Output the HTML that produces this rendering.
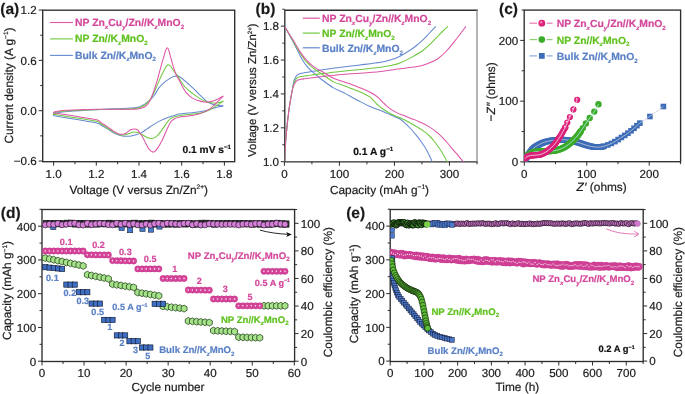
<!DOCTYPE html>
<html><head><meta charset="utf-8"><title>figure</title>
<style>
html,body{margin:0;padding:0;background:#fff;}
body{width:685px;height:394px;overflow:hidden;}
svg{display:block;font-family:"Liberation Sans", sans-serif;will-change:transform;text-rendering:geometricPrecision;}
</style></head><body>
<svg width="685" height="394" viewBox="0 0 685 394">
<rect width="685" height="394" fill="#fff"/>
<rect x="42.7" y="10.2" width="192" height="151.5" fill="none" stroke="#2e2e2e" stroke-width="1.35"/>
<line x1="53.6" y1="161.7" x2="53.6" y2="165.7" stroke="#2e2e2e" stroke-width="1.0"/>
<line x1="96.3" y1="161.7" x2="96.3" y2="165.7" stroke="#2e2e2e" stroke-width="1.0"/>
<line x1="139" y1="161.7" x2="139" y2="165.7" stroke="#2e2e2e" stroke-width="1.0"/>
<line x1="181.7" y1="161.7" x2="181.7" y2="165.7" stroke="#2e2e2e" stroke-width="1.0"/>
<line x1="224.4" y1="161.7" x2="224.4" y2="165.7" stroke="#2e2e2e" stroke-width="1.0"/>
<line x1="74.95" y1="161.7" x2="74.95" y2="164.2" stroke="#2e2e2e" stroke-width="1.0"/>
<line x1="117.65" y1="161.7" x2="117.65" y2="164.2" stroke="#2e2e2e" stroke-width="1.0"/>
<line x1="160.35" y1="161.7" x2="160.35" y2="164.2" stroke="#2e2e2e" stroke-width="1.0"/>
<line x1="203.05" y1="161.7" x2="203.05" y2="164.2" stroke="#2e2e2e" stroke-width="1.0"/>
<line x1="38.7" y1="10.02" x2="42.7" y2="10.02" stroke="#2e2e2e" stroke-width="1.0"/>
<line x1="38.7" y1="60.36" x2="42.7" y2="60.36" stroke="#2e2e2e" stroke-width="1.0"/>
<line x1="38.7" y1="110.7" x2="42.7" y2="110.7" stroke="#2e2e2e" stroke-width="1.0"/>
<line x1="38.7" y1="161.04" x2="42.7" y2="161.04" stroke="#2e2e2e" stroke-width="1.0"/>
<line x1="40.2" y1="35.19" x2="42.7" y2="35.19" stroke="#2e2e2e" stroke-width="1.0"/>
<line x1="40.2" y1="85.53" x2="42.7" y2="85.53" stroke="#2e2e2e" stroke-width="1.0"/>
<line x1="40.2" y1="135.87" x2="42.7" y2="135.87" stroke="#2e2e2e" stroke-width="1.0"/>
<text x="53.6" y="178.2" font-size="11.6" text-anchor="middle" font-weight="normal" fill="#1a1a1a" stroke="#1a1a1a" stroke-width="0.2" >1.0</text>
<text x="96.3" y="178.2" font-size="11.6" text-anchor="middle" font-weight="normal" fill="#1a1a1a" stroke="#1a1a1a" stroke-width="0.2" >1.2</text>
<text x="139" y="178.2" font-size="11.6" text-anchor="middle" font-weight="normal" fill="#1a1a1a" stroke="#1a1a1a" stroke-width="0.2" >1.4</text>
<text x="181.7" y="178.2" font-size="11.6" text-anchor="middle" font-weight="normal" fill="#1a1a1a" stroke="#1a1a1a" stroke-width="0.2" >1.6</text>
<text x="224.4" y="178.2" font-size="11.6" text-anchor="middle" font-weight="normal" fill="#1a1a1a" stroke="#1a1a1a" stroke-width="0.2" >1.8</text>
<text x="36.6" y="14.32" font-size="11.6" text-anchor="end" font-weight="normal" fill="#1a1a1a" stroke="#1a1a1a" stroke-width="0.2" >1.2</text>
<text x="36.6" y="64.66" font-size="11.6" text-anchor="end" font-weight="normal" fill="#1a1a1a" stroke="#1a1a1a" stroke-width="0.2" >0.6</text>
<text x="36.6" y="115" font-size="11.6" text-anchor="end" font-weight="normal" fill="#1a1a1a" stroke="#1a1a1a" stroke-width="0.2" >0.0</text>
<text x="36.6" y="165.34" font-size="11.6" text-anchor="end" font-weight="normal" fill="#1a1a1a" stroke="#1a1a1a" stroke-width="0.2" >&#8722;0.6</text>
<text x="138.8" y="193.9" font-size="11.85" text-anchor="middle" font-weight="normal" fill="#1a1a1a" stroke="#1a1a1a" stroke-width="0.2" >Voltage (V versus Zn/Zn<tspan font-size="6.6" dy="-4.6">2+</tspan><tspan dy="4.6">)</tspan></text>
<g transform="translate(12.8,85.5) rotate(-90)">
<text x="0" y="0" font-size="11.85" text-anchor="middle" font-weight="normal" fill="#1a1a1a" stroke="#1a1a1a" stroke-width="0.2" >Current density (A g<tspan font-size="6.6" dy="-4.6">&#8722;1</tspan><tspan dy="4.6">)</tspan></text>
</g>
<text x="0.3" y="14.2" font-size="15.5" text-anchor="start" font-weight="bold" fill="#1a1a1a" stroke="#1a1a1a" stroke-width="0.2" >(a)</text>
<line x1="50" y1="22.5" x2="72.9" y2="22.5" stroke="#de55a6" stroke-width="1.1"/>
<text x="75" y="26" font-size="10.4" text-anchor="start" font-weight="bold" fill="#d4489c" stroke="#d4489c" stroke-width="0.2" >NP Zn<tspan font-size="6.2" dy="2.5" font-style="italic">x</tspan><tspan dy="-2.5">Cu</tspan><tspan font-size="6.2" dy="2.5" font-style="italic">y</tspan><tspan dy="-2.5">/Zn//K</tspan><tspan font-size="6.2" dy="2.5" font-style="italic">z</tspan><tspan dy="-2.5">MnO</tspan><tspan font-size="6.2" dy="2.5">2</tspan></text>
<line x1="50" y1="38.9" x2="72.9" y2="38.9" stroke="#70c840" stroke-width="1.1"/>
<text x="75" y="42.4" font-size="10.4" text-anchor="start" font-weight="bold" fill="#60c220" stroke="#60c220" stroke-width="0.2" >NP Zn//K<tspan font-size="6.2" dy="2.5" font-style="italic">z</tspan><tspan dy="-2.5">MnO</tspan><tspan font-size="6.2" dy="2.5">2</tspan></text>
<line x1="50" y1="55.4" x2="72.9" y2="55.4" stroke="#6589d2" stroke-width="1.1"/>
<text x="75" y="58.9" font-size="10.4" text-anchor="start" font-weight="bold" fill="#5a80c6" stroke="#5a80c6" stroke-width="0.2" >Bulk Zn//K<tspan font-size="6.2" dy="2.5" font-style="italic">z</tspan><tspan dy="-2.5">MnO</tspan><tspan font-size="6.2" dy="2.5">2</tspan></text>
<text x="231" y="152.9" font-size="10.2" text-anchor="end" font-weight="bold" fill="#111" stroke="#111" stroke-width="0.2" >0.1 mV s<tspan font-size="6.2" dy="-4.0">&#8722;1</tspan></text>
<path d="M53.1,114.8 C53.58,114.53 54.42,113.67 56,113.2 C57.58,112.73 59.68,112.38 62.6,112 C65.52,111.62 69.25,111.22 73.5,110.9 C77.75,110.58 83.68,110.35 88.1,110.1 C92.52,109.85 95.52,109.62 100,109.4 C104.48,109.18 110.33,109 115,108.8 C119.67,108.6 124.77,108.37 128,108.2 C131.23,108.03 132.6,108.02 134.4,107.8 C136.2,107.58 137.45,107.32 138.8,106.9 C140.15,106.48 141.33,105.88 142.5,105.3 C143.67,104.72 144.52,104.3 145.8,103.4 C147.08,102.5 148.75,101.3 150.2,99.9 C151.65,98.5 153.02,97.03 154.5,95 C155.98,92.97 157.32,89.93 159.1,87.7 C160.88,85.47 163.17,83.28 165.2,81.6 C167.23,79.92 169.65,78.48 171.3,77.6 C172.95,76.72 173.95,76.55 175.1,76.3 C176.25,76.05 176.93,75.65 178.2,76.1 C179.47,76.55 181.1,77.77 182.7,79 C184.3,80.23 186.12,82.02 187.8,83.5 C189.48,84.98 190.9,86.1 192.8,87.9 C194.7,89.7 197.08,92.22 199.2,94.3 C201.32,96.38 203.6,98.85 205.5,100.4 C207.4,101.95 208.7,102.78 210.6,103.6 C212.5,104.42 214.78,104.92 216.9,105.3 C219.02,105.68 222.23,105.8 223.3,105.9" fill="none" stroke="#6589d2" stroke-width="1.05"/>
<path d="M223.3,105.9 C222.23,106.13 219.55,106.58 216.9,107.3 C214.25,108.02 210.55,109.4 207.4,110.2 C204.25,111 201.15,111.63 198,112.1 C194.85,112.57 191.67,112.68 188.5,113 C185.33,113.32 181.28,113.6 179,114 C176.72,114.4 176.75,114.78 174.8,115.4 C172.85,116.02 169.78,116.78 167.3,117.7 C164.82,118.62 162.2,119.75 159.9,120.9 C157.6,122.05 155.63,123.27 153.5,124.6 C151.37,125.93 149.23,127.48 147.1,128.9 C144.97,130.32 142.67,132.08 140.7,133.1 C138.73,134.12 137.1,134.48 135.3,135 C133.5,135.52 131.83,136 129.9,136.2 C127.97,136.4 125.47,136.35 123.7,136.2 C121.93,136.05 121.07,135.9 119.3,135.3 C117.53,134.7 115.03,133.63 113.1,132.6 C111.17,131.57 109.63,130.28 107.7,129.1 C105.77,127.92 103.18,126.47 101.5,125.5 C99.82,124.53 99.83,123.98 97.6,123.3 C95.37,122.62 91.5,122.03 88.1,121.4 C84.7,120.77 81.45,120.2 77.2,119.5 C72.95,118.8 66.62,117.85 62.6,117.2 C58.58,116.55 54.68,115.87 53.1,115.6" fill="none" stroke="#6589d2" stroke-width="1.05"/>
<path d="M53.1,113.6 C53.58,113.38 54.42,112.7 56,112.3 C57.58,111.9 59.68,111.52 62.6,111.2 C65.52,110.88 69.25,110.62 73.5,110.4 C77.75,110.18 83.68,110.03 88.1,109.9 C92.52,109.77 95.52,109.7 100,109.6 C104.48,109.5 110.33,109.4 115,109.3 C119.67,109.2 124.77,109.12 128,109 C131.23,108.88 132.6,108.82 134.4,108.6 C136.2,108.38 137.37,108.13 138.8,107.7 C140.23,107.27 141.72,106.68 143,106 C144.28,105.32 145.42,104.5 146.5,103.6 C147.58,102.7 148.47,101.98 149.5,100.6 C150.53,99.22 151.6,97.45 152.7,95.3 C153.8,93.15 154.98,90.23 156.1,87.7 C157.22,85.17 158.27,82.63 159.4,80.1 C160.53,77.57 161.88,74.6 162.9,72.5 C163.92,70.4 164.65,68.78 165.5,67.5 C166.35,66.22 167.25,65.1 168,64.8 C168.75,64.5 169.25,65 170,65.7 C170.75,66.4 171.65,67.83 172.5,69 C173.35,70.17 174.15,71.43 175.1,72.7 C176.05,73.97 177.15,75.02 178.2,76.6 C179.25,78.18 180.02,80.22 181.4,82.2 C182.78,84.18 184.6,86.6 186.5,88.5 C188.4,90.4 190.68,92 192.8,93.6 C194.92,95.2 197.08,96.82 199.2,98.1 C201.32,99.38 203.18,100.47 205.5,101.3 C207.82,102.13 210.93,102.87 213.1,103.1 C215.27,103.33 216.8,103.02 218.5,102.7 C220.2,102.38 222.5,101.45 223.3,101.2" fill="none" stroke="#70c840" stroke-width="1.05"/>
<path d="M223.3,101.2 C222.23,101.9 219.23,103.93 216.9,105.4 C214.57,106.87 211.67,108.82 209.3,110 C206.93,111.18 205.38,111.83 202.7,112.5 C200.02,113.17 196.37,113.6 193.2,114 C190.03,114.4 186.77,114.45 183.7,114.9 C180.63,115.35 177,116.07 174.8,116.7 C172.6,117.33 171.92,117.57 170.5,118.7 C169.08,119.83 167.72,121.63 166.3,123.5 C164.88,125.37 163.43,127.93 162,129.9 C160.57,131.87 158.95,134.02 157.7,135.3 C156.45,136.58 155.57,137.07 154.5,137.6 C153.43,138.13 152.3,138.42 151.3,138.5 C150.3,138.58 149.38,138.37 148.5,138.1 C147.62,137.83 147.3,137.63 146,136.9 C144.7,136.17 142.3,134.48 140.7,133.7 C139.1,132.92 137.83,132.43 136.4,132.2 C134.97,131.97 133.18,132.13 132.1,132.3 C131.02,132.47 131,132.8 129.9,133.2 C128.8,133.6 127.27,134.43 125.5,134.7 C123.73,134.97 121.37,135.3 119.3,134.8 C117.23,134.3 115.03,132.8 113.1,131.7 C111.17,130.6 109.63,129.45 107.7,128.2 C105.77,126.95 103.18,125.3 101.5,124.2 C99.82,123.1 99.83,122.33 97.6,121.6 C95.37,120.87 91.5,120.4 88.1,119.8 C84.7,119.2 81.45,118.68 77.2,118 C72.95,117.32 66.62,116.33 62.6,115.7 C58.58,115.07 54.68,114.45 53.1,114.2" fill="none" stroke="#70c840" stroke-width="1.05"/>
<path d="M53.1,112.6 C53.58,112.43 54.42,111.93 56,111.6 C57.58,111.27 59.68,110.88 62.6,110.6 C65.52,110.32 69.25,110.1 73.5,109.9 C77.75,109.7 83.68,109.5 88.1,109.4 C92.52,109.3 95.52,109.32 100,109.3 C104.48,109.28 110.33,109.3 115,109.3 C119.67,109.3 124.77,109.32 128,109.3 C131.23,109.28 132.57,109.3 134.4,109.2 C136.23,109.1 137.53,108.97 139,108.7 C140.47,108.43 142.03,108.08 143.2,107.6 C144.37,107.12 145.13,106.52 146,105.8 C146.87,105.08 147.73,104.17 148.4,103.3 C149.07,102.43 149.35,101.93 150,100.6 C150.65,99.27 151.48,97.45 152.3,95.3 C153.12,93.15 154.07,90.23 154.9,87.7 C155.73,85.17 156.55,82.63 157.3,80.1 C158.05,77.57 158.72,75.05 159.4,72.5 C160.08,69.95 160.68,67.35 161.4,64.8 C162.12,62.25 163.03,59.47 163.7,57.2 C164.37,54.93 164.83,52.77 165.4,51.2 C165.97,49.63 166.53,47.95 167.1,47.8 C167.67,47.65 168.22,48.73 168.8,50.3 C169.38,51.87 169.93,54.78 170.6,57.2 C171.27,59.62 172.05,62.33 172.8,64.8 C173.55,67.27 174.32,69.9 175.1,72 C175.88,74.1 176.67,75.77 177.5,77.4 C178.33,79.03 179.23,80.2 180.1,81.8 C180.97,83.4 181.63,85.15 182.7,87 C183.77,88.85 185.02,91.13 186.5,92.9 C187.98,94.67 189.68,96.33 191.6,97.6 C193.52,98.87 195.88,99.77 198,100.5 C200.12,101.23 202.62,101.75 204.3,102 C205.98,102.25 206.63,102.17 208.1,102 C209.57,101.83 211.37,101.55 213.1,101 C214.83,100.45 216.8,99.53 218.5,98.7 C220.2,97.87 222.5,96.45 223.3,96" fill="none" stroke="#de55a6" stroke-width="1.05"/>
<path d="M223.3,96 C222.75,96.58 221.07,98.45 220,99.5 C218.93,100.55 217.98,101.28 216.9,102.3 C215.82,103.32 214.45,104.67 213.5,105.6 C212.55,106.53 212.53,106.93 211.2,107.9 C209.87,108.87 207.7,110.33 205.5,111.4 C203.3,112.47 200.83,113.53 198,114.3 C195.17,115.07 191.67,115.52 188.5,116 C185.33,116.48 181.28,116.77 179,117.2 C176.72,117.63 176.22,117.75 174.8,118.6 C173.38,119.45 171.92,120.23 170.5,122.3 C169.08,124.37 167.72,127.95 166.3,131 C164.88,134.05 163.43,137.75 162,140.6 C160.57,143.45 159.12,146.18 157.7,148.1 C156.28,150.02 154.92,151.88 153.5,152.1 C152.08,152.32 150.45,150.78 149.2,149.4 C147.95,148.02 147.07,145.8 146,143.8 C144.93,141.8 143.78,139.18 142.8,137.4 C141.82,135.62 140.98,134.33 140.1,133.1 C139.22,131.87 138.45,130.68 137.5,130 C136.55,129.32 135.47,129.07 134.4,129 C133.33,128.93 132,129.28 131.1,129.6 C130.2,129.92 129.77,130.37 129,130.9 C128.23,131.43 127.38,132.28 126.5,132.8 C125.62,133.32 124.9,133.8 123.7,134 C122.5,134.2 120.58,134.23 119.3,134 C118.02,133.77 117.03,133.12 116,132.6 C114.97,132.08 114.48,131.85 113.1,130.9 C111.72,129.95 109.63,128.23 107.7,126.9 C105.77,125.57 103.18,124.05 101.5,122.9 C99.82,121.75 99.83,120.78 97.6,120 C95.37,119.22 91.5,118.8 88.1,118.2 C84.7,117.6 81.45,117.07 77.2,116.4 C72.95,115.73 66.62,114.8 62.6,114.2 C58.58,113.6 54.68,113.03 53.1,112.8" fill="none" stroke="#de55a6" stroke-width="1.05"/>
<path d="M477.7,10.2 H284.1 M284.8,9.5 V161.8 H477.7" fill="none" stroke="#2e2e2e" stroke-width="1.35"/>
<line x1="477" y1="9.5" x2="477" y2="162.5" stroke="#8c8c8c" stroke-width="1.3"/>
<line x1="284.4" y1="161.8" x2="284.4" y2="165.8" stroke="#2e2e2e" stroke-width="1.0"/>
<line x1="339.42" y1="161.8" x2="339.42" y2="165.8" stroke="#2e2e2e" stroke-width="1.0"/>
<line x1="394.44" y1="161.8" x2="394.44" y2="165.8" stroke="#2e2e2e" stroke-width="1.0"/>
<line x1="449.46" y1="161.8" x2="449.46" y2="165.8" stroke="#2e2e2e" stroke-width="1.0"/>
<line x1="311.91" y1="161.8" x2="311.91" y2="164.3" stroke="#2e2e2e" stroke-width="1.0"/>
<line x1="366.93" y1="161.8" x2="366.93" y2="164.3" stroke="#2e2e2e" stroke-width="1.0"/>
<line x1="421.95" y1="161.8" x2="421.95" y2="164.3" stroke="#2e2e2e" stroke-width="1.0"/>
<line x1="476.97" y1="161.8" x2="476.97" y2="164.3" stroke="#2e2e2e" stroke-width="1.0"/>
<line x1="280.8" y1="161.7" x2="284.8" y2="161.7" stroke="#2e2e2e" stroke-width="1.0"/>
<line x1="280.8" y1="127.82" x2="284.8" y2="127.82" stroke="#2e2e2e" stroke-width="1.0"/>
<line x1="280.8" y1="93.94" x2="284.8" y2="93.94" stroke="#2e2e2e" stroke-width="1.0"/>
<line x1="280.8" y1="60.06" x2="284.8" y2="60.06" stroke="#2e2e2e" stroke-width="1.0"/>
<line x1="280.8" y1="26.18" x2="284.8" y2="26.18" stroke="#2e2e2e" stroke-width="1.0"/>
<line x1="282.3" y1="144.76" x2="284.8" y2="144.76" stroke="#2e2e2e" stroke-width="1.0"/>
<line x1="282.3" y1="110.88" x2="284.8" y2="110.88" stroke="#2e2e2e" stroke-width="1.0"/>
<line x1="282.3" y1="77" x2="284.8" y2="77" stroke="#2e2e2e" stroke-width="1.0"/>
<line x1="282.3" y1="43.12" x2="284.8" y2="43.12" stroke="#2e2e2e" stroke-width="1.0"/>
<line x1="282.3" y1="9.24" x2="284.8" y2="9.24" stroke="#2e2e2e" stroke-width="1.0"/>
<text x="284.4" y="178.2" font-size="11.6" text-anchor="middle" font-weight="normal" fill="#1a1a1a" stroke="#1a1a1a" stroke-width="0.2" >0</text>
<text x="339.42" y="178.2" font-size="11.6" text-anchor="middle" font-weight="normal" fill="#1a1a1a" stroke="#1a1a1a" stroke-width="0.2" >100</text>
<text x="394.44" y="178.2" font-size="11.6" text-anchor="middle" font-weight="normal" fill="#1a1a1a" stroke="#1a1a1a" stroke-width="0.2" >200</text>
<text x="449.46" y="178.2" font-size="11.6" text-anchor="middle" font-weight="normal" fill="#1a1a1a" stroke="#1a1a1a" stroke-width="0.2" >300</text>
<text x="279" y="166" font-size="11.6" text-anchor="end" font-weight="normal" fill="#1a1a1a" stroke="#1a1a1a" stroke-width="0.2" >1.0</text>
<text x="279" y="132.12" font-size="11.6" text-anchor="end" font-weight="normal" fill="#1a1a1a" stroke="#1a1a1a" stroke-width="0.2" >1.2</text>
<text x="279" y="98.24" font-size="11.6" text-anchor="end" font-weight="normal" fill="#1a1a1a" stroke="#1a1a1a" stroke-width="0.2" >1.4</text>
<text x="279" y="64.36" font-size="11.6" text-anchor="end" font-weight="normal" fill="#1a1a1a" stroke="#1a1a1a" stroke-width="0.2" >1.6</text>
<text x="279" y="30.48" font-size="11.6" text-anchor="end" font-weight="normal" fill="#1a1a1a" stroke="#1a1a1a" stroke-width="0.2" >1.8</text>
<text x="379.5" y="193.9" font-size="11.85" text-anchor="middle" font-weight="normal" fill="#1a1a1a" stroke="#1a1a1a" stroke-width="0.2" >Capacity (mAh g<tspan font-size="6.6" dy="-4.6">&#8722;1</tspan><tspan dy="4.6">)</tspan></text>
<g transform="translate(256.4,90.1) rotate(-90)">
<text x="0" y="0" font-size="11.45" text-anchor="middle" font-weight="normal" fill="#1a1a1a" stroke="#1a1a1a" stroke-width="0.2" >Voltage (V versus Zn/Zn<tspan font-size="6.2" dy="-4.6">2+</tspan><tspan dy="4.6">)</tspan></text>
</g>
<text x="255.5" y="14.2" font-size="15.5" text-anchor="start" font-weight="bold" fill="#1a1a1a" stroke="#1a1a1a" stroke-width="0.2" >(b)</text>
<line x1="302.8" y1="18.2" x2="319.8" y2="18.2" stroke="#de55a6" stroke-width="1.2"/>
<text x="322" y="22.4" font-size="10.4" text-anchor="start" font-weight="bold" fill="#d4489c" stroke="#d4489c" stroke-width="0.2" >NP Zn<tspan font-size="6.2" dy="2.5" font-style="italic">x</tspan><tspan dy="-2.5">Cu</tspan><tspan font-size="6.2" dy="2.5" font-style="italic">y</tspan><tspan dy="-2.5">/Zn//K</tspan><tspan font-size="6.2" dy="2.5" font-style="italic">z</tspan><tspan dy="-2.5">MnO</tspan><tspan font-size="6.2" dy="2.5">2</tspan></text>
<line x1="302.8" y1="33.1" x2="319.8" y2="33.1" stroke="#70c840" stroke-width="1.2"/>
<text x="322" y="37.3" font-size="10.4" text-anchor="start" font-weight="bold" fill="#60c220" stroke="#60c220" stroke-width="0.2" >NP Zn//K<tspan font-size="6.2" dy="2.5" font-style="italic">z</tspan><tspan dy="-2.5">MnO</tspan><tspan font-size="6.2" dy="2.5">2</tspan></text>
<line x1="302.8" y1="47.8" x2="319.8" y2="47.8" stroke="#6589d2" stroke-width="1.2"/>
<text x="322" y="52" font-size="10.4" text-anchor="start" font-weight="bold" fill="#5a80c6" stroke="#5a80c6" stroke-width="0.2" >Bulk Zn//K<tspan font-size="6.2" dy="2.5" font-style="italic">z</tspan><tspan dy="-2.5">MnO</tspan><tspan font-size="6.2" dy="2.5">2</tspan></text>
<text x="393.2" y="155" font-size="10.3" text-anchor="end" font-weight="bold" fill="#111" stroke="#111" stroke-width="0.2" >0.1 A g<tspan font-size="6.2" dy="-4.0">&#8722;1</tspan></text>
<clipPath id="cb"><rect x="284.8" y="10.2" width="192.2" height="152.20000000000002"/></clipPath>
<g clip-path="url(#cb)">
<path d="M284.6,161.7 C284.73,158.88 285.02,150.5 285.4,144.8 C285.78,139.1 286.32,133.27 286.9,127.5 C287.48,121.73 288.3,114.78 288.9,110.2 C289.5,105.62 289.93,103.37 290.5,100 C291.07,96.63 291.75,93.08 292.3,90 C292.85,86.92 293.28,83.57 293.8,81.5 C294.32,79.43 294.83,78.65 295.4,77.6 C295.97,76.55 296.38,75.87 297.2,75.2 C298.02,74.53 299.12,74.02 300.3,73.6 C301.48,73.18 302.35,73.07 304.3,72.7 C306.25,72.33 308.72,71.92 312,71.4 C315.28,70.88 320.5,70.12 324,69.6 C327.5,69.08 329.5,68.77 333,68.3 C336.5,67.83 340.5,67.35 345,66.8 C349.5,66.25 354.07,65.75 360,65 C365.93,64.25 375.43,63.17 380.6,62.3 C385.77,61.43 387.77,60.82 391,59.8 C394.23,58.78 396.83,57.78 400,56.2 C403.17,54.62 407.25,52.08 410,50.3 C412.75,48.52 414.35,47.25 416.5,45.5 C418.65,43.75 420.73,41.88 422.9,39.8 C425.07,37.72 427.35,35.23 429.5,33 C431.65,30.77 434.75,27.5 435.8,26.4" fill="none" stroke="#6589d2" stroke-width="1.05"/>
<path d="M284.6,26.4 C285.05,27.22 285.8,28.58 287.3,31.3 C288.8,34.02 291.48,38.68 293.6,42.7 C295.72,46.72 297.88,51.58 300,55.4 C302.12,59.22 303.98,62.63 306.3,65.6 C308.62,68.57 311.35,70.88 313.9,73.2 C316.45,75.52 318.4,77.1 321.6,79.5 C324.8,81.9 329.2,85.28 333.1,87.6 C337,89.92 341.85,91.8 345,93.4 C348.15,95 349.67,95.93 352,97.2 C354.33,98.47 356.68,99.77 359,101 C361.32,102.23 363.58,103.48 365.9,104.6 C368.22,105.72 369.87,106.48 372.9,107.7 C375.93,108.92 381.08,110.68 384.1,111.9 C387.12,113.12 388.43,113.85 391,115 C393.57,116.15 397.13,117.42 399.5,118.8 C401.87,120.18 403.3,121.6 405.2,123.3 C407.1,125 409,126.93 410.9,129 C412.8,131.07 414.7,133.32 416.6,135.7 C418.5,138.08 420.55,140.77 422.3,143.3 C424.05,145.83 425.45,147.83 427.1,150.9 C428.75,153.97 431.35,159.9 432.2,161.7" fill="none" stroke="#6589d2" stroke-width="1.05"/>
<path d="M284.6,161.7 C284.73,158.88 285.02,150.5 285.4,144.8 C285.78,139.1 286.32,133.27 286.9,127.5 C287.48,121.73 288.3,114.78 288.9,110.2 C289.5,105.62 289.93,103.37 290.5,100 C291.07,96.63 291.72,92.8 292.3,90 C292.88,87.2 293.43,84.93 294,83.2 C294.57,81.47 295.12,80.53 295.7,79.6 C296.28,78.67 296.7,78.08 297.5,77.6 C298.3,77.12 299.37,76.95 300.5,76.7 C301.63,76.45 302.38,76.38 304.3,76.1 C306.22,75.82 308.72,75.42 312,75 C315.28,74.58 320.5,74.07 324,73.6 C327.5,73.13 329.5,72.63 333,72.2 C336.5,71.77 340.5,71.45 345,71 C349.5,70.55 354.07,70.13 360,69.5 C365.93,68.87 375.27,67.92 380.6,67.2 C385.93,66.48 388.77,65.92 392,65.2 C395.23,64.48 396.83,64.17 400,62.9 C403.17,61.63 407.18,59.67 411,57.6 C414.82,55.53 419.57,52.88 422.9,50.5 C426.23,48.12 428.47,45.72 431,43.3 C433.53,40.88 436.1,38.05 438.1,36 C440.1,33.95 441.35,32.6 443,31 C444.65,29.4 447.17,27.17 448,26.4" fill="none" stroke="#70c840" stroke-width="1.05"/>
<path d="M284.6,26.4 C285.05,27.17 285.8,28.38 287.3,31 C288.8,33.62 291.48,38.45 293.6,42.1 C295.72,45.75 297.88,49.63 300,52.9 C302.12,56.17 303.98,59.07 306.3,61.7 C308.62,64.33 311.35,66.68 313.9,68.7 C316.45,70.72 318.4,71.65 321.6,73.8 C324.8,75.95 329.2,79.57 333.1,81.6 C337,83.63 341.85,84.8 345,86 C348.15,87.2 349.67,87.87 352,88.8 C354.33,89.73 356.68,90.6 359,91.6 C361.32,92.6 364.05,93.87 365.9,94.8 C367.75,95.73 368.7,96.1 370.1,97.2 C371.5,98.3 372.9,100 374.3,101.4 C375.7,102.8 376.87,104.2 378.5,105.6 C380.13,107 382.02,108.4 384.1,109.8 C386.18,111.2 388.43,112.7 391,114 C393.57,115.3 396.5,116.22 399.5,117.6 C402.5,118.98 405.83,120.6 409,122.3 C412.17,124 416,126.3 418.5,127.8 C421,129.3 422.25,130.02 424,131.3 C425.75,132.58 427.33,133.88 429,135.5 C430.67,137.12 432.33,138.95 434,141 C435.67,143.05 437.45,145.53 439,147.8 C440.55,150.07 441.95,152.28 443.3,154.6 C444.65,156.92 446.47,160.52 447.1,161.7" fill="none" stroke="#70c840" stroke-width="1.05"/>
<path d="M284.6,161.7 C284.73,158.88 285.02,150.5 285.4,144.8 C285.78,139.1 286.32,133.27 286.9,127.5 C287.48,121.73 288.3,114.78 288.9,110.2 C289.5,105.62 289.93,103.37 290.5,100 C291.07,96.63 291.68,92.57 292.3,90 C292.92,87.43 293.58,86 294.2,84.6 C294.82,83.2 295.37,82.37 296,81.6 C296.63,80.83 297.17,80.38 298,80 C298.83,79.62 299.95,79.5 301,79.3 C302.05,79.1 302.47,79.05 304.3,78.8 C306.13,78.55 308.72,78.22 312,77.8 C315.28,77.38 320.5,76.7 324,76.3 C327.5,75.9 329.5,75.75 333,75.4 C336.5,75.05 340.5,74.55 345,74.2 C349.5,73.85 354.07,73.75 360,73.3 C365.93,72.85 373.93,72.25 380.6,71.5 C387.27,70.75 394.77,69.5 400,68.8 C405.23,68.1 408.18,67.88 412,67.3 C415.82,66.72 419.73,66.13 422.9,65.3 C426.07,64.47 428.47,63.43 431,62.3 C433.53,61.17 435.6,60.3 438.1,58.5 C440.6,56.7 443.47,54.1 446,51.5 C448.53,48.9 451.05,45.65 453.3,42.9 C455.55,40.15 457.42,37.75 459.5,35 C461.58,32.25 464.75,27.83 465.8,26.4" fill="none" stroke="#de55a6" stroke-width="1.05"/>
<path d="M284.6,26.4 C285.05,27.13 285.8,28.4 287.3,30.8 C288.8,33.2 291.48,37.33 293.6,40.8 C295.72,44.27 297.88,48.43 300,51.6 C302.12,54.77 303.98,57.27 306.3,59.8 C308.62,62.33 311.35,64.88 313.9,66.8 C316.45,68.72 318.4,69.43 321.6,71.3 C324.8,73.17 329.2,76.17 333.1,78 C337,79.83 341.85,81.18 345,82.3 C348.15,83.42 349.67,83.85 352,84.7 C354.33,85.55 356.68,86.48 359,87.4 C361.32,88.32 363.58,89.15 365.9,90.2 C368.22,91.25 370.8,92.42 372.9,93.7 C375,94.98 376.63,96.27 378.5,97.9 C380.37,99.53 382.25,101.75 384.1,103.5 C385.95,105.25 387.52,106.88 389.6,108.4 C391.68,109.92 394.2,111.4 396.6,112.6 C399,113.8 401.6,114.63 404,115.6 C406.4,116.57 408.58,117.43 411,118.4 C413.42,119.37 415.67,120.12 418.5,121.4 C421.33,122.68 424.82,124.2 428,126.1 C431.18,128 434.73,130.42 437.6,132.8 C440.47,135.18 442.98,138.02 445.2,140.4 C447.42,142.78 449,144.88 450.9,147.1 C452.8,149.32 454.55,151.27 456.6,153.7 C458.65,156.13 462.1,160.37 463.2,161.7" fill="none" stroke="#de55a6" stroke-width="1.05"/>
</g>
<rect x="524.2" y="10.1" width="156.4" height="151.6" fill="none" stroke="#2e2e2e" stroke-width="1.35"/>
<line x1="524.3" y1="161.7" x2="524.3" y2="165.7" stroke="#2e2e2e" stroke-width="1.0"/>
<line x1="586.75" y1="161.7" x2="586.75" y2="165.7" stroke="#2e2e2e" stroke-width="1.0"/>
<line x1="649.2" y1="161.7" x2="649.2" y2="165.7" stroke="#2e2e2e" stroke-width="1.0"/>
<line x1="555.52" y1="161.7" x2="555.52" y2="164.2" stroke="#2e2e2e" stroke-width="1.0"/>
<line x1="617.97" y1="161.7" x2="617.97" y2="164.2" stroke="#2e2e2e" stroke-width="1.0"/>
<line x1="680.42" y1="161.7" x2="680.42" y2="164.2" stroke="#2e2e2e" stroke-width="1.0"/>
<line x1="520.2" y1="161.9" x2="524.2" y2="161.9" stroke="#2e2e2e" stroke-width="1.0"/>
<line x1="520.2" y1="101.15" x2="524.2" y2="101.15" stroke="#2e2e2e" stroke-width="1.0"/>
<line x1="520.2" y1="40.4" x2="524.2" y2="40.4" stroke="#2e2e2e" stroke-width="1.0"/>
<line x1="521.7" y1="131.53" x2="524.2" y2="131.53" stroke="#2e2e2e" stroke-width="1.0"/>
<line x1="521.7" y1="70.78" x2="524.2" y2="70.78" stroke="#2e2e2e" stroke-width="1.0"/>
<line x1="521.7" y1="10.03" x2="524.2" y2="10.03" stroke="#2e2e2e" stroke-width="1.0"/>
<text x="524.3" y="178.2" font-size="11.6" text-anchor="middle" font-weight="normal" fill="#1a1a1a" stroke="#1a1a1a" stroke-width="0.2" >0</text>
<text x="518.2" y="166.2" font-size="11.6" text-anchor="end" font-weight="normal" fill="#1a1a1a" stroke="#1a1a1a" stroke-width="0.2" >0</text>
<text x="586.75" y="178.2" font-size="11.6" text-anchor="middle" font-weight="normal" fill="#1a1a1a" stroke="#1a1a1a" stroke-width="0.2" >100</text>
<text x="518.2" y="105.45" font-size="11.6" text-anchor="end" font-weight="normal" fill="#1a1a1a" stroke="#1a1a1a" stroke-width="0.2" >100</text>
<text x="649.2" y="178.2" font-size="11.6" text-anchor="middle" font-weight="normal" fill="#1a1a1a" stroke="#1a1a1a" stroke-width="0.2" >200</text>
<text x="518.2" y="44.7" font-size="11.6" text-anchor="end" font-weight="normal" fill="#1a1a1a" stroke="#1a1a1a" stroke-width="0.2" >200</text>
<text x="601.6" y="190.9" font-size="11.85" text-anchor="middle" font-weight="normal" fill="#1a1a1a" stroke="#1a1a1a" stroke-width="0.2" ><tspan font-style="italic">Z</tspan><tspan dx="0.6" font-style="italic">&#8242;</tspan> (ohms)</text>
<g transform="translate(494.6,91.9) rotate(-90)">
<text x="0" y="0" font-size="11.85" text-anchor="middle" font-weight="normal" fill="#1a1a1a" stroke="#1a1a1a" stroke-width="0.2" >&#8722;<tspan font-style="italic">Z</tspan><tspan dx="0.6" font-style="italic">&#8243;</tspan> (ohms)</text>
</g>
<text x="499" y="14.2" font-size="15.5" text-anchor="start" font-weight="bold" fill="#1a1a1a" stroke="#1a1a1a" stroke-width="0.2" >(c)</text>
<defs><radialGradient id="gp" cx="0.5" cy="0.5" r="0.55" fx="0.38" fy="0.32"><stop offset="0" stop-color="#fff4f8"/><stop offset="0.14" stop-color="#f4a0c6"/><stop offset="0.36" stop-color="#e42c86"/><stop offset="1" stop-color="#d41a72"/></radialGradient></defs>
<clipPath id="cc"><rect x="524.2" y="10.1" width="156.39999999999998" height="151.6"/></clipPath>
<g clip-path="url(#cc)">
<g fill="#3d6cb8">
<rect x="522.5" y="156.8" width="5.6" height="5.6"/>
<rect x="522.97" y="156.03" width="5.6" height="5.6"/>
<rect x="523.43" y="155.26" width="5.6" height="5.6"/>
<rect x="523.89" y="154.49" width="5.6" height="5.6"/>
<rect x="524.37" y="153.72" width="5.6" height="5.6"/>
<rect x="524.85" y="152.96" width="5.6" height="5.6"/>
<rect x="525.35" y="152.21" width="5.6" height="5.6"/>
<rect x="525.86" y="151.47" width="5.6" height="5.6"/>
<rect x="526.38" y="150.74" width="5.6" height="5.6"/>
<rect x="526.91" y="150.01" width="5.6" height="5.6"/>
<rect x="527.44" y="149.28" width="5.6" height="5.6"/>
<rect x="527.97" y="148.56" width="5.6" height="5.6"/>
<rect x="528.53" y="147.85" width="5.6" height="5.6"/>
<rect x="529.09" y="147.15" width="5.6" height="5.6"/>
<rect x="529.68" y="146.47" width="5.6" height="5.6"/>
<rect x="530.29" y="145.81" width="5.6" height="5.6"/>
<rect x="530.95" y="145.2" width="5.6" height="5.6"/>
<rect x="531.65" y="144.63" width="5.6" height="5.6"/>
<rect x="532.38" y="144.11" width="5.6" height="5.6"/>
<rect x="533.14" y="143.63" width="5.6" height="5.6"/>
<rect x="533.92" y="143.17" width="5.6" height="5.6"/>
<rect x="534.69" y="142.71" width="5.6" height="5.6"/>
<rect x="535.46" y="142.25" width="5.6" height="5.6"/>
<rect x="536.25" y="141.8" width="5.6" height="5.6"/>
<rect x="537.04" y="141.37" width="5.6" height="5.6"/>
<rect x="537.84" y="140.96" width="5.6" height="5.6"/>
<rect x="538.65" y="140.57" width="5.6" height="5.6"/>
<rect x="539.47" y="140.21" width="5.6" height="5.6"/>
<rect x="540.31" y="139.88" width="5.6" height="5.6"/>
<rect x="541.15" y="139.57" width="5.6" height="5.6"/>
<rect x="542.01" y="139.28" width="5.6" height="5.6"/>
<rect x="542.87" y="139.01" width="5.6" height="5.6"/>
<rect x="543.73" y="138.76" width="5.6" height="5.6"/>
<rect x="544.6" y="138.53" width="5.6" height="5.6"/>
<rect x="545.47" y="138.31" width="5.6" height="5.6"/>
<rect x="546.35" y="138.12" width="5.6" height="5.6"/>
<rect x="547.24" y="137.95" width="5.6" height="5.6"/>
<rect x="548.12" y="137.79" width="5.6" height="5.6"/>
<rect x="549.01" y="137.65" width="5.6" height="5.6"/>
<rect x="549.9" y="137.51" width="5.6" height="5.6"/>
<rect x="550.79" y="137.39" width="5.6" height="5.6"/>
<rect x="551.69" y="137.29" width="5.6" height="5.6"/>
<rect x="552.58" y="137.19" width="5.6" height="5.6"/>
<rect x="553.48" y="137.12" width="5.6" height="5.6"/>
<rect x="554.38" y="137.05" width="5.6" height="5.6"/>
<rect x="555.27" y="137" width="5.6" height="5.6"/>
<rect x="556.17" y="136.95" width="5.6" height="5.6"/>
<rect x="557.07" y="136.91" width="5.6" height="5.6"/>
<rect x="557.97" y="136.88" width="5.6" height="5.6"/>
<rect x="558.87" y="136.87" width="5.6" height="5.6"/>
<rect x="559.77" y="136.87" width="5.6" height="5.6"/>
<rect x="560.67" y="136.9" width="5.6" height="5.6"/>
<rect x="561.57" y="136.95" width="5.6" height="5.6"/>
<rect x="562.47" y="137.02" width="5.6" height="5.6"/>
<rect x="563.36" y="137.11" width="5.6" height="5.6"/>
<rect x="564.26" y="137.21" width="5.6" height="5.6"/>
<rect x="565.15" y="137.33" width="5.6" height="5.6"/>
<rect x="566.04" y="137.47" width="5.6" height="5.6"/>
<rect x="566.92" y="137.63" width="5.6" height="5.6"/>
<rect x="567.81" y="137.81" width="5.6" height="5.6"/>
<rect x="568.69" y="137.99" width="5.6" height="5.6"/>
<rect x="569.56" y="138.2" width="5.6" height="5.6"/>
<rect x="570.44" y="138.4" width="5.6" height="5.6"/>
<rect x="571.31" y="138.62" width="5.6" height="5.6"/>
<rect x="572.18" y="138.84" width="5.6" height="5.6"/>
<rect x="573.05" y="139.08" width="5.6" height="5.6"/>
<rect x="573.92" y="139.32" width="5.6" height="5.6"/>
<rect x="574.78" y="139.58" width="5.6" height="5.6"/>
<rect x="575.64" y="139.85" width="5.6" height="5.6"/>
<rect x="576.5" y="140.12" width="5.6" height="5.6"/>
<rect x="577.36" y="140.39" width="5.6" height="5.6"/>
<rect x="578.21" y="140.66" width="5.6" height="5.6"/>
<rect x="579.07" y="140.95" width="5.6" height="5.6"/>
<rect x="579.92" y="141.24" width="5.6" height="5.6"/>
<rect x="580.77" y="141.53" width="5.6" height="5.6"/>
<rect x="581.63" y="141.81" width="5.6" height="5.6"/>
<rect x="582.49" y="142.08" width="5.6" height="5.6"/>
<rect x="583.35" y="142.33" width="5.6" height="5.6"/>
<rect x="584.21" y="142.58" width="5.6" height="5.6"/>
<rect x="585.08" y="142.83" width="5.6" height="5.6"/>
<rect x="585.95" y="143.06" width="5.6" height="5.6"/>
<rect x="586.82" y="143.29" width="5.6" height="5.6"/>
<rect x="587.7" y="143.49" width="5.6" height="5.6"/>
<rect x="588.58" y="143.68" width="5.6" height="5.6"/>
<rect x="589.46" y="143.84" width="5.6" height="5.6"/>
<rect x="590.35" y="143.99" width="5.6" height="5.6"/>
<rect x="591.24" y="144.13" width="5.6" height="5.6"/>
<rect x="592.13" y="144.25" width="5.6" height="5.6"/>
<rect x="593.03" y="144.34" width="5.6" height="5.6"/>
<rect x="593.93" y="144.39" width="5.6" height="5.6"/>
<rect x="594.83" y="144.4" width="5.6" height="5.6"/>
<rect x="595.73" y="144.37" width="5.6" height="5.6"/>
<rect x="596.62" y="144.3" width="5.6" height="5.6"/>
<rect x="597.52" y="144.2" width="5.6" height="5.6"/>
<rect x="598.41" y="144.07" width="5.6" height="5.6"/>
<rect x="599.29" y="143.91" width="5.6" height="5.6"/>
<rect x="600.17" y="143.73" width="5.6" height="5.6"/>
<rect x="601.31" y="143.44" width="5.6" height="5.6"/>
<rect x="604.99" y="142.15" width="5.6" height="5.6"/>
<rect x="608.57" y="140.62" width="5.6" height="5.6"/>
<rect x="612.04" y="138.83" width="5.6" height="5.6"/>
<rect x="615.34" y="136.75" width="5.6" height="5.6"/>
<rect x="618.62" y="134.64" width="5.6" height="5.6"/>
<rect x="621.93" y="132.58" width="5.6" height="5.6"/>
<rect x="625.13" y="130.36" width="5.6" height="5.6"/>
<rect x="628.23" y="127.99" width="5.6" height="5.6"/>
<rect x="631.2" y="125.47" width="5.6" height="5.6"/>
<rect x="634.11" y="122.87" width="5.6" height="5.6"/>
<rect x="637.08" y="120.34" width="5.6" height="5.6"/>
<rect x="647.1" y="113.7" width="5.6" height="5.6"/>
<rect x="660.6" y="103.7" width="5.6" height="5.6"/>
</g>
<path d="M525.3,159.6 C525.83,158.75 527.2,156.33 528.5,154.5 C529.8,152.67 531.6,150.1 533.1,148.6 C534.6,147.1 535.97,146.43 537.5,145.5 C539.03,144.57 540.63,143.7 542.3,143 C543.97,142.3 545.75,141.75 547.5,141.3 C549.25,140.85 551.05,140.55 552.8,140.3 C554.55,140.05 556.23,139.9 558,139.8 C559.77,139.7 561.57,139.62 563.4,139.7 C565.23,139.78 567.03,139.97 569,140.3 C570.97,140.63 573.28,141.2 575.2,141.7 C577.12,142.2 578.75,142.75 580.5,143.3 C582.25,143.85 583.87,144.47 585.7,145 C587.53,145.53 589.53,146.13 591.5,146.5 C593.47,146.87 595.5,147.22 597.5,147.2 C599.5,147.18 601.48,146.9 603.5,146.4 C605.52,145.9 607.7,145 609.6,144.2 C611.5,143.4 613.13,142.6 614.9,141.6 C616.67,140.6 618.42,139.33 620.2,138.2 C621.98,137.07 623.82,136.02 625.6,134.8 C627.38,133.58 629.18,132.27 630.9,130.9 C632.62,129.53 634.42,127.88 635.9,126.6 C637.38,125.32 637.47,124.93 639.8,123.2 C642.13,121.47 645.97,118.98 649.9,116.2 C653.83,113.42 661.15,108.12 663.4,106.5" fill="none" stroke="#c4ccd8" stroke-width="0.8"/>
<g fill="#3cab2a">
<circle cx="524.8" cy="158.6" r="3.2"/>
<circle cx="525.38" cy="157.92" r="3.2"/>
<circle cx="525.96" cy="157.23" r="3.2"/>
<circle cx="526.56" cy="156.55" r="3.2"/>
<circle cx="527.19" cy="155.91" r="3.2"/>
<circle cx="527.86" cy="155.31" r="3.2"/>
<circle cx="528.57" cy="154.76" r="3.2"/>
<circle cx="529.3" cy="154.23" r="3.2"/>
<circle cx="530.04" cy="153.72" r="3.2"/>
<circle cx="530.8" cy="153.24" r="3.2"/>
<circle cx="531.6" cy="152.82" r="3.2"/>
<circle cx="532.42" cy="152.45" r="3.2"/>
<circle cx="533.27" cy="152.15" r="3.2"/>
<circle cx="534.14" cy="151.94" r="3.2"/>
<circle cx="535.03" cy="151.78" r="3.2"/>
<circle cx="535.92" cy="151.67" r="3.2"/>
<circle cx="536.82" cy="151.59" r="3.2"/>
<circle cx="537.71" cy="151.53" r="3.2"/>
<circle cx="538.61" cy="151.48" r="3.2"/>
<circle cx="539.51" cy="151.43" r="3.2"/>
<circle cx="540.41" cy="151.38" r="3.2"/>
<circle cx="541.31" cy="151.34" r="3.2"/>
<circle cx="542.21" cy="151.32" r="3.2"/>
<circle cx="543.11" cy="151.32" r="3.2"/>
<circle cx="544.01" cy="151.32" r="3.2"/>
<circle cx="544.91" cy="151.32" r="3.2"/>
<circle cx="545.81" cy="151.31" r="3.2"/>
<circle cx="546.71" cy="151.29" r="3.2"/>
<circle cx="547.61" cy="151.25" r="3.2"/>
<circle cx="548.51" cy="151.22" r="3.2"/>
<circle cx="549.41" cy="151.17" r="3.2"/>
<circle cx="550.3" cy="151.11" r="3.2"/>
<circle cx="551.2" cy="151.03" r="3.2"/>
<circle cx="552.1" cy="150.94" r="3.2"/>
<circle cx="552.99" cy="150.84" r="3.2"/>
<circle cx="553.88" cy="150.72" r="3.2"/>
<circle cx="554.77" cy="150.59" r="3.2"/>
<circle cx="555.66" cy="150.44" r="3.2"/>
<circle cx="556.54" cy="150.26" r="3.2"/>
<circle cx="557.42" cy="150.04" r="3.2"/>
<circle cx="558.28" cy="149.79" r="3.2"/>
<circle cx="559.14" cy="149.52" r="3.2"/>
<circle cx="559.98" cy="149.21" r="3.2"/>
<circle cx="560.82" cy="148.88" r="3.2"/>
<circle cx="561.65" cy="148.54" r="3.2"/>
<circle cx="562.48" cy="148.18" r="3.2"/>
<circle cx="563.29" cy="147.8" r="3.2"/>
<circle cx="564.1" cy="147.4" r="3.2"/>
<circle cx="564.89" cy="146.97" r="3.2"/>
<circle cx="565.66" cy="146.51" r="3.2"/>
<circle cx="566.42" cy="146.02" r="3.2"/>
<circle cx="567.16" cy="145.5" r="3.2"/>
<circle cx="567.88" cy="144.96" r="3.2"/>
<circle cx="568.58" cy="144.41" r="3.2"/>
<circle cx="569.28" cy="143.83" r="3.2"/>
<circle cx="569.97" cy="143.26" r="3.2"/>
<circle cx="570.65" cy="142.67" r="3.2"/>
<circle cx="571.33" cy="142.08" r="3.2"/>
<circle cx="572.01" cy="141.49" r="3.2"/>
<circle cx="572.67" cy="140.88" r="3.2"/>
<circle cx="573.33" cy="140.27" r="3.2"/>
<circle cx="573.98" cy="139.65" r="3.2"/>
<circle cx="574.62" cy="139.01" r="3.2"/>
<circle cx="575.24" cy="138.36" r="3.2"/>
<circle cx="575.84" cy="137.69" r="3.2"/>
<circle cx="576.43" cy="137" r="3.2"/>
<circle cx="577" cy="136.31" r="3.2"/>
<circle cx="577.56" cy="135.6" r="3.2"/>
<circle cx="578.11" cy="134.89" r="3.2"/>
<circle cx="578.65" cy="134.17" r="3.2"/>
<circle cx="579.19" cy="133.45" r="3.2"/>
<circle cx="579.72" cy="132.72" r="3.2"/>
<circle cx="580.23" cy="131.99" r="3.2"/>
<circle cx="580.73" cy="131.24" r="3.2"/>
<circle cx="582.8" cy="128.1" r="3.2"/>
<circle cx="585.9" cy="123.5" r="3.2"/>
<circle cx="589.7" cy="118" r="3.2"/>
<circle cx="594.3" cy="111.6" r="3.2"/>
<circle cx="598.5" cy="104.3" r="3.2"/>
</g>
<path d="M524.8,158.6 C525.33,158.03 526.62,156.27 528,155.2 C529.38,154.13 531.1,152.83 533.1,152.2 C535.1,151.57 537.8,151.55 540,151.4 C542.2,151.25 544.38,151.37 546.3,151.3 C548.22,151.23 549.75,151.18 551.5,151 C553.25,150.82 555.13,150.6 556.8,150.2 C558.47,149.8 559.97,149.25 561.5,148.6 C563.03,147.95 564.5,147.27 566,146.3 C567.5,145.33 568.97,144.12 570.5,142.8 C572.03,141.48 573.73,139.98 575.2,138.4 C576.67,136.82 578.03,135.02 579.3,133.3 C580.57,131.58 581.7,129.73 582.8,128.1 C583.9,126.47 584.75,125.18 585.9,123.5 C587.05,121.82 588.3,119.98 589.7,118 C591.1,116.02 592.83,113.88 594.3,111.6 C595.77,109.32 597.8,105.52 598.5,104.3" fill="none" stroke="#b0ece4" stroke-width="0.8"/>
<g fill="url(#gp)">
<circle cx="524.8" cy="158.8" r="3.1"/>
<circle cx="525.42" cy="158.15" r="3.1"/>
<circle cx="526.06" cy="157.51" r="3.1"/>
<circle cx="526.76" cy="156.95" r="3.1"/>
<circle cx="527.55" cy="156.52" r="3.1"/>
<circle cx="528.38" cy="156.18" r="3.1"/>
<circle cx="529.24" cy="155.9" r="3.1"/>
<circle cx="530.11" cy="155.68" r="3.1"/>
<circle cx="530.99" cy="155.52" r="3.1"/>
<circle cx="531.89" cy="155.41" r="3.1"/>
<circle cx="532.79" cy="155.35" r="3.1"/>
<circle cx="533.68" cy="155.3" r="3.1"/>
<circle cx="534.58" cy="155.24" r="3.1"/>
<circle cx="535.48" cy="155.16" r="3.1"/>
<circle cx="536.38" cy="155.09" r="3.1"/>
<circle cx="537.27" cy="155.02" r="3.1"/>
<circle cx="538.17" cy="154.93" r="3.1"/>
<circle cx="539.06" cy="154.82" r="3.1"/>
<circle cx="539.94" cy="154.64" r="3.1"/>
<circle cx="540.81" cy="154.41" r="3.1"/>
<circle cx="541.66" cy="154.11" r="3.1"/>
<circle cx="542.49" cy="153.77" r="3.1"/>
<circle cx="543.31" cy="153.39" r="3.1"/>
<circle cx="544.13" cy="153.01" r="3.1"/>
<circle cx="544.93" cy="152.59" r="3.1"/>
<circle cx="545.71" cy="152.15" r="3.1"/>
<circle cx="546.47" cy="151.67" r="3.1"/>
<circle cx="547.2" cy="151.15" r="3.1"/>
<circle cx="547.92" cy="150.61" r="3.1"/>
<circle cx="548.63" cy="150.05" r="3.1"/>
<circle cx="549.32" cy="149.47" r="3.1"/>
<circle cx="550" cy="148.88" r="3.1"/>
<circle cx="550.67" cy="148.28" r="3.1"/>
<circle cx="551.33" cy="147.67" r="3.1"/>
<circle cx="551.97" cy="147.04" r="3.1"/>
<circle cx="552.61" cy="146.4" r="3.1"/>
<circle cx="553.23" cy="145.75" r="3.1"/>
<circle cx="553.84" cy="145.09" r="3.1"/>
<circle cx="554.44" cy="144.42" r="3.1"/>
<circle cx="555.02" cy="143.73" r="3.1"/>
<circle cx="555.59" cy="143.04" r="3.1"/>
<circle cx="556.13" cy="142.32" r="3.1"/>
<circle cx="556.65" cy="141.58" r="3.1"/>
<circle cx="557.16" cy="140.84" r="3.1"/>
<circle cx="557.66" cy="140.09" r="3.1"/>
<circle cx="558.17" cy="139.35" r="3.1"/>
<circle cx="558.68" cy="138.61" r="3.1"/>
<circle cx="559.2" cy="137.87" r="3.1"/>
<circle cx="559.72" cy="137.12" r="3.1"/>
<circle cx="560.9" cy="135.26" r="3.1"/>
<circle cx="561.98" cy="133.34" r="3.1"/>
<circle cx="563.03" cy="131.41" r="3.1"/>
<circle cx="564.14" cy="129.51" r="3.1"/>
<circle cx="565.21" cy="127.59" r="3.1"/>
<circle cx="565.3" cy="127.4" r="3.1"/>
<circle cx="567.3" cy="122.5" r="3.1"/>
<circle cx="569.9" cy="117" r="3.1"/>
<circle cx="573.4" cy="109.4" r="3.1"/>
<circle cx="577.2" cy="99.8" r="3.1"/>
</g>
<path d="M524.8,158.8 C525.17,158.47 526.05,157.33 527,156.8 C527.95,156.27 529.17,155.87 530.5,155.6 C531.83,155.33 533.47,155.35 535,155.2 C536.53,155.05 538.32,155 539.7,154.7 C541.08,154.4 542.08,153.97 543.3,153.4 C544.52,152.83 545.65,152.27 547,151.3 C548.35,150.33 550.02,148.92 551.4,147.6 C552.78,146.28 554.17,144.78 555.3,143.4 C556.43,142.02 557.3,140.6 558.2,139.3 C559.1,138 559.87,136.97 560.7,135.6 C561.53,134.23 562.43,132.47 563.2,131.1 C563.97,129.73 564.62,128.83 565.3,127.4 C565.98,125.97 566.53,124.23 567.3,122.5 C568.07,120.77 568.88,119.18 569.9,117 C570.92,114.82 572.18,112.27 573.4,109.4 C574.62,106.53 576.57,101.4 577.2,99.8" fill="none" stroke="#fbe0ee" stroke-width="0.8"/>
</g>
<line x1="529.5" y1="23.2" x2="537" y2="23.2" stroke="#e878b0" stroke-width="1.2"/>
<line x1="546.6" y1="23.2" x2="552.6" y2="23.2" stroke="#e878b0" stroke-width="1.2"/>
<circle cx="541.8" cy="23.2" r="3.4" fill="url(#gp)"/>
<text x="556.7" y="27.3" font-size="10.4" text-anchor="start" font-weight="bold" fill="#d4489c" stroke="#d4489c" stroke-width="0.2" >NP Zn<tspan font-size="6.2" dy="2.5" font-style="italic">x</tspan><tspan dy="-2.5">Cu</tspan><tspan font-size="6.2" dy="2.5" font-style="italic">y</tspan><tspan dy="-2.5">/Zn//K</tspan><tspan font-size="6.2" dy="2.5" font-style="italic">z</tspan><tspan dy="-2.5">MnO</tspan><tspan font-size="6.2" dy="2.5">2</tspan></text>
<line x1="529.5" y1="39.6" x2="537" y2="39.6" stroke="#88d070" stroke-width="1.2"/>
<line x1="546.6" y1="39.6" x2="552.6" y2="39.6" stroke="#88d070" stroke-width="1.2"/>
<circle cx="541.8" cy="39.6" r="3.3" fill="#3cab2a"/>
<text x="556.7" y="43.7" font-size="10.4" text-anchor="start" font-weight="bold" fill="#60c220" stroke="#60c220" stroke-width="0.2" >NP Zn//K<tspan font-size="6.2" dy="2.5" font-style="italic">z</tspan><tspan dy="-2.5">MnO</tspan><tspan font-size="6.2" dy="2.5">2</tspan></text>
<line x1="529.5" y1="55.9" x2="537" y2="55.9" stroke="#88aade" stroke-width="1.2"/>
<line x1="546.6" y1="55.9" x2="552.6" y2="55.9" stroke="#88aade" stroke-width="1.2"/>
<rect x="538.9" y="53" width="5.8" height="5.8" fill="#3d6cb8"/>
<text x="556.7" y="60" font-size="10.4" text-anchor="start" font-weight="bold" fill="#5a80c6" stroke="#5a80c6" stroke-width="0.2" >Bulk Zn//K<tspan font-size="6.2" dy="2.5" font-style="italic">z</tspan><tspan dy="-2.5">MnO</tspan><tspan font-size="6.2" dy="2.5">2</tspan></text>
<rect x="42" y="209.5" width="252.6" height="152" fill="none" stroke="#2e2e2e" stroke-width="1.35"/>
<line x1="42" y1="361.5" x2="42" y2="365.5" stroke="#2e2e2e" stroke-width="1.0"/>
<line x1="84.05" y1="361.5" x2="84.05" y2="365.5" stroke="#2e2e2e" stroke-width="1.0"/>
<line x1="126.1" y1="361.5" x2="126.1" y2="365.5" stroke="#2e2e2e" stroke-width="1.0"/>
<line x1="168.15" y1="361.5" x2="168.15" y2="365.5" stroke="#2e2e2e" stroke-width="1.0"/>
<line x1="210.2" y1="361.5" x2="210.2" y2="365.5" stroke="#2e2e2e" stroke-width="1.0"/>
<line x1="252.25" y1="361.5" x2="252.25" y2="365.5" stroke="#2e2e2e" stroke-width="1.0"/>
<line x1="294.3" y1="361.5" x2="294.3" y2="365.5" stroke="#2e2e2e" stroke-width="1.0"/>
<line x1="63.02" y1="361.5" x2="63.02" y2="364" stroke="#2e2e2e" stroke-width="1.0"/>
<line x1="105.08" y1="361.5" x2="105.08" y2="364" stroke="#2e2e2e" stroke-width="1.0"/>
<line x1="147.12" y1="361.5" x2="147.12" y2="364" stroke="#2e2e2e" stroke-width="1.0"/>
<line x1="189.18" y1="361.5" x2="189.18" y2="364" stroke="#2e2e2e" stroke-width="1.0"/>
<line x1="231.22" y1="361.5" x2="231.22" y2="364" stroke="#2e2e2e" stroke-width="1.0"/>
<line x1="273.27" y1="361.5" x2="273.27" y2="364" stroke="#2e2e2e" stroke-width="1.0"/>
<line x1="38" y1="361.2" x2="42" y2="361.2" stroke="#2e2e2e" stroke-width="1.0"/>
<line x1="38" y1="327.45" x2="42" y2="327.45" stroke="#2e2e2e" stroke-width="1.0"/>
<line x1="38" y1="293.7" x2="42" y2="293.7" stroke="#2e2e2e" stroke-width="1.0"/>
<line x1="38" y1="259.95" x2="42" y2="259.95" stroke="#2e2e2e" stroke-width="1.0"/>
<line x1="38" y1="226.2" x2="42" y2="226.2" stroke="#2e2e2e" stroke-width="1.0"/>
<line x1="39.5" y1="344.32" x2="42" y2="344.32" stroke="#2e2e2e" stroke-width="1.0"/>
<line x1="39.5" y1="310.57" x2="42" y2="310.57" stroke="#2e2e2e" stroke-width="1.0"/>
<line x1="39.5" y1="276.82" x2="42" y2="276.82" stroke="#2e2e2e" stroke-width="1.0"/>
<line x1="39.5" y1="243.07" x2="42" y2="243.07" stroke="#2e2e2e" stroke-width="1.0"/>
<line x1="39.5" y1="209.32" x2="42" y2="209.32" stroke="#2e2e2e" stroke-width="1.0"/>
<line x1="294.6" y1="361.2" x2="298.6" y2="361.2" stroke="#2e2e2e" stroke-width="1.0"/>
<line x1="294.6" y1="333.62" x2="298.6" y2="333.62" stroke="#2e2e2e" stroke-width="1.0"/>
<line x1="294.6" y1="306.04" x2="298.6" y2="306.04" stroke="#2e2e2e" stroke-width="1.0"/>
<line x1="294.6" y1="278.46" x2="298.6" y2="278.46" stroke="#2e2e2e" stroke-width="1.0"/>
<line x1="294.6" y1="250.88" x2="298.6" y2="250.88" stroke="#2e2e2e" stroke-width="1.0"/>
<line x1="294.6" y1="223.3" x2="298.6" y2="223.3" stroke="#2e2e2e" stroke-width="1.0"/>
<line x1="294.6" y1="347.41" x2="297.1" y2="347.41" stroke="#2e2e2e" stroke-width="1.0"/>
<line x1="294.6" y1="319.83" x2="297.1" y2="319.83" stroke="#2e2e2e" stroke-width="1.0"/>
<line x1="294.6" y1="292.25" x2="297.1" y2="292.25" stroke="#2e2e2e" stroke-width="1.0"/>
<line x1="294.6" y1="264.67" x2="297.1" y2="264.67" stroke="#2e2e2e" stroke-width="1.0"/>
<line x1="294.6" y1="237.09" x2="297.1" y2="237.09" stroke="#2e2e2e" stroke-width="1.0"/>
<line x1="294.6" y1="209.51" x2="297.1" y2="209.51" stroke="#2e2e2e" stroke-width="1.0"/>
<text x="42" y="377.3" font-size="11.6" text-anchor="middle" font-weight="normal" fill="#1a1a1a" stroke="#1a1a1a" stroke-width="0.2" >0</text>
<text x="84.05" y="377.3" font-size="11.6" text-anchor="middle" font-weight="normal" fill="#1a1a1a" stroke="#1a1a1a" stroke-width="0.2" >10</text>
<text x="126.1" y="377.3" font-size="11.6" text-anchor="middle" font-weight="normal" fill="#1a1a1a" stroke="#1a1a1a" stroke-width="0.2" >20</text>
<text x="168.15" y="377.3" font-size="11.6" text-anchor="middle" font-weight="normal" fill="#1a1a1a" stroke="#1a1a1a" stroke-width="0.2" >30</text>
<text x="210.2" y="377.3" font-size="11.6" text-anchor="middle" font-weight="normal" fill="#1a1a1a" stroke="#1a1a1a" stroke-width="0.2" >40</text>
<text x="252.25" y="377.3" font-size="11.6" text-anchor="middle" font-weight="normal" fill="#1a1a1a" stroke="#1a1a1a" stroke-width="0.2" >50</text>
<text x="294.3" y="377.3" font-size="11.6" text-anchor="middle" font-weight="normal" fill="#1a1a1a" stroke="#1a1a1a" stroke-width="0.2" >60</text>
<text x="36.2" y="365.5" font-size="11.6" text-anchor="end" font-weight="normal" fill="#1a1a1a" stroke="#1a1a1a" stroke-width="0.2" >0</text>
<text x="36.2" y="331.75" font-size="11.6" text-anchor="end" font-weight="normal" fill="#1a1a1a" stroke="#1a1a1a" stroke-width="0.2" >100</text>
<text x="36.2" y="298" font-size="11.6" text-anchor="end" font-weight="normal" fill="#1a1a1a" stroke="#1a1a1a" stroke-width="0.2" >200</text>
<text x="36.2" y="264.25" font-size="11.6" text-anchor="end" font-weight="normal" fill="#1a1a1a" stroke="#1a1a1a" stroke-width="0.2" >300</text>
<text x="36.2" y="230.5" font-size="11.6" text-anchor="end" font-weight="normal" fill="#1a1a1a" stroke="#1a1a1a" stroke-width="0.2" >400</text>
<text x="300.8" y="365.5" font-size="11.6" text-anchor="start" font-weight="normal" fill="#1a1a1a" stroke="#1a1a1a" stroke-width="0.2" >0</text>
<text x="300.8" y="337.92" font-size="11.6" text-anchor="start" font-weight="normal" fill="#1a1a1a" stroke="#1a1a1a" stroke-width="0.2" >20</text>
<text x="300.8" y="310.34" font-size="11.6" text-anchor="start" font-weight="normal" fill="#1a1a1a" stroke="#1a1a1a" stroke-width="0.2" >40</text>
<text x="300.8" y="282.76" font-size="11.6" text-anchor="start" font-weight="normal" fill="#1a1a1a" stroke="#1a1a1a" stroke-width="0.2" >60</text>
<text x="300.8" y="255.18" font-size="11.6" text-anchor="start" font-weight="normal" fill="#1a1a1a" stroke="#1a1a1a" stroke-width="0.2" >80</text>
<text x="300.8" y="227.6" font-size="11.6" text-anchor="start" font-weight="normal" fill="#1a1a1a" stroke="#1a1a1a" stroke-width="0.2" >100</text>
<text x="168" y="391.1" font-size="11.85" text-anchor="middle" font-weight="normal" fill="#1a1a1a" stroke="#1a1a1a" stroke-width="0.2" >Cycle number</text>
<g transform="translate(11.2,290.5) rotate(-90)">
<text x="0" y="0" font-size="11.85" text-anchor="middle" font-weight="normal" fill="#1a1a1a" stroke="#1a1a1a" stroke-width="0.2" >Capacity (mAh g<tspan font-size="6.6" dy="-4.6">&#8722;1</tspan><tspan dy="4.6">)</tspan></text>
</g>
<g transform="translate(331.8,292.2) rotate(-90)">
<text x="0" y="0" font-size="11.85" text-anchor="middle" font-weight="normal" fill="#1a1a1a" stroke="#1a1a1a" stroke-width="0.2" >Coulombic efficiency (%)</text>
</g>
<text x="0.8" y="217.5" font-size="15.5" text-anchor="start" font-weight="bold" fill="#1a1a1a" stroke="#1a1a1a" stroke-width="0.2" >(d)</text>
<rect x="43.2" y="220.24" width="6.2" height="6.4" fill="#2c2c34" stroke="#101010" stroke-width="0.5"/>
<rect x="47.41" y="220.49" width="6.2" height="6.4" fill="#2c2c34" stroke="#101010" stroke-width="0.5"/>
<rect x="51.62" y="220.35" width="6.2" height="6.4" fill="#2c2c34" stroke="#101010" stroke-width="0.5"/>
<rect x="55.82" y="220.53" width="6.2" height="6.4" fill="#2c2c34" stroke="#101010" stroke-width="0.5"/>
<rect x="60.02" y="220.55" width="6.2" height="6.4" fill="#2c2c34" stroke="#101010" stroke-width="0.5"/>
<rect x="64.23" y="220.1" width="6.2" height="6.4" fill="#2c2c34" stroke="#101010" stroke-width="0.5"/>
<rect x="68.44" y="220.06" width="6.2" height="6.4" fill="#2c2c34" stroke="#101010" stroke-width="0.5"/>
<rect x="72.64" y="220.72" width="6.2" height="6.4" fill="#2c2c34" stroke="#101010" stroke-width="0.5"/>
<rect x="76.84" y="220.26" width="6.2" height="6.4" fill="#2c2c34" stroke="#101010" stroke-width="0.5"/>
<rect x="81.05" y="220.24" width="6.2" height="6.4" fill="#2c2c34" stroke="#101010" stroke-width="0.5"/>
<rect x="85.26" y="220.85" width="6.2" height="6.4" fill="#2c2c34" stroke="#101010" stroke-width="0.5"/>
<rect x="89.46" y="220.43" width="6.2" height="6.4" fill="#2c2c34" stroke="#101010" stroke-width="0.5"/>
<rect x="93.67" y="220.72" width="6.2" height="6.4" fill="#2c2c34" stroke="#101010" stroke-width="0.5"/>
<rect x="97.87" y="220.43" width="6.2" height="6.4" fill="#2c2c34" stroke="#101010" stroke-width="0.5"/>
<rect x="102.08" y="220.56" width="6.2" height="6.4" fill="#2c2c34" stroke="#101010" stroke-width="0.5"/>
<rect x="106.28" y="220.17" width="6.2" height="6.4" fill="#2c2c34" stroke="#101010" stroke-width="0.5"/>
<rect x="110.49" y="220.56" width="6.2" height="6.4" fill="#2c2c34" stroke="#101010" stroke-width="0.5"/>
<rect x="114.69" y="220.75" width="6.2" height="6.4" fill="#2c2c34" stroke="#101010" stroke-width="0.5"/>
<rect x="118.9" y="220.47" width="6.2" height="6.4" fill="#2c2c34" stroke="#101010" stroke-width="0.5"/>
<rect x="123.1" y="220.64" width="6.2" height="6.4" fill="#2c2c34" stroke="#101010" stroke-width="0.5"/>
<rect x="127.31" y="220.59" width="6.2" height="6.4" fill="#2c2c34" stroke="#101010" stroke-width="0.5"/>
<rect x="131.51" y="220.1" width="6.2" height="6.4" fill="#2c2c34" stroke="#101010" stroke-width="0.5"/>
<rect x="135.72" y="220.66" width="6.2" height="6.4" fill="#2c2c34" stroke="#101010" stroke-width="0.5"/>
<rect x="139.92" y="220.52" width="6.2" height="6.4" fill="#2c2c34" stroke="#101010" stroke-width="0.5"/>
<rect x="144.12" y="220.29" width="6.2" height="6.4" fill="#2c2c34" stroke="#101010" stroke-width="0.5"/>
<rect x="148.33" y="220.08" width="6.2" height="6.4" fill="#2c2c34" stroke="#101010" stroke-width="0.5"/>
<rect x="152.53" y="220.74" width="6.2" height="6.4" fill="#2c2c34" stroke="#101010" stroke-width="0.5"/>
<rect x="156.74" y="220.43" width="6.2" height="6.4" fill="#2c2c34" stroke="#101010" stroke-width="0.5"/>
<rect x="160.95" y="220.63" width="6.2" height="6.4" fill="#2c2c34" stroke="#101010" stroke-width="0.5"/>
<rect x="165.15" y="220.75" width="6.2" height="6.4" fill="#2c2c34" stroke="#101010" stroke-width="0.5"/>
<rect x="169.35" y="220.62" width="6.2" height="6.4" fill="#2c2c34" stroke="#101010" stroke-width="0.5"/>
<rect x="173.56" y="220.79" width="6.2" height="6.4" fill="#2c2c34" stroke="#101010" stroke-width="0.5"/>
<rect x="177.77" y="220.37" width="6.2" height="6.4" fill="#2c2c34" stroke="#101010" stroke-width="0.5"/>
<rect x="181.97" y="220.69" width="6.2" height="6.4" fill="#2c2c34" stroke="#101010" stroke-width="0.5"/>
<rect x="186.18" y="220.41" width="6.2" height="6.4" fill="#2c2c34" stroke="#101010" stroke-width="0.5"/>
<rect x="190.38" y="220.8" width="6.2" height="6.4" fill="#2c2c34" stroke="#101010" stroke-width="0.5"/>
<rect x="194.59" y="220.75" width="6.2" height="6.4" fill="#2c2c34" stroke="#101010" stroke-width="0.5"/>
<rect x="198.79" y="220.13" width="6.2" height="6.4" fill="#2c2c34" stroke="#101010" stroke-width="0.5"/>
<rect x="203" y="220.16" width="6.2" height="6.4" fill="#2c2c34" stroke="#101010" stroke-width="0.5"/>
<rect x="207.2" y="220.23" width="6.2" height="6.4" fill="#2c2c34" stroke="#101010" stroke-width="0.5"/>
<rect x="211.41" y="220.82" width="6.2" height="6.4" fill="#2c2c34" stroke="#101010" stroke-width="0.5"/>
<rect x="215.61" y="220.4" width="6.2" height="6.4" fill="#2c2c34" stroke="#101010" stroke-width="0.5"/>
<rect x="219.81" y="220.55" width="6.2" height="6.4" fill="#2c2c34" stroke="#101010" stroke-width="0.5"/>
<rect x="224.02" y="220.29" width="6.2" height="6.4" fill="#2c2c34" stroke="#101010" stroke-width="0.5"/>
<rect x="228.22" y="220.46" width="6.2" height="6.4" fill="#2c2c34" stroke="#101010" stroke-width="0.5"/>
<rect x="232.43" y="220.36" width="6.2" height="6.4" fill="#2c2c34" stroke="#101010" stroke-width="0.5"/>
<rect x="236.63" y="220.33" width="6.2" height="6.4" fill="#2c2c34" stroke="#101010" stroke-width="0.5"/>
<rect x="240.84" y="220.52" width="6.2" height="6.4" fill="#2c2c34" stroke="#101010" stroke-width="0.5"/>
<rect x="245.05" y="220.52" width="6.2" height="6.4" fill="#2c2c34" stroke="#101010" stroke-width="0.5"/>
<rect x="249.25" y="220.77" width="6.2" height="6.4" fill="#2c2c34" stroke="#101010" stroke-width="0.5"/>
<rect x="253.46" y="220.6" width="6.2" height="6.4" fill="#2c2c34" stroke="#101010" stroke-width="0.5"/>
<rect x="257.66" y="220.79" width="6.2" height="6.4" fill="#2c2c34" stroke="#101010" stroke-width="0.5"/>
<rect x="261.87" y="220.74" width="6.2" height="6.4" fill="#2c2c34" stroke="#101010" stroke-width="0.5"/>
<rect x="266.07" y="220.84" width="6.2" height="6.4" fill="#2c2c34" stroke="#101010" stroke-width="0.5"/>
<rect x="270.27" y="220.59" width="6.2" height="6.4" fill="#2c2c34" stroke="#101010" stroke-width="0.5"/>
<rect x="274.48" y="220.18" width="6.2" height="6.4" fill="#2c2c34" stroke="#101010" stroke-width="0.5"/>
<rect x="278.69" y="220.74" width="6.2" height="6.4" fill="#2c2c34" stroke="#101010" stroke-width="0.5"/>
<rect x="282.89" y="220.82" width="6.2" height="6.4" fill="#2c2c34" stroke="#101010" stroke-width="0.5"/>
<rect x="50.7" y="224.4" width="5.2" height="5.2" fill="#4a7ccc" stroke="#15203a" stroke-width="0.6"/>
<rect x="119" y="225.3" width="5.2" height="5.2" fill="#4a7ccc" stroke="#15203a" stroke-width="0.6"/>
<rect x="127.5" y="227.5" width="5.2" height="5.2" fill="#4a7ccc" stroke="#15203a" stroke-width="0.6"/>
<rect x="139.9" y="226.2" width="5.2" height="5.2" fill="#4a7ccc" stroke="#15203a" stroke-width="0.6"/>
<rect x="148.4" y="227" width="5.2" height="5.2" fill="#4a7ccc" stroke="#15203a" stroke-width="0.6"/>
<rect x="156.9" y="223.9" width="5.2" height="5.2" fill="#4a7ccc" stroke="#15203a" stroke-width="0.6"/>
<circle cx="45.3" cy="224.86" r="3.05" fill="#d580d8" stroke="#1c101c" stroke-width="0.65"/>
<circle cx="49.51" cy="224.25" r="3.05" fill="#d580d8" stroke="#1c101c" stroke-width="0.65"/>
<circle cx="53.72" cy="224.51" r="3.05" fill="#d580d8" stroke="#1c101c" stroke-width="0.65"/>
<circle cx="57.92" cy="223.61" r="3.05" fill="#d580d8" stroke="#1c101c" stroke-width="0.65"/>
<circle cx="62.12" cy="224.72" r="3.05" fill="#d580d8" stroke="#1c101c" stroke-width="0.65"/>
<circle cx="66.33" cy="224.26" r="3.05" fill="#d580d8" stroke="#1c101c" stroke-width="0.65"/>
<circle cx="70.53" cy="223.74" r="3.05" fill="#d580d8" stroke="#1c101c" stroke-width="0.65"/>
<circle cx="74.74" cy="223.34" r="3.05" fill="#d580d8" stroke="#1c101c" stroke-width="0.65"/>
<circle cx="78.94" cy="224.76" r="3.05" fill="#d580d8" stroke="#1c101c" stroke-width="0.65"/>
<circle cx="83.15" cy="225.01" r="3.05" fill="#d580d8" stroke="#1c101c" stroke-width="0.65"/>
<circle cx="87.36" cy="223.39" r="3.05" fill="#d580d8" stroke="#1c101c" stroke-width="0.65"/>
<circle cx="91.56" cy="224.67" r="3.05" fill="#d580d8" stroke="#1c101c" stroke-width="0.65"/>
<circle cx="95.77" cy="223.97" r="3.05" fill="#d580d8" stroke="#1c101c" stroke-width="0.65"/>
<circle cx="99.97" cy="223.5" r="3.05" fill="#d580d8" stroke="#1c101c" stroke-width="0.65"/>
<circle cx="104.18" cy="223.76" r="3.05" fill="#d580d8" stroke="#1c101c" stroke-width="0.65"/>
<circle cx="108.38" cy="224.61" r="3.05" fill="#d580d8" stroke="#1c101c" stroke-width="0.65"/>
<circle cx="112.59" cy="224.8" r="3.05" fill="#d580d8" stroke="#1c101c" stroke-width="0.65"/>
<circle cx="116.79" cy="223.31" r="3.05" fill="#d580d8" stroke="#1c101c" stroke-width="0.65"/>
<circle cx="121" cy="224.33" r="3.05" fill="#d580d8" stroke="#1c101c" stroke-width="0.65"/>
<circle cx="125.2" cy="223.31" r="3.05" fill="#d580d8" stroke="#1c101c" stroke-width="0.65"/>
<circle cx="129.41" cy="224.52" r="3.05" fill="#d580d8" stroke="#1c101c" stroke-width="0.65"/>
<circle cx="133.61" cy="223.82" r="3.05" fill="#d580d8" stroke="#1c101c" stroke-width="0.65"/>
<circle cx="137.81" cy="224.81" r="3.05" fill="#d580d8" stroke="#1c101c" stroke-width="0.65"/>
<circle cx="142.02" cy="224.99" r="3.05" fill="#d580d8" stroke="#1c101c" stroke-width="0.65"/>
<circle cx="146.22" cy="224.14" r="3.05" fill="#d580d8" stroke="#1c101c" stroke-width="0.65"/>
<circle cx="150.43" cy="225.02" r="3.05" fill="#d580d8" stroke="#1c101c" stroke-width="0.65"/>
<circle cx="154.63" cy="223.78" r="3.05" fill="#d580d8" stroke="#1c101c" stroke-width="0.65"/>
<circle cx="158.84" cy="223.37" r="3.05" fill="#d580d8" stroke="#1c101c" stroke-width="0.65"/>
<circle cx="163.05" cy="224.31" r="3.05" fill="#d580d8" stroke="#1c101c" stroke-width="0.65"/>
<circle cx="167.25" cy="223.28" r="3.05" fill="#d580d8" stroke="#1c101c" stroke-width="0.65"/>
<circle cx="171.45" cy="223.58" r="3.05" fill="#d580d8" stroke="#1c101c" stroke-width="0.65"/>
<circle cx="175.66" cy="223.96" r="3.05" fill="#d580d8" stroke="#1c101c" stroke-width="0.65"/>
<circle cx="179.87" cy="224.33" r="3.05" fill="#d580d8" stroke="#1c101c" stroke-width="0.65"/>
<circle cx="184.07" cy="223.51" r="3.05" fill="#d580d8" stroke="#1c101c" stroke-width="0.65"/>
<circle cx="188.28" cy="223.3" r="3.05" fill="#d580d8" stroke="#1c101c" stroke-width="0.65"/>
<circle cx="192.48" cy="224.79" r="3.05" fill="#d580d8" stroke="#1c101c" stroke-width="0.65"/>
<circle cx="196.69" cy="223.79" r="3.05" fill="#d580d8" stroke="#1c101c" stroke-width="0.65"/>
<circle cx="200.89" cy="224.95" r="3.05" fill="#d580d8" stroke="#1c101c" stroke-width="0.65"/>
<circle cx="205.09" cy="224.84" r="3.05" fill="#d580d8" stroke="#1c101c" stroke-width="0.65"/>
<circle cx="209.3" cy="223.91" r="3.05" fill="#d580d8" stroke="#1c101c" stroke-width="0.65"/>
<circle cx="213.5" cy="224.06" r="3.05" fill="#d580d8" stroke="#1c101c" stroke-width="0.65"/>
<circle cx="217.71" cy="224.16" r="3.05" fill="#d580d8" stroke="#1c101c" stroke-width="0.65"/>
<circle cx="221.91" cy="224.39" r="3.05" fill="#d580d8" stroke="#1c101c" stroke-width="0.65"/>
<circle cx="226.12" cy="224.3" r="3.05" fill="#d580d8" stroke="#1c101c" stroke-width="0.65"/>
<circle cx="230.32" cy="224.23" r="3.05" fill="#d580d8" stroke="#1c101c" stroke-width="0.65"/>
<circle cx="234.53" cy="224.34" r="3.05" fill="#d580d8" stroke="#1c101c" stroke-width="0.65"/>
<circle cx="238.73" cy="224.92" r="3.05" fill="#d580d8" stroke="#1c101c" stroke-width="0.65"/>
<circle cx="242.94" cy="224.14" r="3.05" fill="#d580d8" stroke="#1c101c" stroke-width="0.65"/>
<circle cx="247.15" cy="224" r="3.05" fill="#d580d8" stroke="#1c101c" stroke-width="0.65"/>
<circle cx="251.35" cy="224.52" r="3.05" fill="#d580d8" stroke="#1c101c" stroke-width="0.65"/>
<circle cx="255.56" cy="223.66" r="3.05" fill="#d580d8" stroke="#1c101c" stroke-width="0.65"/>
<circle cx="259.76" cy="223.77" r="3.05" fill="#d580d8" stroke="#1c101c" stroke-width="0.65"/>
<circle cx="263.97" cy="224.99" r="3.05" fill="#d580d8" stroke="#1c101c" stroke-width="0.65"/>
<circle cx="268.17" cy="224.17" r="3.05" fill="#d580d8" stroke="#1c101c" stroke-width="0.65"/>
<circle cx="272.38" cy="224.21" r="3.05" fill="#d580d8" stroke="#1c101c" stroke-width="0.65"/>
<circle cx="276.58" cy="223.25" r="3.05" fill="#d580d8" stroke="#1c101c" stroke-width="0.65"/>
<circle cx="280.79" cy="223.97" r="3.05" fill="#d580d8" stroke="#1c101c" stroke-width="0.65"/>
<circle cx="284.99" cy="224.27" r="3.05" fill="#d580d8" stroke="#1c101c" stroke-width="0.65"/>
<path d="M259.9,230.1 Q272,233.6 289.5,234.4" fill="none" stroke="#111" stroke-width="0.9"/>
<path d="M291.8,234.5 L286.2,231.9 L287.6,234.5 L286.2,237.1 Z" fill="#111"/>
<defs><path id="hx" d="M0,-3.5 L3.0,-1.75 L3.0,1.75 L0,3.5 L-3.0,1.75 L-3.0,-1.75 Z"/></defs>
<use href="#hx" x="45.3" y="258" fill="#a6e38a" stroke="#1f3d16" stroke-width="0.75"/>
<use href="#hx" x="49.51" y="258.88" fill="#a6e38a" stroke="#1f3d16" stroke-width="0.75"/>
<use href="#hx" x="53.72" y="259.76" fill="#a6e38a" stroke="#1f3d16" stroke-width="0.75"/>
<use href="#hx" x="57.92" y="260.63" fill="#a6e38a" stroke="#1f3d16" stroke-width="0.75"/>
<use href="#hx" x="62.12" y="261.51" fill="#a6e38a" stroke="#1f3d16" stroke-width="0.75"/>
<use href="#hx" x="66.33" y="262.39" fill="#a6e38a" stroke="#1f3d16" stroke-width="0.75"/>
<use href="#hx" x="70.53" y="263.27" fill="#a6e38a" stroke="#1f3d16" stroke-width="0.75"/>
<use href="#hx" x="74.74" y="264.14" fill="#a6e38a" stroke="#1f3d16" stroke-width="0.75"/>
<use href="#hx" x="78.94" y="265.02" fill="#a6e38a" stroke="#1f3d16" stroke-width="0.75"/>
<use href="#hx" x="83.15" y="265.9" fill="#a6e38a" stroke="#1f3d16" stroke-width="0.75"/>
<use href="#hx" x="87.36" y="274.7" fill="#a6e38a" stroke="#1f3d16" stroke-width="0.75"/>
<use href="#hx" x="91.56" y="275.52" fill="#a6e38a" stroke="#1f3d16" stroke-width="0.75"/>
<use href="#hx" x="95.77" y="276.34" fill="#a6e38a" stroke="#1f3d16" stroke-width="0.75"/>
<use href="#hx" x="99.97" y="277.16" fill="#a6e38a" stroke="#1f3d16" stroke-width="0.75"/>
<use href="#hx" x="104.18" y="277.98" fill="#a6e38a" stroke="#1f3d16" stroke-width="0.75"/>
<use href="#hx" x="108.38" y="278.8" fill="#a6e38a" stroke="#1f3d16" stroke-width="0.75"/>
<use href="#hx" x="112.59" y="284.2" fill="#a6e38a" stroke="#1f3d16" stroke-width="0.75"/>
<use href="#hx" x="116.79" y="284.84" fill="#a6e38a" stroke="#1f3d16" stroke-width="0.75"/>
<use href="#hx" x="121" y="285.48" fill="#a6e38a" stroke="#1f3d16" stroke-width="0.75"/>
<use href="#hx" x="125.2" y="286.12" fill="#a6e38a" stroke="#1f3d16" stroke-width="0.75"/>
<use href="#hx" x="129.41" y="286.76" fill="#a6e38a" stroke="#1f3d16" stroke-width="0.75"/>
<use href="#hx" x="133.61" y="287.4" fill="#a6e38a" stroke="#1f3d16" stroke-width="0.75"/>
<use href="#hx" x="137.81" y="292.5" fill="#a6e38a" stroke="#1f3d16" stroke-width="0.75"/>
<use href="#hx" x="142.02" y="293.16" fill="#a6e38a" stroke="#1f3d16" stroke-width="0.75"/>
<use href="#hx" x="146.22" y="293.82" fill="#a6e38a" stroke="#1f3d16" stroke-width="0.75"/>
<use href="#hx" x="150.43" y="294.48" fill="#a6e38a" stroke="#1f3d16" stroke-width="0.75"/>
<use href="#hx" x="154.63" y="295.14" fill="#a6e38a" stroke="#1f3d16" stroke-width="0.75"/>
<use href="#hx" x="158.84" y="295.8" fill="#a6e38a" stroke="#1f3d16" stroke-width="0.75"/>
<use href="#hx" x="163.05" y="306.3" fill="#a6e38a" stroke="#1f3d16" stroke-width="0.75"/>
<use href="#hx" x="167.25" y="306.76" fill="#a6e38a" stroke="#1f3d16" stroke-width="0.75"/>
<use href="#hx" x="171.45" y="307.22" fill="#a6e38a" stroke="#1f3d16" stroke-width="0.75"/>
<use href="#hx" x="175.66" y="307.68" fill="#a6e38a" stroke="#1f3d16" stroke-width="0.75"/>
<use href="#hx" x="179.87" y="308.14" fill="#a6e38a" stroke="#1f3d16" stroke-width="0.75"/>
<use href="#hx" x="184.07" y="308.6" fill="#a6e38a" stroke="#1f3d16" stroke-width="0.75"/>
<use href="#hx" x="188.28" y="321" fill="#a6e38a" stroke="#1f3d16" stroke-width="0.75"/>
<use href="#hx" x="192.48" y="321.32" fill="#a6e38a" stroke="#1f3d16" stroke-width="0.75"/>
<use href="#hx" x="196.69" y="321.64" fill="#a6e38a" stroke="#1f3d16" stroke-width="0.75"/>
<use href="#hx" x="200.89" y="321.96" fill="#a6e38a" stroke="#1f3d16" stroke-width="0.75"/>
<use href="#hx" x="205.09" y="322.28" fill="#a6e38a" stroke="#1f3d16" stroke-width="0.75"/>
<use href="#hx" x="209.3" y="322.6" fill="#a6e38a" stroke="#1f3d16" stroke-width="0.75"/>
<use href="#hx" x="213.5" y="330.6" fill="#a6e38a" stroke="#1f3d16" stroke-width="0.75"/>
<use href="#hx" x="217.71" y="330.8" fill="#a6e38a" stroke="#1f3d16" stroke-width="0.75"/>
<use href="#hx" x="221.91" y="331" fill="#a6e38a" stroke="#1f3d16" stroke-width="0.75"/>
<use href="#hx" x="226.12" y="331.2" fill="#a6e38a" stroke="#1f3d16" stroke-width="0.75"/>
<use href="#hx" x="230.32" y="331.4" fill="#a6e38a" stroke="#1f3d16" stroke-width="0.75"/>
<use href="#hx" x="234.53" y="331.6" fill="#a6e38a" stroke="#1f3d16" stroke-width="0.75"/>
<use href="#hx" x="238.73" y="337.2" fill="#a6e38a" stroke="#1f3d16" stroke-width="0.75"/>
<use href="#hx" x="242.94" y="337.32" fill="#a6e38a" stroke="#1f3d16" stroke-width="0.75"/>
<use href="#hx" x="247.15" y="337.44" fill="#a6e38a" stroke="#1f3d16" stroke-width="0.75"/>
<use href="#hx" x="251.35" y="337.56" fill="#a6e38a" stroke="#1f3d16" stroke-width="0.75"/>
<use href="#hx" x="255.56" y="337.68" fill="#a6e38a" stroke="#1f3d16" stroke-width="0.75"/>
<use href="#hx" x="259.76" y="337.8" fill="#a6e38a" stroke="#1f3d16" stroke-width="0.75"/>
<use href="#hx" x="263.97" y="305.8" fill="#a6e38a" stroke="#1f3d16" stroke-width="0.75"/>
<use href="#hx" x="268.17" y="305.8" fill="#a6e38a" stroke="#1f3d16" stroke-width="0.75"/>
<use href="#hx" x="272.38" y="305.8" fill="#a6e38a" stroke="#1f3d16" stroke-width="0.75"/>
<use href="#hx" x="276.58" y="305.8" fill="#a6e38a" stroke="#1f3d16" stroke-width="0.75"/>
<use href="#hx" x="280.79" y="305.8" fill="#a6e38a" stroke="#1f3d16" stroke-width="0.75"/>
<use href="#hx" x="284.99" y="305.8" fill="#a6e38a" stroke="#1f3d16" stroke-width="0.75"/>
<rect x="42.76" y="264.6" width="5.1" height="5.2" fill="#3f6fc4" stroke="#121a30" stroke-width="0.65"/>
<rect x="46.96" y="265.02" width="5.1" height="5.2" fill="#3f6fc4" stroke="#121a30" stroke-width="0.65"/>
<rect x="51.17" y="265.45" width="5.1" height="5.2" fill="#3f6fc4" stroke="#121a30" stroke-width="0.65"/>
<rect x="55.37" y="265.87" width="5.1" height="5.2" fill="#3f6fc4" stroke="#121a30" stroke-width="0.65"/>
<rect x="59.58" y="266.3" width="5.1" height="5.2" fill="#3f6fc4" stroke="#121a30" stroke-width="0.65"/>
<rect x="63.78" y="282" width="5.1" height="5.2" fill="#3f6fc4" stroke="#121a30" stroke-width="0.65"/>
<rect x="67.98" y="282" width="5.1" height="5.2" fill="#3f6fc4" stroke="#121a30" stroke-width="0.65"/>
<rect x="72.19" y="282" width="5.1" height="5.2" fill="#3f6fc4" stroke="#121a30" stroke-width="0.65"/>
<rect x="76.39" y="289.6" width="5.1" height="5.2" fill="#3f6fc4" stroke="#121a30" stroke-width="0.65"/>
<rect x="80.6" y="289.6" width="5.1" height="5.2" fill="#3f6fc4" stroke="#121a30" stroke-width="0.65"/>
<rect x="84.81" y="289.6" width="5.1" height="5.2" fill="#3f6fc4" stroke="#121a30" stroke-width="0.65"/>
<rect x="89.01" y="301" width="5.1" height="5.2" fill="#3f6fc4" stroke="#121a30" stroke-width="0.65"/>
<rect x="93.22" y="301" width="5.1" height="5.2" fill="#3f6fc4" stroke="#121a30" stroke-width="0.65"/>
<rect x="97.42" y="301" width="5.1" height="5.2" fill="#3f6fc4" stroke="#121a30" stroke-width="0.65"/>
<rect x="101.63" y="317.3" width="5.1" height="5.2" fill="#3f6fc4" stroke="#121a30" stroke-width="0.65"/>
<rect x="105.83" y="317.3" width="5.1" height="5.2" fill="#3f6fc4" stroke="#121a30" stroke-width="0.65"/>
<rect x="110.04" y="317.3" width="5.1" height="5.2" fill="#3f6fc4" stroke="#121a30" stroke-width="0.65"/>
<rect x="114.24" y="332.8" width="5.1" height="5.2" fill="#3f6fc4" stroke="#121a30" stroke-width="0.65"/>
<rect x="118.45" y="332.8" width="5.1" height="5.2" fill="#3f6fc4" stroke="#121a30" stroke-width="0.65"/>
<rect x="122.65" y="332.8" width="5.1" height="5.2" fill="#3f6fc4" stroke="#121a30" stroke-width="0.65"/>
<rect x="126.86" y="338.6" width="5.1" height="5.2" fill="#3f6fc4" stroke="#121a30" stroke-width="0.65"/>
<rect x="131.06" y="338.6" width="5.1" height="5.2" fill="#3f6fc4" stroke="#121a30" stroke-width="0.65"/>
<rect x="135.26" y="338.6" width="5.1" height="5.2" fill="#3f6fc4" stroke="#121a30" stroke-width="0.65"/>
<rect x="139.47" y="344.9" width="5.1" height="5.2" fill="#3f6fc4" stroke="#121a30" stroke-width="0.65"/>
<rect x="143.67" y="344.9" width="5.1" height="5.2" fill="#3f6fc4" stroke="#121a30" stroke-width="0.65"/>
<rect x="147.88" y="344.9" width="5.1" height="5.2" fill="#3f6fc4" stroke="#121a30" stroke-width="0.65"/>
<rect x="152.08" y="301.2" width="5.1" height="5.2" fill="#3f6fc4" stroke="#121a30" stroke-width="0.65"/>
<rect x="156.29" y="301.2" width="5.1" height="5.2" fill="#3f6fc4" stroke="#121a30" stroke-width="0.65"/>
<rect x="160.5" y="301.2" width="5.1" height="5.2" fill="#3f6fc4" stroke="#121a30" stroke-width="0.65"/>
<circle cx="45.3" cy="251" r="3.15" fill="#d8469c" stroke="#b02c7c" stroke-width="0.4"/>
<circle cx="45.3" cy="251" r="0.8" fill="#fbe8f3"/>
<circle cx="49.51" cy="251" r="3.15" fill="#d8469c" stroke="#b02c7c" stroke-width="0.4"/>
<circle cx="49.51" cy="251" r="0.8" fill="#fbe8f3"/>
<circle cx="53.72" cy="251" r="3.15" fill="#d8469c" stroke="#b02c7c" stroke-width="0.4"/>
<circle cx="53.72" cy="251" r="0.8" fill="#fbe8f3"/>
<circle cx="57.92" cy="251" r="3.15" fill="#d8469c" stroke="#b02c7c" stroke-width="0.4"/>
<circle cx="57.92" cy="251" r="0.8" fill="#fbe8f3"/>
<circle cx="62.12" cy="251" r="3.15" fill="#d8469c" stroke="#b02c7c" stroke-width="0.4"/>
<circle cx="62.12" cy="251" r="0.8" fill="#fbe8f3"/>
<circle cx="66.33" cy="251" r="3.15" fill="#d8469c" stroke="#b02c7c" stroke-width="0.4"/>
<circle cx="66.33" cy="251" r="0.8" fill="#fbe8f3"/>
<circle cx="70.53" cy="251" r="3.15" fill="#d8469c" stroke="#b02c7c" stroke-width="0.4"/>
<circle cx="70.53" cy="251" r="0.8" fill="#fbe8f3"/>
<circle cx="74.74" cy="251" r="3.15" fill="#d8469c" stroke="#b02c7c" stroke-width="0.4"/>
<circle cx="74.74" cy="251" r="0.8" fill="#fbe8f3"/>
<circle cx="78.94" cy="251" r="3.15" fill="#d8469c" stroke="#b02c7c" stroke-width="0.4"/>
<circle cx="78.94" cy="251" r="0.8" fill="#fbe8f3"/>
<circle cx="83.15" cy="251" r="3.15" fill="#d8469c" stroke="#b02c7c" stroke-width="0.4"/>
<circle cx="83.15" cy="251" r="0.8" fill="#fbe8f3"/>
<circle cx="87.36" cy="254.8" r="3.15" fill="#d8469c" stroke="#b02c7c" stroke-width="0.4"/>
<circle cx="87.36" cy="254.8" r="0.8" fill="#fbe8f3"/>
<circle cx="91.56" cy="254.84" r="3.15" fill="#d8469c" stroke="#b02c7c" stroke-width="0.4"/>
<circle cx="91.56" cy="254.84" r="0.8" fill="#fbe8f3"/>
<circle cx="95.77" cy="254.88" r="3.15" fill="#d8469c" stroke="#b02c7c" stroke-width="0.4"/>
<circle cx="95.77" cy="254.88" r="0.8" fill="#fbe8f3"/>
<circle cx="99.97" cy="254.92" r="3.15" fill="#d8469c" stroke="#b02c7c" stroke-width="0.4"/>
<circle cx="99.97" cy="254.92" r="0.8" fill="#fbe8f3"/>
<circle cx="104.18" cy="254.96" r="3.15" fill="#d8469c" stroke="#b02c7c" stroke-width="0.4"/>
<circle cx="104.18" cy="254.96" r="0.8" fill="#fbe8f3"/>
<circle cx="108.38" cy="255" r="3.15" fill="#d8469c" stroke="#b02c7c" stroke-width="0.4"/>
<circle cx="108.38" cy="255" r="0.8" fill="#fbe8f3"/>
<circle cx="112.59" cy="260.6" r="3.15" fill="#d8469c" stroke="#b02c7c" stroke-width="0.4"/>
<circle cx="112.59" cy="260.6" r="0.8" fill="#fbe8f3"/>
<circle cx="116.79" cy="260.68" r="3.15" fill="#d8469c" stroke="#b02c7c" stroke-width="0.4"/>
<circle cx="116.79" cy="260.68" r="0.8" fill="#fbe8f3"/>
<circle cx="121" cy="260.76" r="3.15" fill="#d8469c" stroke="#b02c7c" stroke-width="0.4"/>
<circle cx="121" cy="260.76" r="0.8" fill="#fbe8f3"/>
<circle cx="125.2" cy="260.84" r="3.15" fill="#d8469c" stroke="#b02c7c" stroke-width="0.4"/>
<circle cx="125.2" cy="260.84" r="0.8" fill="#fbe8f3"/>
<circle cx="129.41" cy="260.92" r="3.15" fill="#d8469c" stroke="#b02c7c" stroke-width="0.4"/>
<circle cx="129.41" cy="260.92" r="0.8" fill="#fbe8f3"/>
<circle cx="133.61" cy="261" r="3.15" fill="#d8469c" stroke="#b02c7c" stroke-width="0.4"/>
<circle cx="133.61" cy="261" r="0.8" fill="#fbe8f3"/>
<circle cx="137.81" cy="268.9" r="3.15" fill="#d8469c" stroke="#b02c7c" stroke-width="0.4"/>
<circle cx="137.81" cy="268.9" r="0.8" fill="#fbe8f3"/>
<circle cx="142.02" cy="268.9" r="3.15" fill="#d8469c" stroke="#b02c7c" stroke-width="0.4"/>
<circle cx="142.02" cy="268.9" r="0.8" fill="#fbe8f3"/>
<circle cx="146.22" cy="268.9" r="3.15" fill="#d8469c" stroke="#b02c7c" stroke-width="0.4"/>
<circle cx="146.22" cy="268.9" r="0.8" fill="#fbe8f3"/>
<circle cx="150.43" cy="268.9" r="3.15" fill="#d8469c" stroke="#b02c7c" stroke-width="0.4"/>
<circle cx="150.43" cy="268.9" r="0.8" fill="#fbe8f3"/>
<circle cx="154.63" cy="268.9" r="3.15" fill="#d8469c" stroke="#b02c7c" stroke-width="0.4"/>
<circle cx="154.63" cy="268.9" r="0.8" fill="#fbe8f3"/>
<circle cx="158.84" cy="268.9" r="3.15" fill="#d8469c" stroke="#b02c7c" stroke-width="0.4"/>
<circle cx="158.84" cy="268.9" r="0.8" fill="#fbe8f3"/>
<circle cx="163.05" cy="278.5" r="3.15" fill="#d8469c" stroke="#b02c7c" stroke-width="0.4"/>
<circle cx="163.05" cy="278.5" r="0.8" fill="#fbe8f3"/>
<circle cx="167.25" cy="278.5" r="3.15" fill="#d8469c" stroke="#b02c7c" stroke-width="0.4"/>
<circle cx="167.25" cy="278.5" r="0.8" fill="#fbe8f3"/>
<circle cx="171.45" cy="278.5" r="3.15" fill="#d8469c" stroke="#b02c7c" stroke-width="0.4"/>
<circle cx="171.45" cy="278.5" r="0.8" fill="#fbe8f3"/>
<circle cx="175.66" cy="278.5" r="3.15" fill="#d8469c" stroke="#b02c7c" stroke-width="0.4"/>
<circle cx="175.66" cy="278.5" r="0.8" fill="#fbe8f3"/>
<circle cx="179.87" cy="278.5" r="3.15" fill="#d8469c" stroke="#b02c7c" stroke-width="0.4"/>
<circle cx="179.87" cy="278.5" r="0.8" fill="#fbe8f3"/>
<circle cx="184.07" cy="278.5" r="3.15" fill="#d8469c" stroke="#b02c7c" stroke-width="0.4"/>
<circle cx="184.07" cy="278.5" r="0.8" fill="#fbe8f3"/>
<circle cx="188.28" cy="290" r="3.15" fill="#d8469c" stroke="#b02c7c" stroke-width="0.4"/>
<circle cx="188.28" cy="290" r="0.8" fill="#fbe8f3"/>
<circle cx="192.48" cy="290.04" r="3.15" fill="#d8469c" stroke="#b02c7c" stroke-width="0.4"/>
<circle cx="192.48" cy="290.04" r="0.8" fill="#fbe8f3"/>
<circle cx="196.69" cy="290.08" r="3.15" fill="#d8469c" stroke="#b02c7c" stroke-width="0.4"/>
<circle cx="196.69" cy="290.08" r="0.8" fill="#fbe8f3"/>
<circle cx="200.89" cy="290.12" r="3.15" fill="#d8469c" stroke="#b02c7c" stroke-width="0.4"/>
<circle cx="200.89" cy="290.12" r="0.8" fill="#fbe8f3"/>
<circle cx="205.09" cy="290.16" r="3.15" fill="#d8469c" stroke="#b02c7c" stroke-width="0.4"/>
<circle cx="205.09" cy="290.16" r="0.8" fill="#fbe8f3"/>
<circle cx="209.3" cy="290.2" r="3.15" fill="#d8469c" stroke="#b02c7c" stroke-width="0.4"/>
<circle cx="209.3" cy="290.2" r="0.8" fill="#fbe8f3"/>
<circle cx="213.5" cy="299" r="3.15" fill="#d8469c" stroke="#b02c7c" stroke-width="0.4"/>
<circle cx="213.5" cy="299" r="0.8" fill="#fbe8f3"/>
<circle cx="217.71" cy="299" r="3.15" fill="#d8469c" stroke="#b02c7c" stroke-width="0.4"/>
<circle cx="217.71" cy="299" r="0.8" fill="#fbe8f3"/>
<circle cx="221.91" cy="299" r="3.15" fill="#d8469c" stroke="#b02c7c" stroke-width="0.4"/>
<circle cx="221.91" cy="299" r="0.8" fill="#fbe8f3"/>
<circle cx="226.12" cy="299" r="3.15" fill="#d8469c" stroke="#b02c7c" stroke-width="0.4"/>
<circle cx="226.12" cy="299" r="0.8" fill="#fbe8f3"/>
<circle cx="230.32" cy="299" r="3.15" fill="#d8469c" stroke="#b02c7c" stroke-width="0.4"/>
<circle cx="230.32" cy="299" r="0.8" fill="#fbe8f3"/>
<circle cx="234.53" cy="299" r="3.15" fill="#d8469c" stroke="#b02c7c" stroke-width="0.4"/>
<circle cx="234.53" cy="299" r="0.8" fill="#fbe8f3"/>
<circle cx="238.73" cy="305.8" r="3.15" fill="#d8469c" stroke="#b02c7c" stroke-width="0.4"/>
<circle cx="238.73" cy="305.8" r="0.8" fill="#fbe8f3"/>
<circle cx="242.94" cy="305.8" r="3.15" fill="#d8469c" stroke="#b02c7c" stroke-width="0.4"/>
<circle cx="242.94" cy="305.8" r="0.8" fill="#fbe8f3"/>
<circle cx="247.15" cy="305.8" r="3.15" fill="#d8469c" stroke="#b02c7c" stroke-width="0.4"/>
<circle cx="247.15" cy="305.8" r="0.8" fill="#fbe8f3"/>
<circle cx="251.35" cy="305.8" r="3.15" fill="#d8469c" stroke="#b02c7c" stroke-width="0.4"/>
<circle cx="251.35" cy="305.8" r="0.8" fill="#fbe8f3"/>
<circle cx="255.56" cy="305.8" r="3.15" fill="#d8469c" stroke="#b02c7c" stroke-width="0.4"/>
<circle cx="255.56" cy="305.8" r="0.8" fill="#fbe8f3"/>
<circle cx="259.76" cy="305.8" r="3.15" fill="#d8469c" stroke="#b02c7c" stroke-width="0.4"/>
<circle cx="259.76" cy="305.8" r="0.8" fill="#fbe8f3"/>
<circle cx="263.97" cy="271.3" r="3.15" fill="#d8469c" stroke="#b02c7c" stroke-width="0.4"/>
<circle cx="263.97" cy="271.3" r="0.8" fill="#fbe8f3"/>
<circle cx="268.17" cy="271.3" r="3.15" fill="#d8469c" stroke="#b02c7c" stroke-width="0.4"/>
<circle cx="268.17" cy="271.3" r="0.8" fill="#fbe8f3"/>
<circle cx="272.38" cy="271.3" r="3.15" fill="#d8469c" stroke="#b02c7c" stroke-width="0.4"/>
<circle cx="272.38" cy="271.3" r="0.8" fill="#fbe8f3"/>
<circle cx="276.58" cy="271.3" r="3.15" fill="#d8469c" stroke="#b02c7c" stroke-width="0.4"/>
<circle cx="276.58" cy="271.3" r="0.8" fill="#fbe8f3"/>
<circle cx="280.79" cy="271.3" r="3.15" fill="#d8469c" stroke="#b02c7c" stroke-width="0.4"/>
<circle cx="280.79" cy="271.3" r="0.8" fill="#fbe8f3"/>
<circle cx="284.99" cy="271.3" r="3.15" fill="#d8469c" stroke="#b02c7c" stroke-width="0.4"/>
<circle cx="284.99" cy="271.3" r="0.8" fill="#fbe8f3"/>
<text x="66.2" y="244.6" font-size="9.1" text-anchor="middle" font-weight="bold" fill="#d4489c" stroke="#d4489c" stroke-width="0.2" >0.1</text>
<text x="98.6" y="247.6" font-size="9.1" text-anchor="middle" font-weight="bold" fill="#d4489c" stroke="#d4489c" stroke-width="0.2" >0.2</text>
<text x="125.4" y="254.6" font-size="9.1" text-anchor="middle" font-weight="bold" fill="#d4489c" stroke="#d4489c" stroke-width="0.2" >0.3</text>
<text x="150.2" y="262.1" font-size="9.1" text-anchor="middle" font-weight="bold" fill="#d4489c" stroke="#d4489c" stroke-width="0.2" >0.5</text>
<text x="174.8" y="272" font-size="9.1" text-anchor="middle" font-weight="bold" fill="#d4489c" stroke="#d4489c" stroke-width="0.2" >1</text>
<text x="199.4" y="284.1" font-size="9.1" text-anchor="middle" font-weight="bold" fill="#d4489c" stroke="#d4489c" stroke-width="0.2" >2</text>
<text x="225.2" y="292.3" font-size="9.1" text-anchor="middle" font-weight="bold" fill="#d4489c" stroke="#d4489c" stroke-width="0.2" >3</text>
<text x="250" y="300.1" font-size="9.1" text-anchor="middle" font-weight="bold" fill="#d4489c" stroke="#d4489c" stroke-width="0.2" >5</text>
<text x="290" y="285.8" font-size="9.1" text-anchor="end" font-weight="bold" fill="#d4489c" stroke="#d4489c" stroke-width="0.2" >0.5 A g<tspan font-size="5.3" dy="-3.4">&#8722;1</tspan></text>
<text x="289.6" y="258.5" font-size="9.6" text-anchor="end" font-weight="bold" fill="#d4489c" stroke="#d4489c" stroke-width="0.2" >NP Zn<tspan font-size="6.2" dy="2.5" font-style="italic">x</tspan><tspan dy="-2.5">Cu</tspan><tspan font-size="6.2" dy="2.5" font-style="italic">y</tspan><tspan dy="-2.5">/Zn//K</tspan><tspan font-size="6.2" dy="2.5" font-style="italic">z</tspan><tspan dy="-2.5">MnO</tspan><tspan font-size="6.2" dy="2.5">2</tspan></text>
<text x="52.4" y="281.1" font-size="9.1" text-anchor="middle" font-weight="bold" fill="#5a80c6" stroke="#5a80c6" stroke-width="0.2" >0.1</text>
<text x="69.9" y="296" font-size="9.1" text-anchor="middle" font-weight="bold" fill="#5a80c6" stroke="#5a80c6" stroke-width="0.2" >0.2</text>
<text x="82.8" y="304.4" font-size="9.1" text-anchor="middle" font-weight="bold" fill="#5a80c6" stroke="#5a80c6" stroke-width="0.2" >0.3</text>
<text x="97.7" y="315.3" font-size="9.1" text-anchor="middle" font-weight="bold" fill="#5a80c6" stroke="#5a80c6" stroke-width="0.2" >0.5</text>
<text x="109.9" y="330.3" font-size="9.1" text-anchor="middle" font-weight="bold" fill="#5a80c6" stroke="#5a80c6" stroke-width="0.2" >1</text>
<text x="122" y="346.3" font-size="9.1" text-anchor="middle" font-weight="bold" fill="#5a80c6" stroke="#5a80c6" stroke-width="0.2" >2</text>
<text x="135.6" y="353" font-size="9.1" text-anchor="middle" font-weight="bold" fill="#5a80c6" stroke="#5a80c6" stroke-width="0.2" >3</text>
<text x="147.8" y="359.2" font-size="9.1" text-anchor="middle" font-weight="bold" fill="#5a80c6" stroke="#5a80c6" stroke-width="0.2" >5</text>
<text x="112.3" y="309.9" font-size="9.1" text-anchor="start" font-weight="bold" fill="#5a80c6" stroke="#5a80c6" stroke-width="0.2" >0.5 A g<tspan font-size="5.3" dy="-3.4">&#8722;1</tspan></text>
<text x="159.2" y="353.4" font-size="9.6" text-anchor="start" font-weight="bold" fill="#5a80c6" stroke="#5a80c6" stroke-width="0.2" >Bulk Zn//K<tspan font-size="6.2" dy="2.5" font-style="italic">z</tspan><tspan dy="-2.5">MnO</tspan><tspan font-size="6.2" dy="2.5">2</tspan></text>
<text x="288.6" y="322.7" font-size="9.6" text-anchor="end" font-weight="bold" fill="#60c220" stroke="#60c220" stroke-width="0.2" >NP Zn//K<tspan font-size="6.2" dy="2.5" font-style="italic">z</tspan><tspan dy="-2.5">MnO</tspan><tspan font-size="6.2" dy="2.5">2</tspan></text>
<rect x="390.2" y="209.5" width="253" height="152" fill="none" stroke="#2e2e2e" stroke-width="1.35"/>
<line x1="390.2" y1="361.5" x2="390.2" y2="365.5" stroke="#2e2e2e" stroke-width="1.0"/>
<line x1="423.92" y1="361.5" x2="423.92" y2="365.5" stroke="#2e2e2e" stroke-width="1.0"/>
<line x1="457.64" y1="361.5" x2="457.64" y2="365.5" stroke="#2e2e2e" stroke-width="1.0"/>
<line x1="491.36" y1="361.5" x2="491.36" y2="365.5" stroke="#2e2e2e" stroke-width="1.0"/>
<line x1="525.08" y1="361.5" x2="525.08" y2="365.5" stroke="#2e2e2e" stroke-width="1.0"/>
<line x1="558.8" y1="361.5" x2="558.8" y2="365.5" stroke="#2e2e2e" stroke-width="1.0"/>
<line x1="592.52" y1="361.5" x2="592.52" y2="365.5" stroke="#2e2e2e" stroke-width="1.0"/>
<line x1="626.24" y1="361.5" x2="626.24" y2="365.5" stroke="#2e2e2e" stroke-width="1.0"/>
<line x1="407.06" y1="361.5" x2="407.06" y2="364" stroke="#2e2e2e" stroke-width="1.0"/>
<line x1="440.78" y1="361.5" x2="440.78" y2="364" stroke="#2e2e2e" stroke-width="1.0"/>
<line x1="474.5" y1="361.5" x2="474.5" y2="364" stroke="#2e2e2e" stroke-width="1.0"/>
<line x1="508.22" y1="361.5" x2="508.22" y2="364" stroke="#2e2e2e" stroke-width="1.0"/>
<line x1="541.94" y1="361.5" x2="541.94" y2="364" stroke="#2e2e2e" stroke-width="1.0"/>
<line x1="575.66" y1="361.5" x2="575.66" y2="364" stroke="#2e2e2e" stroke-width="1.0"/>
<line x1="609.38" y1="361.5" x2="609.38" y2="364" stroke="#2e2e2e" stroke-width="1.0"/>
<line x1="643.1" y1="361.5" x2="643.1" y2="364" stroke="#2e2e2e" stroke-width="1.0"/>
<line x1="386.2" y1="361.1" x2="390.2" y2="361.1" stroke="#2e2e2e" stroke-width="1.0"/>
<line x1="386.2" y1="327.35" x2="390.2" y2="327.35" stroke="#2e2e2e" stroke-width="1.0"/>
<line x1="386.2" y1="293.6" x2="390.2" y2="293.6" stroke="#2e2e2e" stroke-width="1.0"/>
<line x1="386.2" y1="259.85" x2="390.2" y2="259.85" stroke="#2e2e2e" stroke-width="1.0"/>
<line x1="386.2" y1="226.1" x2="390.2" y2="226.1" stroke="#2e2e2e" stroke-width="1.0"/>
<line x1="387.7" y1="344.23" x2="390.2" y2="344.23" stroke="#2e2e2e" stroke-width="1.0"/>
<line x1="387.7" y1="310.48" x2="390.2" y2="310.48" stroke="#2e2e2e" stroke-width="1.0"/>
<line x1="387.7" y1="276.73" x2="390.2" y2="276.73" stroke="#2e2e2e" stroke-width="1.0"/>
<line x1="387.7" y1="242.98" x2="390.2" y2="242.98" stroke="#2e2e2e" stroke-width="1.0"/>
<line x1="387.7" y1="209.23" x2="390.2" y2="209.23" stroke="#2e2e2e" stroke-width="1.0"/>
<line x1="643.2" y1="361.1" x2="647.2" y2="361.1" stroke="#2e2e2e" stroke-width="1.0"/>
<line x1="643.2" y1="333.54" x2="647.2" y2="333.54" stroke="#2e2e2e" stroke-width="1.0"/>
<line x1="643.2" y1="305.98" x2="647.2" y2="305.98" stroke="#2e2e2e" stroke-width="1.0"/>
<line x1="643.2" y1="278.42" x2="647.2" y2="278.42" stroke="#2e2e2e" stroke-width="1.0"/>
<line x1="643.2" y1="250.86" x2="647.2" y2="250.86" stroke="#2e2e2e" stroke-width="1.0"/>
<line x1="643.2" y1="223.3" x2="647.2" y2="223.3" stroke="#2e2e2e" stroke-width="1.0"/>
<line x1="643.2" y1="347.32" x2="645.7" y2="347.32" stroke="#2e2e2e" stroke-width="1.0"/>
<line x1="643.2" y1="319.76" x2="645.7" y2="319.76" stroke="#2e2e2e" stroke-width="1.0"/>
<line x1="643.2" y1="292.2" x2="645.7" y2="292.2" stroke="#2e2e2e" stroke-width="1.0"/>
<line x1="643.2" y1="264.64" x2="645.7" y2="264.64" stroke="#2e2e2e" stroke-width="1.0"/>
<line x1="643.2" y1="237.08" x2="645.7" y2="237.08" stroke="#2e2e2e" stroke-width="1.0"/>
<line x1="643.2" y1="209.52" x2="645.7" y2="209.52" stroke="#2e2e2e" stroke-width="1.0"/>
<text x="390.2" y="377.3" font-size="11.6" text-anchor="middle" font-weight="normal" fill="#1a1a1a" stroke="#1a1a1a" stroke-width="0.2" >0</text>
<text x="423.92" y="377.3" font-size="11.6" text-anchor="middle" font-weight="normal" fill="#1a1a1a" stroke="#1a1a1a" stroke-width="0.2" >100</text>
<text x="457.64" y="377.3" font-size="11.6" text-anchor="middle" font-weight="normal" fill="#1a1a1a" stroke="#1a1a1a" stroke-width="0.2" >200</text>
<text x="491.36" y="377.3" font-size="11.6" text-anchor="middle" font-weight="normal" fill="#1a1a1a" stroke="#1a1a1a" stroke-width="0.2" >300</text>
<text x="525.08" y="377.3" font-size="11.6" text-anchor="middle" font-weight="normal" fill="#1a1a1a" stroke="#1a1a1a" stroke-width="0.2" >400</text>
<text x="558.8" y="377.3" font-size="11.6" text-anchor="middle" font-weight="normal" fill="#1a1a1a" stroke="#1a1a1a" stroke-width="0.2" >500</text>
<text x="592.52" y="377.3" font-size="11.6" text-anchor="middle" font-weight="normal" fill="#1a1a1a" stroke="#1a1a1a" stroke-width="0.2" >600</text>
<text x="626.24" y="377.3" font-size="11.6" text-anchor="middle" font-weight="normal" fill="#1a1a1a" stroke="#1a1a1a" stroke-width="0.2" >700</text>
<text x="384.6" y="365.4" font-size="11.6" text-anchor="end" font-weight="normal" fill="#1a1a1a" stroke="#1a1a1a" stroke-width="0.2" >0</text>
<text x="384.6" y="331.65" font-size="11.6" text-anchor="end" font-weight="normal" fill="#1a1a1a" stroke="#1a1a1a" stroke-width="0.2" >100</text>
<text x="384.6" y="297.9" font-size="11.6" text-anchor="end" font-weight="normal" fill="#1a1a1a" stroke="#1a1a1a" stroke-width="0.2" >200</text>
<text x="384.6" y="264.15" font-size="11.6" text-anchor="end" font-weight="normal" fill="#1a1a1a" stroke="#1a1a1a" stroke-width="0.2" >300</text>
<text x="384.6" y="230.4" font-size="11.6" text-anchor="end" font-weight="normal" fill="#1a1a1a" stroke="#1a1a1a" stroke-width="0.2" >400</text>
<text x="649.2" y="365.4" font-size="11.6" text-anchor="start" font-weight="normal" fill="#1a1a1a" stroke="#1a1a1a" stroke-width="0.2" >0</text>
<text x="649.2" y="337.84" font-size="11.6" text-anchor="start" font-weight="normal" fill="#1a1a1a" stroke="#1a1a1a" stroke-width="0.2" >20</text>
<text x="649.2" y="310.28" font-size="11.6" text-anchor="start" font-weight="normal" fill="#1a1a1a" stroke="#1a1a1a" stroke-width="0.2" >40</text>
<text x="649.2" y="282.72" font-size="11.6" text-anchor="start" font-weight="normal" fill="#1a1a1a" stroke="#1a1a1a" stroke-width="0.2" >60</text>
<text x="649.2" y="255.16" font-size="11.6" text-anchor="start" font-weight="normal" fill="#1a1a1a" stroke="#1a1a1a" stroke-width="0.2" >80</text>
<text x="649.2" y="227.6" font-size="11.6" text-anchor="start" font-weight="normal" fill="#1a1a1a" stroke="#1a1a1a" stroke-width="0.2" >100</text>
<text x="517.4" y="390.6" font-size="11.85" text-anchor="middle" font-weight="normal" fill="#1a1a1a" stroke="#1a1a1a" stroke-width="0.2" >Time (h)</text>
<g transform="translate(358.4,293.7) rotate(-90)">
<text x="0" y="0" font-size="11.85" text-anchor="middle" font-weight="normal" fill="#1a1a1a" stroke="#1a1a1a" stroke-width="0.2" >Capacity (mAh g<tspan font-size="6.6" dy="-4.6">&#8722;1</tspan><tspan dy="4.6">)</tspan></text>
</g>
<g transform="translate(681.6,292.2) rotate(-90)">
<text x="0" y="0" font-size="11.85" text-anchor="middle" font-weight="normal" fill="#1a1a1a" stroke="#1a1a1a" stroke-width="0.2" >Coulombic efficiency (%)</text>
</g>
<text x="346.2" y="217.5" font-size="15.5" text-anchor="start" font-weight="bold" fill="#1a1a1a" stroke="#1a1a1a" stroke-width="0.2" >(e)</text>
<clipPath id="ce"><rect x="390.2" y="209.5" width="253.00000000000006" height="152.0"/></clipPath>
<g clip-path="url(#ce)">
<circle cx="391.5" cy="252.54" r="3.5" fill="#d4449a" stroke="#c03888" stroke-width="0.3"/>
<circle cx="392.5" cy="253.82" r="3.5" fill="#d4449a" stroke="#c03888" stroke-width="0.3"/>
<circle cx="393.49" cy="253.94" r="3.5" fill="#d4449a" stroke="#c03888" stroke-width="0.3"/>
<circle cx="394.49" cy="252.88" r="3.5" fill="#d4449a" stroke="#c03888" stroke-width="0.3"/>
<circle cx="395.48" cy="254.11" r="3.5" fill="#d4449a" stroke="#c03888" stroke-width="0.3"/>
<circle cx="396.48" cy="253.88" r="3.5" fill="#d4449a" stroke="#c03888" stroke-width="0.3"/>
<circle cx="397.48" cy="254.4" r="3.5" fill="#d4449a" stroke="#c03888" stroke-width="0.3"/>
<circle cx="398.47" cy="253.85" r="3.5" fill="#d4449a" stroke="#c03888" stroke-width="0.3"/>
<circle cx="399.47" cy="254.66" r="3.5" fill="#d4449a" stroke="#c03888" stroke-width="0.3"/>
<circle cx="400.46" cy="254.83" r="3.5" fill="#d4449a" stroke="#c03888" stroke-width="0.3"/>
<circle cx="401.45" cy="253.5" r="3.5" fill="#d4449a" stroke="#c03888" stroke-width="0.3"/>
<circle cx="402.45" cy="253.69" r="3.5" fill="#d4449a" stroke="#c03888" stroke-width="0.3"/>
<circle cx="403.44" cy="255.03" r="3.5" fill="#d4449a" stroke="#c03888" stroke-width="0.3"/>
<circle cx="404.44" cy="255.71" r="3.5" fill="#d4449a" stroke="#c03888" stroke-width="0.3"/>
<circle cx="405.43" cy="254.4" r="3.5" fill="#d4449a" stroke="#c03888" stroke-width="0.3"/>
<circle cx="406.42" cy="254.92" r="3.5" fill="#d4449a" stroke="#c03888" stroke-width="0.3"/>
<circle cx="407.42" cy="255.3" r="3.5" fill="#d4449a" stroke="#c03888" stroke-width="0.3"/>
<circle cx="408.41" cy="254.87" r="3.5" fill="#d4449a" stroke="#c03888" stroke-width="0.3"/>
<circle cx="409.41" cy="255.07" r="3.5" fill="#d4449a" stroke="#c03888" stroke-width="0.3"/>
<circle cx="410.4" cy="255.08" r="3.5" fill="#d4449a" stroke="#c03888" stroke-width="0.3"/>
<circle cx="411.39" cy="255.3" r="3.5" fill="#d4449a" stroke="#c03888" stroke-width="0.3"/>
<circle cx="412.39" cy="255.86" r="3.5" fill="#d4449a" stroke="#c03888" stroke-width="0.3"/>
<circle cx="413.38" cy="255.38" r="3.5" fill="#d4449a" stroke="#c03888" stroke-width="0.3"/>
<circle cx="414.37" cy="255.65" r="3.5" fill="#d4449a" stroke="#c03888" stroke-width="0.3"/>
<circle cx="415.37" cy="256.55" r="3.5" fill="#d4449a" stroke="#c03888" stroke-width="0.3"/>
<circle cx="416.36" cy="255.16" r="3.5" fill="#d4449a" stroke="#c03888" stroke-width="0.3"/>
<circle cx="417.36" cy="256.36" r="3.5" fill="#d4449a" stroke="#c03888" stroke-width="0.3"/>
<circle cx="418.35" cy="256.79" r="3.5" fill="#d4449a" stroke="#c03888" stroke-width="0.3"/>
<circle cx="419.35" cy="256.05" r="3.5" fill="#d4449a" stroke="#c03888" stroke-width="0.3"/>
<circle cx="420.34" cy="255.98" r="3.5" fill="#d4449a" stroke="#c03888" stroke-width="0.3"/>
<circle cx="421.33" cy="257.25" r="3.5" fill="#d4449a" stroke="#c03888" stroke-width="0.3"/>
<circle cx="422.33" cy="256.23" r="3.5" fill="#d4449a" stroke="#c03888" stroke-width="0.3"/>
<circle cx="423.32" cy="256.24" r="3.5" fill="#d4449a" stroke="#c03888" stroke-width="0.3"/>
<circle cx="424.32" cy="256.85" r="3.5" fill="#d4449a" stroke="#c03888" stroke-width="0.3"/>
<circle cx="425.31" cy="257.48" r="3.5" fill="#d4449a" stroke="#c03888" stroke-width="0.3"/>
<circle cx="426.3" cy="256.4" r="3.5" fill="#d4449a" stroke="#c03888" stroke-width="0.3"/>
<circle cx="427.3" cy="256.96" r="3.5" fill="#d4449a" stroke="#c03888" stroke-width="0.3"/>
<circle cx="428.29" cy="257.09" r="3.5" fill="#d4449a" stroke="#c03888" stroke-width="0.3"/>
<circle cx="429.28" cy="258.2" r="3.5" fill="#d4449a" stroke="#c03888" stroke-width="0.3"/>
<circle cx="430.28" cy="257.52" r="3.5" fill="#d4449a" stroke="#c03888" stroke-width="0.3"/>
<circle cx="431.27" cy="258.46" r="3.5" fill="#d4449a" stroke="#c03888" stroke-width="0.3"/>
<circle cx="432.27" cy="257.18" r="3.5" fill="#d4449a" stroke="#c03888" stroke-width="0.3"/>
<circle cx="433.26" cy="257.62" r="3.5" fill="#d4449a" stroke="#c03888" stroke-width="0.3"/>
<circle cx="434.26" cy="258.33" r="3.5" fill="#d4449a" stroke="#c03888" stroke-width="0.3"/>
<circle cx="435.25" cy="258.9" r="3.5" fill="#d4449a" stroke="#c03888" stroke-width="0.3"/>
<circle cx="436.25" cy="258.11" r="3.5" fill="#d4449a" stroke="#c03888" stroke-width="0.3"/>
<circle cx="437.25" cy="257.74" r="3.5" fill="#d4449a" stroke="#c03888" stroke-width="0.3"/>
<circle cx="438.24" cy="257.61" r="3.5" fill="#d4449a" stroke="#c03888" stroke-width="0.3"/>
<circle cx="439.24" cy="258.5" r="3.5" fill="#d4449a" stroke="#c03888" stroke-width="0.3"/>
<circle cx="440.24" cy="257.9" r="3.5" fill="#d4449a" stroke="#c03888" stroke-width="0.3"/>
<circle cx="441.24" cy="259.19" r="3.5" fill="#d4449a" stroke="#c03888" stroke-width="0.3"/>
<circle cx="442.24" cy="259.32" r="3.5" fill="#d4449a" stroke="#c03888" stroke-width="0.3"/>
<circle cx="443.23" cy="258.08" r="3.5" fill="#d4449a" stroke="#c03888" stroke-width="0.3"/>
<circle cx="444.23" cy="258.32" r="3.5" fill="#d4449a" stroke="#c03888" stroke-width="0.3"/>
<circle cx="445.23" cy="259.44" r="3.5" fill="#d4449a" stroke="#c03888" stroke-width="0.3"/>
<circle cx="446.23" cy="259.16" r="3.5" fill="#d4449a" stroke="#c03888" stroke-width="0.3"/>
<circle cx="447.23" cy="259.55" r="3.5" fill="#d4449a" stroke="#c03888" stroke-width="0.3"/>
<circle cx="448.23" cy="258.68" r="3.5" fill="#d4449a" stroke="#c03888" stroke-width="0.3"/>
<circle cx="449.22" cy="258.3" r="3.5" fill="#d4449a" stroke="#c03888" stroke-width="0.3"/>
<circle cx="450.22" cy="258.67" r="3.5" fill="#d4449a" stroke="#c03888" stroke-width="0.3"/>
<circle cx="451.22" cy="259.73" r="3.5" fill="#d4449a" stroke="#c03888" stroke-width="0.3"/>
<circle cx="452.22" cy="258.73" r="3.5" fill="#d4449a" stroke="#c03888" stroke-width="0.3"/>
<circle cx="453.22" cy="258.93" r="3.5" fill="#d4449a" stroke="#c03888" stroke-width="0.3"/>
<circle cx="454.22" cy="259.11" r="3.5" fill="#d4449a" stroke="#c03888" stroke-width="0.3"/>
<circle cx="455.22" cy="259.17" r="3.5" fill="#d4449a" stroke="#c03888" stroke-width="0.3"/>
<circle cx="456.22" cy="259.19" r="3.5" fill="#d4449a" stroke="#c03888" stroke-width="0.3"/>
<circle cx="457.22" cy="260.26" r="3.5" fill="#d4449a" stroke="#c03888" stroke-width="0.3"/>
<circle cx="458.21" cy="258.77" r="3.5" fill="#d4449a" stroke="#c03888" stroke-width="0.3"/>
<circle cx="459.21" cy="258.52" r="3.5" fill="#d4449a" stroke="#c03888" stroke-width="0.3"/>
<circle cx="460.21" cy="260.44" r="3.5" fill="#d4449a" stroke="#c03888" stroke-width="0.3"/>
<circle cx="461.21" cy="260.36" r="3.5" fill="#d4449a" stroke="#c03888" stroke-width="0.3"/>
<circle cx="462.21" cy="260.62" r="3.5" fill="#d4449a" stroke="#c03888" stroke-width="0.3"/>
<circle cx="463.21" cy="259.55" r="3.5" fill="#d4449a" stroke="#c03888" stroke-width="0.3"/>
<circle cx="464.21" cy="260.63" r="3.5" fill="#d4449a" stroke="#c03888" stroke-width="0.3"/>
<circle cx="465.21" cy="260.63" r="3.5" fill="#d4449a" stroke="#c03888" stroke-width="0.3"/>
<circle cx="466.21" cy="259.27" r="3.5" fill="#d4449a" stroke="#c03888" stroke-width="0.3"/>
<circle cx="467.21" cy="260.36" r="3.5" fill="#d4449a" stroke="#c03888" stroke-width="0.3"/>
<circle cx="468.2" cy="260.59" r="3.5" fill="#d4449a" stroke="#c03888" stroke-width="0.3"/>
<circle cx="469.2" cy="260.29" r="3.5" fill="#d4449a" stroke="#c03888" stroke-width="0.3"/>
<circle cx="470.2" cy="260.05" r="3.5" fill="#d4449a" stroke="#c03888" stroke-width="0.3"/>
<circle cx="471.2" cy="259.64" r="3.5" fill="#d4449a" stroke="#c03888" stroke-width="0.3"/>
<circle cx="472.2" cy="259.79" r="3.5" fill="#d4449a" stroke="#c03888" stroke-width="0.3"/>
<circle cx="473.2" cy="259.61" r="3.5" fill="#d4449a" stroke="#c03888" stroke-width="0.3"/>
<circle cx="474.2" cy="259.33" r="3.5" fill="#d4449a" stroke="#c03888" stroke-width="0.3"/>
<circle cx="475.2" cy="260.42" r="3.5" fill="#d4449a" stroke="#c03888" stroke-width="0.3"/>
<circle cx="476.2" cy="259.86" r="3.5" fill="#d4449a" stroke="#c03888" stroke-width="0.3"/>
<circle cx="477.19" cy="260.95" r="3.5" fill="#d4449a" stroke="#c03888" stroke-width="0.3"/>
<circle cx="478.19" cy="259.47" r="3.5" fill="#d4449a" stroke="#c03888" stroke-width="0.3"/>
<circle cx="479.19" cy="261.23" r="3.5" fill="#d4449a" stroke="#c03888" stroke-width="0.3"/>
<circle cx="480.19" cy="260.86" r="3.5" fill="#d4449a" stroke="#c03888" stroke-width="0.3"/>
<circle cx="481.19" cy="261.36" r="3.5" fill="#d4449a" stroke="#c03888" stroke-width="0.3"/>
<circle cx="482.19" cy="261.35" r="3.5" fill="#d4449a" stroke="#c03888" stroke-width="0.3"/>
<circle cx="483.19" cy="261.4" r="3.5" fill="#d4449a" stroke="#c03888" stroke-width="0.3"/>
<circle cx="484.19" cy="260.8" r="3.5" fill="#d4449a" stroke="#c03888" stroke-width="0.3"/>
<circle cx="485.19" cy="259.72" r="3.5" fill="#d4449a" stroke="#c03888" stroke-width="0.3"/>
<circle cx="486.19" cy="261.23" r="3.5" fill="#d4449a" stroke="#c03888" stroke-width="0.3"/>
<circle cx="487.18" cy="260.12" r="3.5" fill="#d4449a" stroke="#c03888" stroke-width="0.3"/>
<circle cx="488.18" cy="260.42" r="3.5" fill="#d4449a" stroke="#c03888" stroke-width="0.3"/>
<circle cx="489.18" cy="261.2" r="3.5" fill="#d4449a" stroke="#c03888" stroke-width="0.3"/>
<circle cx="490.18" cy="260.97" r="3.5" fill="#d4449a" stroke="#c03888" stroke-width="0.3"/>
<circle cx="491.18" cy="260.79" r="3.5" fill="#d4449a" stroke="#c03888" stroke-width="0.3"/>
<circle cx="492.18" cy="261.89" r="3.5" fill="#d4449a" stroke="#c03888" stroke-width="0.3"/>
<circle cx="493.18" cy="261.28" r="3.5" fill="#d4449a" stroke="#c03888" stroke-width="0.3"/>
<circle cx="494.18" cy="260.79" r="3.5" fill="#d4449a" stroke="#c03888" stroke-width="0.3"/>
<circle cx="495.18" cy="260.66" r="3.5" fill="#d4449a" stroke="#c03888" stroke-width="0.3"/>
<circle cx="496.17" cy="261.93" r="3.5" fill="#d4449a" stroke="#c03888" stroke-width="0.3"/>
<circle cx="497.17" cy="261.21" r="3.5" fill="#d4449a" stroke="#c03888" stroke-width="0.3"/>
<circle cx="498.17" cy="261.87" r="3.5" fill="#d4449a" stroke="#c03888" stroke-width="0.3"/>
<circle cx="499.17" cy="261.06" r="3.5" fill="#d4449a" stroke="#c03888" stroke-width="0.3"/>
<circle cx="500.17" cy="260.8" r="3.5" fill="#d4449a" stroke="#c03888" stroke-width="0.3"/>
<circle cx="501.17" cy="261.53" r="3.5" fill="#d4449a" stroke="#c03888" stroke-width="0.3"/>
<circle cx="502.17" cy="262.15" r="3.5" fill="#d4449a" stroke="#c03888" stroke-width="0.3"/>
<circle cx="503.16" cy="260.92" r="3.5" fill="#d4449a" stroke="#c03888" stroke-width="0.3"/>
<circle cx="504.16" cy="262.21" r="3.5" fill="#d4449a" stroke="#c03888" stroke-width="0.3"/>
<circle cx="505.16" cy="262.53" r="3.5" fill="#d4449a" stroke="#c03888" stroke-width="0.3"/>
<circle cx="506.16" cy="262.36" r="3.5" fill="#d4449a" stroke="#c03888" stroke-width="0.3"/>
<circle cx="507.16" cy="262.45" r="3.5" fill="#d4449a" stroke="#c03888" stroke-width="0.3"/>
<circle cx="508.16" cy="260.88" r="3.5" fill="#d4449a" stroke="#c03888" stroke-width="0.3"/>
<circle cx="509.15" cy="262.18" r="3.5" fill="#d4449a" stroke="#c03888" stroke-width="0.3"/>
<circle cx="510.15" cy="262.71" r="3.5" fill="#d4449a" stroke="#c03888" stroke-width="0.3"/>
<circle cx="511.15" cy="261.14" r="3.5" fill="#d4449a" stroke="#c03888" stroke-width="0.3"/>
<circle cx="512.15" cy="261.64" r="3.5" fill="#d4449a" stroke="#c03888" stroke-width="0.3"/>
<circle cx="513.15" cy="261.7" r="3.5" fill="#d4449a" stroke="#c03888" stroke-width="0.3"/>
<circle cx="514.15" cy="262.28" r="3.5" fill="#d4449a" stroke="#c03888" stroke-width="0.3"/>
<circle cx="515.14" cy="262.13" r="3.5" fill="#d4449a" stroke="#c03888" stroke-width="0.3"/>
<circle cx="516.14" cy="262.29" r="3.5" fill="#d4449a" stroke="#c03888" stroke-width="0.3"/>
<circle cx="517.14" cy="262.96" r="3.5" fill="#d4449a" stroke="#c03888" stroke-width="0.3"/>
<circle cx="518.14" cy="261.47" r="3.5" fill="#d4449a" stroke="#c03888" stroke-width="0.3"/>
<circle cx="519.14" cy="261.64" r="3.5" fill="#d4449a" stroke="#c03888" stroke-width="0.3"/>
<circle cx="520.13" cy="261.85" r="3.5" fill="#d4449a" stroke="#c03888" stroke-width="0.3"/>
<circle cx="521.13" cy="261.9" r="3.5" fill="#d4449a" stroke="#c03888" stroke-width="0.3"/>
<circle cx="522.13" cy="261.85" r="3.5" fill="#d4449a" stroke="#c03888" stroke-width="0.3"/>
<circle cx="523.13" cy="263.73" r="3.5" fill="#d4449a" stroke="#c03888" stroke-width="0.3"/>
<circle cx="524.13" cy="263.55" r="3.5" fill="#d4449a" stroke="#c03888" stroke-width="0.3"/>
<circle cx="525.12" cy="262.08" r="3.5" fill="#d4449a" stroke="#c03888" stroke-width="0.3"/>
<circle cx="526.12" cy="262.97" r="3.5" fill="#d4449a" stroke="#c03888" stroke-width="0.3"/>
<circle cx="527.12" cy="262.66" r="3.5" fill="#d4449a" stroke="#c03888" stroke-width="0.3"/>
<circle cx="528.12" cy="262.72" r="3.5" fill="#d4449a" stroke="#c03888" stroke-width="0.3"/>
<circle cx="529.12" cy="262.85" r="3.5" fill="#d4449a" stroke="#c03888" stroke-width="0.3"/>
<circle cx="530.11" cy="263.5" r="3.5" fill="#d4449a" stroke="#c03888" stroke-width="0.3"/>
<circle cx="531.11" cy="263.44" r="3.5" fill="#d4449a" stroke="#c03888" stroke-width="0.3"/>
<circle cx="532.11" cy="263.05" r="3.5" fill="#d4449a" stroke="#c03888" stroke-width="0.3"/>
<circle cx="533.11" cy="262.77" r="3.5" fill="#d4449a" stroke="#c03888" stroke-width="0.3"/>
<circle cx="534.11" cy="263.11" r="3.5" fill="#d4449a" stroke="#c03888" stroke-width="0.3"/>
<circle cx="535.11" cy="262.77" r="3.5" fill="#d4449a" stroke="#c03888" stroke-width="0.3"/>
<circle cx="536.1" cy="263.7" r="3.5" fill="#d4449a" stroke="#c03888" stroke-width="0.3"/>
<circle cx="537.1" cy="264.08" r="3.5" fill="#d4449a" stroke="#c03888" stroke-width="0.3"/>
<circle cx="538.1" cy="263.48" r="3.5" fill="#d4449a" stroke="#c03888" stroke-width="0.3"/>
<circle cx="539.1" cy="262.94" r="3.5" fill="#d4449a" stroke="#c03888" stroke-width="0.3"/>
<circle cx="540.09" cy="263.21" r="3.5" fill="#d4449a" stroke="#c03888" stroke-width="0.3"/>
<circle cx="541.09" cy="263.66" r="3.5" fill="#d4449a" stroke="#c03888" stroke-width="0.3"/>
<circle cx="542.09" cy="264.19" r="3.5" fill="#d4449a" stroke="#c03888" stroke-width="0.3"/>
<circle cx="543.09" cy="264.61" r="3.5" fill="#d4449a" stroke="#c03888" stroke-width="0.3"/>
<circle cx="544.09" cy="263.87" r="3.5" fill="#d4449a" stroke="#c03888" stroke-width="0.3"/>
<circle cx="545.08" cy="264.78" r="3.5" fill="#d4449a" stroke="#c03888" stroke-width="0.3"/>
<circle cx="546.08" cy="264.49" r="3.5" fill="#d4449a" stroke="#c03888" stroke-width="0.3"/>
<circle cx="547.08" cy="264.17" r="3.5" fill="#d4449a" stroke="#c03888" stroke-width="0.3"/>
<circle cx="548.08" cy="264.11" r="3.5" fill="#d4449a" stroke="#c03888" stroke-width="0.3"/>
<circle cx="549.08" cy="264.42" r="3.5" fill="#d4449a" stroke="#c03888" stroke-width="0.3"/>
<circle cx="550.07" cy="264.89" r="3.5" fill="#d4449a" stroke="#c03888" stroke-width="0.3"/>
<circle cx="551.07" cy="264.38" r="3.5" fill="#d4449a" stroke="#c03888" stroke-width="0.3"/>
<circle cx="552.07" cy="264.99" r="3.5" fill="#d4449a" stroke="#c03888" stroke-width="0.3"/>
<circle cx="553.07" cy="264.58" r="3.5" fill="#d4449a" stroke="#c03888" stroke-width="0.3"/>
<circle cx="554.07" cy="264.2" r="3.5" fill="#d4449a" stroke="#c03888" stroke-width="0.3"/>
<circle cx="555.07" cy="264.83" r="3.5" fill="#d4449a" stroke="#c03888" stroke-width="0.3"/>
<circle cx="556.07" cy="265.2" r="3.5" fill="#d4449a" stroke="#c03888" stroke-width="0.3"/>
<circle cx="557.06" cy="264.01" r="3.5" fill="#d4449a" stroke="#c03888" stroke-width="0.3"/>
<circle cx="558.06" cy="264.76" r="3.5" fill="#d4449a" stroke="#c03888" stroke-width="0.3"/>
<circle cx="559.06" cy="264.81" r="3.5" fill="#d4449a" stroke="#c03888" stroke-width="0.3"/>
<circle cx="560.06" cy="265.76" r="3.5" fill="#d4449a" stroke="#c03888" stroke-width="0.3"/>
<circle cx="561.06" cy="265.92" r="3.5" fill="#d4449a" stroke="#c03888" stroke-width="0.3"/>
<circle cx="562.06" cy="264.84" r="3.5" fill="#d4449a" stroke="#c03888" stroke-width="0.3"/>
<circle cx="563.06" cy="265.93" r="3.5" fill="#d4449a" stroke="#c03888" stroke-width="0.3"/>
<circle cx="564.06" cy="265.75" r="3.5" fill="#d4449a" stroke="#c03888" stroke-width="0.3"/>
<circle cx="565.06" cy="264.73" r="3.5" fill="#d4449a" stroke="#c03888" stroke-width="0.3"/>
<circle cx="566.06" cy="265.18" r="3.5" fill="#d4449a" stroke="#c03888" stroke-width="0.3"/>
<circle cx="567.05" cy="264.54" r="3.5" fill="#d4449a" stroke="#c03888" stroke-width="0.3"/>
<circle cx="568.05" cy="265.95" r="3.5" fill="#d4449a" stroke="#c03888" stroke-width="0.3"/>
<circle cx="569.05" cy="265.69" r="3.5" fill="#d4449a" stroke="#c03888" stroke-width="0.3"/>
<circle cx="570.05" cy="266.18" r="3.5" fill="#d4449a" stroke="#c03888" stroke-width="0.3"/>
<circle cx="571.05" cy="266.02" r="3.5" fill="#d4449a" stroke="#c03888" stroke-width="0.3"/>
<circle cx="572.05" cy="265.81" r="3.5" fill="#d4449a" stroke="#c03888" stroke-width="0.3"/>
<circle cx="573.05" cy="265.97" r="3.5" fill="#d4449a" stroke="#c03888" stroke-width="0.3"/>
<circle cx="574.05" cy="265.67" r="3.5" fill="#d4449a" stroke="#c03888" stroke-width="0.3"/>
<circle cx="575.05" cy="264.78" r="3.5" fill="#d4449a" stroke="#c03888" stroke-width="0.3"/>
<circle cx="576.05" cy="265.78" r="3.5" fill="#d4449a" stroke="#c03888" stroke-width="0.3"/>
<circle cx="577.05" cy="264.65" r="3.5" fill="#d4449a" stroke="#c03888" stroke-width="0.3"/>
<circle cx="578.05" cy="264.96" r="3.5" fill="#d4449a" stroke="#c03888" stroke-width="0.3"/>
<circle cx="579.05" cy="266.26" r="3.5" fill="#d4449a" stroke="#c03888" stroke-width="0.3"/>
<circle cx="580.05" cy="264.83" r="3.5" fill="#d4449a" stroke="#c03888" stroke-width="0.3"/>
<circle cx="581.05" cy="264.95" r="3.5" fill="#d4449a" stroke="#c03888" stroke-width="0.3"/>
<circle cx="582.05" cy="265" r="3.5" fill="#d4449a" stroke="#c03888" stroke-width="0.3"/>
<circle cx="583.05" cy="266.59" r="3.5" fill="#d4449a" stroke="#c03888" stroke-width="0.3"/>
<circle cx="584.04" cy="265.22" r="3.5" fill="#d4449a" stroke="#c03888" stroke-width="0.3"/>
<circle cx="585.04" cy="264.94" r="3.5" fill="#d4449a" stroke="#c03888" stroke-width="0.3"/>
<circle cx="586.04" cy="266.6" r="3.5" fill="#d4449a" stroke="#c03888" stroke-width="0.3"/>
<circle cx="587.04" cy="265.19" r="3.5" fill="#d4449a" stroke="#c03888" stroke-width="0.3"/>
<circle cx="588.04" cy="266.67" r="3.5" fill="#d4449a" stroke="#c03888" stroke-width="0.3"/>
<circle cx="589.04" cy="266.35" r="3.5" fill="#d4449a" stroke="#c03888" stroke-width="0.3"/>
<circle cx="590.04" cy="266.71" r="3.5" fill="#d4449a" stroke="#c03888" stroke-width="0.3"/>
<circle cx="591.04" cy="266.97" r="3.5" fill="#d4449a" stroke="#c03888" stroke-width="0.3"/>
<circle cx="592.04" cy="266.25" r="3.5" fill="#d4449a" stroke="#c03888" stroke-width="0.3"/>
<circle cx="593.04" cy="266.72" r="3.5" fill="#d4449a" stroke="#c03888" stroke-width="0.3"/>
<circle cx="594.04" cy="265.22" r="3.5" fill="#d4449a" stroke="#c03888" stroke-width="0.3"/>
<circle cx="595.04" cy="266.71" r="3.5" fill="#d4449a" stroke="#c03888" stroke-width="0.3"/>
<circle cx="596.04" cy="266.22" r="3.5" fill="#d4449a" stroke="#c03888" stroke-width="0.3"/>
<circle cx="597.04" cy="266.65" r="3.5" fill="#d4449a" stroke="#c03888" stroke-width="0.3"/>
<circle cx="598.04" cy="265.46" r="3.5" fill="#d4449a" stroke="#c03888" stroke-width="0.3"/>
<circle cx="599.04" cy="266.77" r="3.5" fill="#d4449a" stroke="#c03888" stroke-width="0.3"/>
<circle cx="600.04" cy="267.17" r="3.5" fill="#d4449a" stroke="#c03888" stroke-width="0.3"/>
<circle cx="601.04" cy="265.45" r="3.5" fill="#d4449a" stroke="#c03888" stroke-width="0.3"/>
<circle cx="602.04" cy="266" r="3.5" fill="#d4449a" stroke="#c03888" stroke-width="0.3"/>
<circle cx="603.04" cy="266.5" r="3.5" fill="#d4449a" stroke="#c03888" stroke-width="0.3"/>
<circle cx="604.04" cy="267.05" r="3.5" fill="#d4449a" stroke="#c03888" stroke-width="0.3"/>
<circle cx="605.04" cy="265.9" r="3.5" fill="#d4449a" stroke="#c03888" stroke-width="0.3"/>
<circle cx="606.04" cy="265.8" r="3.5" fill="#d4449a" stroke="#c03888" stroke-width="0.3"/>
<circle cx="607.04" cy="265.96" r="3.5" fill="#d4449a" stroke="#c03888" stroke-width="0.3"/>
<circle cx="608.04" cy="266.71" r="3.5" fill="#d4449a" stroke="#c03888" stroke-width="0.3"/>
<circle cx="609.04" cy="267.01" r="3.5" fill="#d4449a" stroke="#c03888" stroke-width="0.3"/>
<circle cx="610.04" cy="266.3" r="3.5" fill="#d4449a" stroke="#c03888" stroke-width="0.3"/>
<circle cx="611.04" cy="266.27" r="3.5" fill="#d4449a" stroke="#c03888" stroke-width="0.3"/>
<circle cx="612.04" cy="266.35" r="3.5" fill="#d4449a" stroke="#c03888" stroke-width="0.3"/>
<circle cx="613.04" cy="266.27" r="3.5" fill="#d4449a" stroke="#c03888" stroke-width="0.3"/>
<circle cx="614.04" cy="266.43" r="3.5" fill="#d4449a" stroke="#c03888" stroke-width="0.3"/>
<circle cx="615.04" cy="265.78" r="3.5" fill="#d4449a" stroke="#c03888" stroke-width="0.3"/>
<circle cx="616.04" cy="266.63" r="3.5" fill="#d4449a" stroke="#c03888" stroke-width="0.3"/>
<circle cx="617.04" cy="267.59" r="3.5" fill="#d4449a" stroke="#c03888" stroke-width="0.3"/>
<circle cx="618.04" cy="266.49" r="3.5" fill="#d4449a" stroke="#c03888" stroke-width="0.3"/>
<circle cx="619.04" cy="267.17" r="3.5" fill="#d4449a" stroke="#c03888" stroke-width="0.3"/>
<circle cx="620.04" cy="266.02" r="3.5" fill="#d4449a" stroke="#c03888" stroke-width="0.3"/>
<circle cx="621.03" cy="267.09" r="3.5" fill="#d4449a" stroke="#c03888" stroke-width="0.3"/>
<circle cx="622.03" cy="267.24" r="3.5" fill="#d4449a" stroke="#c03888" stroke-width="0.3"/>
<circle cx="623.03" cy="267.09" r="3.5" fill="#d4449a" stroke="#c03888" stroke-width="0.3"/>
<circle cx="624.03" cy="266.79" r="3.5" fill="#d4449a" stroke="#c03888" stroke-width="0.3"/>
<circle cx="625.03" cy="266.74" r="3.5" fill="#d4449a" stroke="#c03888" stroke-width="0.3"/>
<circle cx="626.03" cy="267.08" r="3.5" fill="#d4449a" stroke="#c03888" stroke-width="0.3"/>
<circle cx="627.03" cy="267.6" r="3.5" fill="#d4449a" stroke="#c03888" stroke-width="0.3"/>
<circle cx="628.03" cy="266.12" r="3.5" fill="#d4449a" stroke="#c03888" stroke-width="0.3"/>
<circle cx="629.03" cy="266.03" r="3.5" fill="#d4449a" stroke="#c03888" stroke-width="0.3"/>
<circle cx="630.03" cy="267.35" r="3.5" fill="#d4449a" stroke="#c03888" stroke-width="0.3"/>
<circle cx="631.03" cy="267.7" r="3.5" fill="#d4449a" stroke="#c03888" stroke-width="0.3"/>
<circle cx="632.03" cy="266.92" r="3.5" fill="#d4449a" stroke="#c03888" stroke-width="0.3"/>
<circle cx="633.03" cy="266.78" r="3.5" fill="#d4449a" stroke="#c03888" stroke-width="0.3"/>
<circle cx="634.03" cy="267.35" r="3.5" fill="#d4449a" stroke="#c03888" stroke-width="0.3"/>
<circle cx="635.03" cy="266.3" r="3.5" fill="#d4449a" stroke="#c03888" stroke-width="0.3"/>
<circle cx="636.03" cy="266.48" r="3.5" fill="#d4449a" stroke="#c03888" stroke-width="0.3"/>
<circle cx="637.03" cy="266.36" r="3.5" fill="#d4449a" stroke="#c03888" stroke-width="0.3"/>
<circle cx="638.03" cy="267.15" r="3.5" fill="#d4449a" stroke="#c03888" stroke-width="0.3"/>
<circle cx="639.03" cy="266.62" r="3.5" fill="#d4449a" stroke="#c03888" stroke-width="0.3"/>
<circle cx="391.5" cy="252.73" r="0.65" fill="#fbe0ee"/>
<circle cx="393.49" cy="253.96" r="0.65" fill="#fbe0ee"/>
<circle cx="395.48" cy="254.74" r="0.65" fill="#fbe0ee"/>
<circle cx="397.48" cy="253.42" r="0.65" fill="#fbe0ee"/>
<circle cx="399.47" cy="254.57" r="0.65" fill="#fbe0ee"/>
<circle cx="401.45" cy="254.11" r="0.65" fill="#fbe0ee"/>
<circle cx="403.44" cy="255.34" r="0.65" fill="#fbe0ee"/>
<circle cx="405.43" cy="254.94" r="0.65" fill="#fbe0ee"/>
<circle cx="407.42" cy="254.43" r="0.65" fill="#fbe0ee"/>
<circle cx="409.41" cy="254.54" r="0.65" fill="#fbe0ee"/>
<circle cx="411.39" cy="254.31" r="0.65" fill="#fbe0ee"/>
<circle cx="413.38" cy="255.58" r="0.65" fill="#fbe0ee"/>
<circle cx="415.37" cy="255.58" r="0.65" fill="#fbe0ee"/>
<circle cx="417.36" cy="255.31" r="0.65" fill="#fbe0ee"/>
<circle cx="419.35" cy="255.96" r="0.65" fill="#fbe0ee"/>
<circle cx="421.33" cy="256.08" r="0.65" fill="#fbe0ee"/>
<circle cx="423.32" cy="257.34" r="0.65" fill="#fbe0ee"/>
<circle cx="425.31" cy="256.12" r="0.65" fill="#fbe0ee"/>
<circle cx="427.3" cy="258.29" r="0.65" fill="#fbe0ee"/>
<circle cx="429.28" cy="257.34" r="0.65" fill="#fbe0ee"/>
<circle cx="431.27" cy="257.82" r="0.65" fill="#fbe0ee"/>
<circle cx="433.26" cy="257.72" r="0.65" fill="#fbe0ee"/>
<circle cx="435.25" cy="258.75" r="0.65" fill="#fbe0ee"/>
<circle cx="437.25" cy="258.88" r="0.65" fill="#fbe0ee"/>
<circle cx="439.24" cy="258.43" r="0.65" fill="#fbe0ee"/>
<circle cx="441.24" cy="258.39" r="0.65" fill="#fbe0ee"/>
<circle cx="443.23" cy="259.07" r="0.65" fill="#fbe0ee"/>
<circle cx="445.23" cy="259.5" r="0.65" fill="#fbe0ee"/>
<circle cx="447.23" cy="258.55" r="0.65" fill="#fbe0ee"/>
<circle cx="449.22" cy="259.43" r="0.65" fill="#fbe0ee"/>
<circle cx="451.22" cy="260.05" r="0.65" fill="#fbe0ee"/>
<circle cx="453.22" cy="259.01" r="0.65" fill="#fbe0ee"/>
<circle cx="455.22" cy="258.55" r="0.65" fill="#fbe0ee"/>
<circle cx="457.22" cy="258.66" r="0.65" fill="#fbe0ee"/>
<circle cx="459.21" cy="259.86" r="0.65" fill="#fbe0ee"/>
<circle cx="461.21" cy="259.85" r="0.65" fill="#fbe0ee"/>
<circle cx="463.21" cy="260.59" r="0.65" fill="#fbe0ee"/>
<circle cx="465.21" cy="260.44" r="0.65" fill="#fbe0ee"/>
<circle cx="467.21" cy="259.12" r="0.65" fill="#fbe0ee"/>
<circle cx="469.2" cy="259.1" r="0.65" fill="#fbe0ee"/>
<circle cx="471.2" cy="259.35" r="0.65" fill="#fbe0ee"/>
<circle cx="473.2" cy="259.28" r="0.65" fill="#fbe0ee"/>
<circle cx="475.2" cy="260.56" r="0.65" fill="#fbe0ee"/>
<circle cx="477.19" cy="261.01" r="0.65" fill="#fbe0ee"/>
<circle cx="479.19" cy="261.19" r="0.65" fill="#fbe0ee"/>
<circle cx="481.19" cy="259.8" r="0.65" fill="#fbe0ee"/>
<circle cx="483.19" cy="261.29" r="0.65" fill="#fbe0ee"/>
<circle cx="485.19" cy="260.11" r="0.65" fill="#fbe0ee"/>
<circle cx="487.18" cy="260.45" r="0.65" fill="#fbe0ee"/>
<circle cx="489.18" cy="261.25" r="0.65" fill="#fbe0ee"/>
<circle cx="491.18" cy="259.86" r="0.65" fill="#fbe0ee"/>
<circle cx="493.18" cy="259.97" r="0.65" fill="#fbe0ee"/>
<circle cx="495.18" cy="261.77" r="0.65" fill="#fbe0ee"/>
<circle cx="497.17" cy="260.62" r="0.65" fill="#fbe0ee"/>
<circle cx="499.17" cy="260.88" r="0.65" fill="#fbe0ee"/>
<circle cx="501.17" cy="261.5" r="0.65" fill="#fbe0ee"/>
<circle cx="503.16" cy="261.83" r="0.65" fill="#fbe0ee"/>
<circle cx="505.16" cy="260.4" r="0.65" fill="#fbe0ee"/>
<circle cx="507.16" cy="261.27" r="0.65" fill="#fbe0ee"/>
<circle cx="509.15" cy="261.62" r="0.65" fill="#fbe0ee"/>
<circle cx="511.15" cy="261.86" r="0.65" fill="#fbe0ee"/>
<circle cx="513.15" cy="261.34" r="0.65" fill="#fbe0ee"/>
<circle cx="515.14" cy="262.33" r="0.65" fill="#fbe0ee"/>
<circle cx="517.14" cy="263.3" r="0.65" fill="#fbe0ee"/>
<circle cx="519.14" cy="262.13" r="0.65" fill="#fbe0ee"/>
<circle cx="521.13" cy="262.61" r="0.65" fill="#fbe0ee"/>
<circle cx="523.13" cy="261.75" r="0.65" fill="#fbe0ee"/>
<circle cx="525.12" cy="262.23" r="0.65" fill="#fbe0ee"/>
<circle cx="527.12" cy="263.26" r="0.65" fill="#fbe0ee"/>
<circle cx="529.12" cy="262.11" r="0.65" fill="#fbe0ee"/>
<circle cx="531.11" cy="264.01" r="0.65" fill="#fbe0ee"/>
<circle cx="533.11" cy="264.18" r="0.65" fill="#fbe0ee"/>
<circle cx="535.11" cy="262.44" r="0.65" fill="#fbe0ee"/>
<circle cx="537.1" cy="264.52" r="0.65" fill="#fbe0ee"/>
<circle cx="539.1" cy="263.34" r="0.65" fill="#fbe0ee"/>
<circle cx="541.09" cy="264.39" r="0.65" fill="#fbe0ee"/>
<circle cx="543.09" cy="264.49" r="0.65" fill="#fbe0ee"/>
<circle cx="545.08" cy="263.56" r="0.65" fill="#fbe0ee"/>
<circle cx="547.08" cy="264.56" r="0.65" fill="#fbe0ee"/>
<circle cx="549.08" cy="264.63" r="0.65" fill="#fbe0ee"/>
<circle cx="551.07" cy="265.1" r="0.65" fill="#fbe0ee"/>
<circle cx="553.07" cy="263.97" r="0.65" fill="#fbe0ee"/>
<circle cx="555.07" cy="265.2" r="0.65" fill="#fbe0ee"/>
<circle cx="557.06" cy="265.77" r="0.65" fill="#fbe0ee"/>
<circle cx="559.06" cy="265.2" r="0.65" fill="#fbe0ee"/>
<circle cx="561.06" cy="264.98" r="0.65" fill="#fbe0ee"/>
<circle cx="563.06" cy="264.09" r="0.65" fill="#fbe0ee"/>
<circle cx="565.06" cy="265.05" r="0.65" fill="#fbe0ee"/>
<circle cx="567.05" cy="264.8" r="0.65" fill="#fbe0ee"/>
<circle cx="569.05" cy="265.72" r="0.65" fill="#fbe0ee"/>
<circle cx="571.05" cy="265.7" r="0.65" fill="#fbe0ee"/>
<circle cx="573.05" cy="265.51" r="0.65" fill="#fbe0ee"/>
<circle cx="575.05" cy="264.69" r="0.65" fill="#fbe0ee"/>
<circle cx="577.05" cy="265.83" r="0.65" fill="#fbe0ee"/>
<circle cx="579.05" cy="265.86" r="0.65" fill="#fbe0ee"/>
<circle cx="581.05" cy="264.88" r="0.65" fill="#fbe0ee"/>
<circle cx="583.05" cy="266.58" r="0.65" fill="#fbe0ee"/>
<circle cx="585.04" cy="266.1" r="0.65" fill="#fbe0ee"/>
<circle cx="587.04" cy="264.93" r="0.65" fill="#fbe0ee"/>
<circle cx="589.04" cy="266.85" r="0.65" fill="#fbe0ee"/>
<circle cx="591.04" cy="265.09" r="0.65" fill="#fbe0ee"/>
<circle cx="593.04" cy="265.58" r="0.65" fill="#fbe0ee"/>
<circle cx="595.04" cy="266.53" r="0.65" fill="#fbe0ee"/>
<circle cx="597.04" cy="266.3" r="0.65" fill="#fbe0ee"/>
<circle cx="599.04" cy="266.25" r="0.65" fill="#fbe0ee"/>
<circle cx="601.04" cy="266.51" r="0.65" fill="#fbe0ee"/>
<circle cx="603.04" cy="266.12" r="0.65" fill="#fbe0ee"/>
<circle cx="605.04" cy="265.83" r="0.65" fill="#fbe0ee"/>
<circle cx="607.04" cy="265.56" r="0.65" fill="#fbe0ee"/>
<circle cx="609.04" cy="265.36" r="0.65" fill="#fbe0ee"/>
<circle cx="611.04" cy="266.88" r="0.65" fill="#fbe0ee"/>
<circle cx="613.04" cy="267.01" r="0.65" fill="#fbe0ee"/>
<circle cx="615.04" cy="266.56" r="0.65" fill="#fbe0ee"/>
<circle cx="617.04" cy="267.05" r="0.65" fill="#fbe0ee"/>
<circle cx="619.04" cy="266.2" r="0.65" fill="#fbe0ee"/>
<circle cx="621.03" cy="266.02" r="0.65" fill="#fbe0ee"/>
<circle cx="623.03" cy="266.33" r="0.65" fill="#fbe0ee"/>
<circle cx="625.03" cy="267.48" r="0.65" fill="#fbe0ee"/>
<circle cx="627.03" cy="265.6" r="0.65" fill="#fbe0ee"/>
<circle cx="629.03" cy="266.7" r="0.65" fill="#fbe0ee"/>
<circle cx="631.03" cy="266.14" r="0.65" fill="#fbe0ee"/>
<circle cx="633.03" cy="267.37" r="0.65" fill="#fbe0ee"/>
<circle cx="635.03" cy="266.44" r="0.65" fill="#fbe0ee"/>
<circle cx="637.03" cy="266.42" r="0.65" fill="#fbe0ee"/>
<circle cx="639.03" cy="266.62" r="0.65" fill="#fbe0ee"/>
<circle cx="391" cy="223.65" r="2.6" fill="#cc7ccc" stroke="#1c0a1a" stroke-width="0.7"/>
<circle cx="392.9" cy="223.93" r="2.6" fill="#cc7ccc" stroke="#1c0a1a" stroke-width="0.7"/>
<circle cx="394.8" cy="223.42" r="2.6" fill="#cc7ccc" stroke="#1c0a1a" stroke-width="0.7"/>
<circle cx="396.7" cy="224.02" r="2.6" fill="#cc7ccc" stroke="#1c0a1a" stroke-width="0.7"/>
<circle cx="398.6" cy="223.13" r="2.6" fill="#cc7ccc" stroke="#1c0a1a" stroke-width="0.7"/>
<circle cx="400.5" cy="223.32" r="2.6" fill="#cc7ccc" stroke="#1c0a1a" stroke-width="0.7"/>
<circle cx="402.4" cy="223.12" r="2.6" fill="#cc7ccc" stroke="#1c0a1a" stroke-width="0.7"/>
<circle cx="404.3" cy="223.14" r="2.6" fill="#cc7ccc" stroke="#1c0a1a" stroke-width="0.7"/>
<circle cx="406.2" cy="223.93" r="2.6" fill="#cc7ccc" stroke="#1c0a1a" stroke-width="0.7"/>
<circle cx="408.1" cy="223.87" r="2.6" fill="#cc7ccc" stroke="#1c0a1a" stroke-width="0.7"/>
<circle cx="410" cy="223.22" r="2.6" fill="#cc7ccc" stroke="#1c0a1a" stroke-width="0.7"/>
<circle cx="411.9" cy="223.23" r="2.6" fill="#cc7ccc" stroke="#1c0a1a" stroke-width="0.7"/>
<circle cx="413.8" cy="223.5" r="2.6" fill="#cc7ccc" stroke="#1c0a1a" stroke-width="0.7"/>
<circle cx="415.7" cy="223.89" r="2.6" fill="#cc7ccc" stroke="#1c0a1a" stroke-width="0.7"/>
<circle cx="417.6" cy="223.98" r="2.6" fill="#cc7ccc" stroke="#1c0a1a" stroke-width="0.7"/>
<circle cx="419.5" cy="223.9" r="2.6" fill="#cc7ccc" stroke="#1c0a1a" stroke-width="0.7"/>
<circle cx="421.4" cy="223.71" r="2.6" fill="#cc7ccc" stroke="#1c0a1a" stroke-width="0.7"/>
<circle cx="423.3" cy="223.18" r="2.6" fill="#cc7ccc" stroke="#1c0a1a" stroke-width="0.7"/>
<circle cx="425.2" cy="223.48" r="2.6" fill="#cc7ccc" stroke="#1c0a1a" stroke-width="0.7"/>
<circle cx="427.1" cy="223.23" r="2.6" fill="#cc7ccc" stroke="#1c0a1a" stroke-width="0.7"/>
<circle cx="429" cy="223.63" r="2.6" fill="#cc7ccc" stroke="#1c0a1a" stroke-width="0.7"/>
<circle cx="430.9" cy="223.68" r="2.6" fill="#cc7ccc" stroke="#1c0a1a" stroke-width="0.7"/>
<circle cx="432.8" cy="223.24" r="2.6" fill="#cc7ccc" stroke="#1c0a1a" stroke-width="0.7"/>
<circle cx="434.7" cy="223.3" r="2.6" fill="#cc7ccc" stroke="#1c0a1a" stroke-width="0.7"/>
<circle cx="436.6" cy="223.94" r="2.6" fill="#cc7ccc" stroke="#1c0a1a" stroke-width="0.7"/>
<circle cx="438.5" cy="223.04" r="2.6" fill="#cc7ccc" stroke="#1c0a1a" stroke-width="0.7"/>
<circle cx="440.4" cy="223.96" r="2.6" fill="#cc7ccc" stroke="#1c0a1a" stroke-width="0.7"/>
<circle cx="442.3" cy="224.07" r="2.6" fill="#cc7ccc" stroke="#1c0a1a" stroke-width="0.7"/>
<circle cx="444.2" cy="224.14" r="2.6" fill="#cc7ccc" stroke="#1c0a1a" stroke-width="0.7"/>
<circle cx="446.1" cy="223.46" r="2.6" fill="#cc7ccc" stroke="#1c0a1a" stroke-width="0.7"/>
<circle cx="448" cy="223.66" r="2.6" fill="#cc7ccc" stroke="#1c0a1a" stroke-width="0.7"/>
<circle cx="449.9" cy="223.7" r="2.6" fill="#cc7ccc" stroke="#1c0a1a" stroke-width="0.7"/>
<circle cx="451.8" cy="223.76" r="2.6" fill="#cc7ccc" stroke="#1c0a1a" stroke-width="0.7"/>
<circle cx="453.7" cy="224.17" r="2.6" fill="#cc7ccc" stroke="#1c0a1a" stroke-width="0.7"/>
<circle cx="455.6" cy="223.82" r="2.6" fill="#cc7ccc" stroke="#1c0a1a" stroke-width="0.7"/>
<circle cx="457.5" cy="223.36" r="2.6" fill="#cc7ccc" stroke="#1c0a1a" stroke-width="0.7"/>
<circle cx="459.4" cy="224.03" r="2.6" fill="#cc7ccc" stroke="#1c0a1a" stroke-width="0.7"/>
<circle cx="461.3" cy="223.58" r="2.6" fill="#cc7ccc" stroke="#1c0a1a" stroke-width="0.7"/>
<circle cx="463.2" cy="223.72" r="2.6" fill="#cc7ccc" stroke="#1c0a1a" stroke-width="0.7"/>
<circle cx="465.1" cy="223.87" r="2.6" fill="#cc7ccc" stroke="#1c0a1a" stroke-width="0.7"/>
<circle cx="467" cy="223" r="2.6" fill="#cc7ccc" stroke="#1c0a1a" stroke-width="0.7"/>
<circle cx="468.9" cy="223.92" r="2.6" fill="#cc7ccc" stroke="#1c0a1a" stroke-width="0.7"/>
<circle cx="470.8" cy="223.79" r="2.6" fill="#cc7ccc" stroke="#1c0a1a" stroke-width="0.7"/>
<circle cx="472.7" cy="223.59" r="2.6" fill="#cc7ccc" stroke="#1c0a1a" stroke-width="0.7"/>
<circle cx="474.6" cy="223.63" r="2.6" fill="#cc7ccc" stroke="#1c0a1a" stroke-width="0.7"/>
<circle cx="476.5" cy="223.55" r="2.6" fill="#cc7ccc" stroke="#1c0a1a" stroke-width="0.7"/>
<circle cx="478.4" cy="223.23" r="2.6" fill="#cc7ccc" stroke="#1c0a1a" stroke-width="0.7"/>
<circle cx="480.3" cy="223.64" r="2.6" fill="#cc7ccc" stroke="#1c0a1a" stroke-width="0.7"/>
<circle cx="482.2" cy="223.04" r="2.6" fill="#cc7ccc" stroke="#1c0a1a" stroke-width="0.7"/>
<circle cx="484.1" cy="223.6" r="2.6" fill="#cc7ccc" stroke="#1c0a1a" stroke-width="0.7"/>
<circle cx="486" cy="223.78" r="2.6" fill="#cc7ccc" stroke="#1c0a1a" stroke-width="0.7"/>
<circle cx="487.9" cy="223.53" r="2.6" fill="#cc7ccc" stroke="#1c0a1a" stroke-width="0.7"/>
<circle cx="489.8" cy="223.68" r="2.6" fill="#cc7ccc" stroke="#1c0a1a" stroke-width="0.7"/>
<circle cx="491.7" cy="224.15" r="2.6" fill="#cc7ccc" stroke="#1c0a1a" stroke-width="0.7"/>
<circle cx="493.6" cy="224.07" r="2.6" fill="#cc7ccc" stroke="#1c0a1a" stroke-width="0.7"/>
<circle cx="495.5" cy="223.16" r="2.6" fill="#cc7ccc" stroke="#1c0a1a" stroke-width="0.7"/>
<circle cx="497.4" cy="223.95" r="2.6" fill="#cc7ccc" stroke="#1c0a1a" stroke-width="0.7"/>
<circle cx="499.3" cy="223.75" r="2.6" fill="#cc7ccc" stroke="#1c0a1a" stroke-width="0.7"/>
<circle cx="501.2" cy="223.06" r="2.6" fill="#cc7ccc" stroke="#1c0a1a" stroke-width="0.7"/>
<circle cx="503.1" cy="223.43" r="2.6" fill="#cc7ccc" stroke="#1c0a1a" stroke-width="0.7"/>
<circle cx="505" cy="223.28" r="2.6" fill="#cc7ccc" stroke="#1c0a1a" stroke-width="0.7"/>
<circle cx="506.9" cy="223.09" r="2.6" fill="#cc7ccc" stroke="#1c0a1a" stroke-width="0.7"/>
<circle cx="508.8" cy="223.65" r="2.6" fill="#cc7ccc" stroke="#1c0a1a" stroke-width="0.7"/>
<circle cx="510.7" cy="224.12" r="2.6" fill="#cc7ccc" stroke="#1c0a1a" stroke-width="0.7"/>
<circle cx="512.6" cy="223.39" r="2.6" fill="#cc7ccc" stroke="#1c0a1a" stroke-width="0.7"/>
<circle cx="514.5" cy="224.04" r="2.6" fill="#cc7ccc" stroke="#1c0a1a" stroke-width="0.7"/>
<circle cx="516.4" cy="223.83" r="2.6" fill="#cc7ccc" stroke="#1c0a1a" stroke-width="0.7"/>
<circle cx="518.3" cy="223.16" r="2.6" fill="#cc7ccc" stroke="#1c0a1a" stroke-width="0.7"/>
<circle cx="520.2" cy="224.03" r="2.6" fill="#cc7ccc" stroke="#1c0a1a" stroke-width="0.7"/>
<circle cx="522.1" cy="223.72" r="2.6" fill="#cc7ccc" stroke="#1c0a1a" stroke-width="0.7"/>
<circle cx="524" cy="224.11" r="2.6" fill="#cc7ccc" stroke="#1c0a1a" stroke-width="0.7"/>
<circle cx="525.9" cy="223.86" r="2.6" fill="#cc7ccc" stroke="#1c0a1a" stroke-width="0.7"/>
<circle cx="527.8" cy="223.89" r="2.6" fill="#cc7ccc" stroke="#1c0a1a" stroke-width="0.7"/>
<circle cx="529.7" cy="223.41" r="2.6" fill="#cc7ccc" stroke="#1c0a1a" stroke-width="0.7"/>
<circle cx="531.6" cy="223.97" r="2.6" fill="#cc7ccc" stroke="#1c0a1a" stroke-width="0.7"/>
<circle cx="533.5" cy="224.12" r="2.6" fill="#cc7ccc" stroke="#1c0a1a" stroke-width="0.7"/>
<circle cx="535.4" cy="224.03" r="2.6" fill="#cc7ccc" stroke="#1c0a1a" stroke-width="0.7"/>
<circle cx="537.3" cy="223.52" r="2.6" fill="#cc7ccc" stroke="#1c0a1a" stroke-width="0.7"/>
<circle cx="539.2" cy="223.91" r="2.6" fill="#cc7ccc" stroke="#1c0a1a" stroke-width="0.7"/>
<circle cx="541.1" cy="223.58" r="2.6" fill="#cc7ccc" stroke="#1c0a1a" stroke-width="0.7"/>
<circle cx="543" cy="223.13" r="2.6" fill="#cc7ccc" stroke="#1c0a1a" stroke-width="0.7"/>
<circle cx="544.9" cy="223.05" r="2.6" fill="#cc7ccc" stroke="#1c0a1a" stroke-width="0.7"/>
<circle cx="546.8" cy="223.09" r="2.6" fill="#cc7ccc" stroke="#1c0a1a" stroke-width="0.7"/>
<circle cx="548.7" cy="223.24" r="2.6" fill="#cc7ccc" stroke="#1c0a1a" stroke-width="0.7"/>
<circle cx="550.6" cy="223.19" r="2.6" fill="#cc7ccc" stroke="#1c0a1a" stroke-width="0.7"/>
<circle cx="552.5" cy="223.6" r="2.6" fill="#cc7ccc" stroke="#1c0a1a" stroke-width="0.7"/>
<circle cx="554.4" cy="223.84" r="2.6" fill="#cc7ccc" stroke="#1c0a1a" stroke-width="0.7"/>
<circle cx="556.3" cy="223.64" r="2.6" fill="#cc7ccc" stroke="#1c0a1a" stroke-width="0.7"/>
<circle cx="558.2" cy="223.51" r="2.6" fill="#cc7ccc" stroke="#1c0a1a" stroke-width="0.7"/>
<circle cx="560.1" cy="223.78" r="2.6" fill="#cc7ccc" stroke="#1c0a1a" stroke-width="0.7"/>
<circle cx="562" cy="223.37" r="2.6" fill="#cc7ccc" stroke="#1c0a1a" stroke-width="0.7"/>
<circle cx="563.9" cy="223.56" r="2.6" fill="#cc7ccc" stroke="#1c0a1a" stroke-width="0.7"/>
<circle cx="565.8" cy="223.91" r="2.6" fill="#cc7ccc" stroke="#1c0a1a" stroke-width="0.7"/>
<circle cx="567.7" cy="223.48" r="2.6" fill="#cc7ccc" stroke="#1c0a1a" stroke-width="0.7"/>
<circle cx="569.6" cy="223.22" r="2.6" fill="#cc7ccc" stroke="#1c0a1a" stroke-width="0.7"/>
<circle cx="571.5" cy="224.08" r="2.6" fill="#cc7ccc" stroke="#1c0a1a" stroke-width="0.7"/>
<circle cx="573.4" cy="223.86" r="2.6" fill="#cc7ccc" stroke="#1c0a1a" stroke-width="0.7"/>
<circle cx="575.3" cy="223.44" r="2.6" fill="#cc7ccc" stroke="#1c0a1a" stroke-width="0.7"/>
<circle cx="577.2" cy="223.45" r="2.6" fill="#cc7ccc" stroke="#1c0a1a" stroke-width="0.7"/>
<circle cx="579.1" cy="223.64" r="2.6" fill="#cc7ccc" stroke="#1c0a1a" stroke-width="0.7"/>
<circle cx="581" cy="223.72" r="2.6" fill="#cc7ccc" stroke="#1c0a1a" stroke-width="0.7"/>
<circle cx="582.9" cy="223.27" r="2.6" fill="#cc7ccc" stroke="#1c0a1a" stroke-width="0.7"/>
<circle cx="584.8" cy="223" r="2.6" fill="#cc7ccc" stroke="#1c0a1a" stroke-width="0.7"/>
<circle cx="586.7" cy="223.25" r="2.6" fill="#cc7ccc" stroke="#1c0a1a" stroke-width="0.7"/>
<circle cx="588.6" cy="223.94" r="2.6" fill="#cc7ccc" stroke="#1c0a1a" stroke-width="0.7"/>
<circle cx="590.5" cy="223.17" r="2.6" fill="#cc7ccc" stroke="#1c0a1a" stroke-width="0.7"/>
<circle cx="592.4" cy="223.55" r="2.6" fill="#cc7ccc" stroke="#1c0a1a" stroke-width="0.7"/>
<circle cx="594.3" cy="223.23" r="2.6" fill="#cc7ccc" stroke="#1c0a1a" stroke-width="0.7"/>
<circle cx="596.2" cy="223.25" r="2.6" fill="#cc7ccc" stroke="#1c0a1a" stroke-width="0.7"/>
<circle cx="598.1" cy="223.2" r="2.6" fill="#cc7ccc" stroke="#1c0a1a" stroke-width="0.7"/>
<circle cx="600" cy="223.48" r="2.6" fill="#cc7ccc" stroke="#1c0a1a" stroke-width="0.7"/>
<circle cx="601.9" cy="223.2" r="2.6" fill="#cc7ccc" stroke="#1c0a1a" stroke-width="0.7"/>
<circle cx="603.8" cy="223.03" r="2.6" fill="#cc7ccc" stroke="#1c0a1a" stroke-width="0.7"/>
<circle cx="605.7" cy="223.13" r="2.6" fill="#cc7ccc" stroke="#1c0a1a" stroke-width="0.7"/>
<circle cx="607.6" cy="223.2" r="2.6" fill="#cc7ccc" stroke="#1c0a1a" stroke-width="0.7"/>
<circle cx="609.5" cy="223.59" r="2.6" fill="#cc7ccc" stroke="#1c0a1a" stroke-width="0.7"/>
<circle cx="611.4" cy="223.07" r="2.6" fill="#cc7ccc" stroke="#1c0a1a" stroke-width="0.7"/>
<circle cx="613.3" cy="223.03" r="2.6" fill="#cc7ccc" stroke="#1c0a1a" stroke-width="0.7"/>
<circle cx="615.2" cy="223.54" r="2.6" fill="#cc7ccc" stroke="#1c0a1a" stroke-width="0.7"/>
<circle cx="617.1" cy="223.49" r="2.6" fill="#cc7ccc" stroke="#1c0a1a" stroke-width="0.7"/>
<circle cx="619" cy="223.84" r="2.6" fill="#cc7ccc" stroke="#1c0a1a" stroke-width="0.7"/>
<circle cx="620.9" cy="223.06" r="2.6" fill="#cc7ccc" stroke="#1c0a1a" stroke-width="0.7"/>
<circle cx="622.8" cy="223.48" r="2.6" fill="#cc7ccc" stroke="#1c0a1a" stroke-width="0.7"/>
<circle cx="624.7" cy="223.48" r="2.6" fill="#cc7ccc" stroke="#1c0a1a" stroke-width="0.7"/>
<circle cx="626.6" cy="223.03" r="2.6" fill="#cc7ccc" stroke="#1c0a1a" stroke-width="0.7"/>
<circle cx="628.5" cy="224.16" r="2.6" fill="#cc7ccc" stroke="#1c0a1a" stroke-width="0.7"/>
<circle cx="630.4" cy="223.26" r="2.6" fill="#cc7ccc" stroke="#1c0a1a" stroke-width="0.7"/>
<circle cx="632.3" cy="223.11" r="2.6" fill="#cc7ccc" stroke="#1c0a1a" stroke-width="0.7"/>
<circle cx="634.2" cy="223.57" r="2.6" fill="#cc7ccc" stroke="#1c0a1a" stroke-width="0.7"/>
<circle cx="636.1" cy="223.2" r="2.6" fill="#cc7ccc" stroke="#1c0a1a" stroke-width="0.7"/>
<circle cx="637.6" cy="223.6" r="2.9" fill="#d27ad0" stroke="#9a5a9a" stroke-width="0.4"/>
<rect x="429.1" y="222.14" width="4.8" height="4.8" fill="#4b7acb" stroke="#1a2a55" stroke-width="0.45"/>
<rect x="430.8" y="221.37" width="4.8" height="4.8" fill="#4b7acb" stroke="#1a2a55" stroke-width="0.45"/>
<rect x="432.5" y="220.75" width="4.8" height="4.8" fill="#4b7acb" stroke="#1a2a55" stroke-width="0.45"/>
<rect x="434.2" y="220.55" width="4.8" height="4.8" fill="#4b7acb" stroke="#1a2a55" stroke-width="0.45"/>
<rect x="435.9" y="222.44" width="4.8" height="4.8" fill="#4b7acb" stroke="#1a2a55" stroke-width="0.45"/>
<rect x="437.6" y="221.17" width="4.8" height="4.8" fill="#4b7acb" stroke="#1a2a55" stroke-width="0.45"/>
<rect x="439.3" y="222.61" width="4.8" height="4.8" fill="#4b7acb" stroke="#1a2a55" stroke-width="0.45"/>
<rect x="441" y="221.7" width="4.8" height="4.8" fill="#4b7acb" stroke="#1a2a55" stroke-width="0.45"/>
<rect x="442.7" y="223.01" width="4.8" height="4.8" fill="#4b7acb" stroke="#1a2a55" stroke-width="0.45"/>
<rect x="444.4" y="221.24" width="4.8" height="4.8" fill="#4b7acb" stroke="#1a2a55" stroke-width="0.45"/>
<rect x="446.1" y="221.1" width="4.8" height="4.8" fill="#4b7acb" stroke="#1a2a55" stroke-width="0.45"/>
<rect x="447.8" y="221.14" width="4.8" height="4.8" fill="#4b7acb" stroke="#1a2a55" stroke-width="0.45"/>
<rect x="449.5" y="222.68" width="4.8" height="4.8" fill="#4b7acb" stroke="#1a2a55" stroke-width="0.45"/>
<rect x="390.2" y="228" width="4.4" height="4.8" fill="#4b7acb" stroke="#1a2a55" stroke-width="0.4"/>
<rect x="390.2" y="233.4" width="4.4" height="4.8" fill="#4b7acb" stroke="#1a2a55" stroke-width="0.4"/>
<circle cx="391.6" cy="224.16" r="3.0" fill="#3f8a2c" stroke="#0a1206" stroke-width="0.85"/>
<circle cx="392.75" cy="223.37" r="3.0" fill="#3f8a2c" stroke="#0a1206" stroke-width="0.85"/>
<circle cx="393.9" cy="222.66" r="3.0" fill="#3f8a2c" stroke="#0a1206" stroke-width="0.85"/>
<circle cx="395.05" cy="224.31" r="3.0" fill="#3f8a2c" stroke="#0a1206" stroke-width="0.85"/>
<circle cx="396.2" cy="225.11" r="3.0" fill="#3f8a2c" stroke="#0a1206" stroke-width="0.85"/>
<circle cx="397.35" cy="224.06" r="3.0" fill="#3f8a2c" stroke="#0a1206" stroke-width="0.85"/>
<circle cx="398.5" cy="222.41" r="3.0" fill="#3f8a2c" stroke="#0a1206" stroke-width="0.85"/>
<circle cx="399.65" cy="222.48" r="3.0" fill="#3f8a2c" stroke="#0a1206" stroke-width="0.85"/>
<circle cx="400.8" cy="222.65" r="3.0" fill="#3f8a2c" stroke="#0a1206" stroke-width="0.85"/>
<circle cx="401.95" cy="222.88" r="3.0" fill="#3f8a2c" stroke="#0a1206" stroke-width="0.85"/>
<circle cx="403.1" cy="222.5" r="3.0" fill="#3f8a2c" stroke="#0a1206" stroke-width="0.85"/>
<circle cx="404.25" cy="222.55" r="3.0" fill="#3f8a2c" stroke="#0a1206" stroke-width="0.85"/>
<circle cx="405.4" cy="224.23" r="3.0" fill="#3f8a2c" stroke="#0a1206" stroke-width="0.85"/>
<circle cx="406.55" cy="224.92" r="3.0" fill="#3f8a2c" stroke="#0a1206" stroke-width="0.85"/>
<circle cx="407.7" cy="222.96" r="3.0" fill="#3f8a2c" stroke="#0a1206" stroke-width="0.85"/>
<circle cx="408.85" cy="225.13" r="3.0" fill="#3f8a2c" stroke="#0a1206" stroke-width="0.85"/>
<circle cx="410" cy="223.74" r="3.0" fill="#3f8a2c" stroke="#0a1206" stroke-width="0.85"/>
<circle cx="411.15" cy="224.65" r="3.0" fill="#3f8a2c" stroke="#0a1206" stroke-width="0.85"/>
<circle cx="412.3" cy="224.97" r="3.0" fill="#3f8a2c" stroke="#0a1206" stroke-width="0.85"/>
<circle cx="413.45" cy="225.03" r="3.0" fill="#3f8a2c" stroke="#0a1206" stroke-width="0.85"/>
<circle cx="414.6" cy="222.5" r="3.0" fill="#3f8a2c" stroke="#0a1206" stroke-width="0.85"/>
<circle cx="415.75" cy="223.25" r="3.0" fill="#3f8a2c" stroke="#0a1206" stroke-width="0.85"/>
<circle cx="416.9" cy="224.1" r="3.0" fill="#3f8a2c" stroke="#0a1206" stroke-width="0.85"/>
<circle cx="418.05" cy="225.05" r="3.0" fill="#3f8a2c" stroke="#0a1206" stroke-width="0.85"/>
<circle cx="419.2" cy="222.65" r="3.0" fill="#3f8a2c" stroke="#0a1206" stroke-width="0.85"/>
<circle cx="420.35" cy="223.22" r="3.0" fill="#3f8a2c" stroke="#0a1206" stroke-width="0.85"/>
<circle cx="421.5" cy="224.78" r="3.0" fill="#3f8a2c" stroke="#0a1206" stroke-width="0.85"/>
<circle cx="422.65" cy="222.72" r="3.0" fill="#3f8a2c" stroke="#0a1206" stroke-width="0.85"/>
<circle cx="423.8" cy="223.49" r="3.0" fill="#3f8a2c" stroke="#0a1206" stroke-width="0.85"/>
<circle cx="424.95" cy="223.34" r="3.0" fill="#3f8a2c" stroke="#0a1206" stroke-width="0.85"/>
<circle cx="426.1" cy="224.3" r="3.0" fill="#3f8a2c" stroke="#0a1206" stroke-width="0.85"/>
<circle cx="427.3" cy="224.4" r="3.1" fill="#7cd04a"/>
<rect x="389.9" y="255.8" width="4.8" height="4.8" fill="#4b77c8" stroke="#131d38" stroke-width="0.55"/>
<rect x="389.97" y="258.3" width="4.8" height="4.8" fill="#4b77c8" stroke="#131d38" stroke-width="0.55"/>
<rect x="390.04" y="260.8" width="4.8" height="4.8" fill="#4b77c8" stroke="#131d38" stroke-width="0.55"/>
<rect x="390.12" y="263.3" width="4.8" height="4.8" fill="#4b77c8" stroke="#131d38" stroke-width="0.55"/>
<rect x="390.21" y="265.8" width="4.8" height="4.8" fill="#4b77c8" stroke="#131d38" stroke-width="0.55"/>
<rect x="390.28" y="268.29" width="4.8" height="4.8" fill="#4b77c8" stroke="#131d38" stroke-width="0.55"/>
<rect x="390.34" y="270.79" width="4.8" height="4.8" fill="#4b77c8" stroke="#131d38" stroke-width="0.55"/>
<rect x="390.42" y="273.29" width="4.8" height="4.8" fill="#4b77c8" stroke="#131d38" stroke-width="0.55"/>
<rect x="390.56" y="275.79" width="4.8" height="4.8" fill="#4b77c8" stroke="#131d38" stroke-width="0.55"/>
<rect x="390.83" y="278.27" width="4.8" height="4.8" fill="#4b77c8" stroke="#131d38" stroke-width="0.55"/>
<rect x="391.32" y="280.72" width="4.8" height="4.8" fill="#4b77c8" stroke="#131d38" stroke-width="0.55"/>
<rect x="392.05" y="283.11" width="4.8" height="4.8" fill="#4b77c8" stroke="#131d38" stroke-width="0.55"/>
<rect x="392.88" y="285.47" width="4.8" height="4.8" fill="#4b77c8" stroke="#131d38" stroke-width="0.55"/>
<rect x="393.66" y="287.85" width="4.8" height="4.8" fill="#4b77c8" stroke="#131d38" stroke-width="0.55"/>
<rect x="394.45" y="290.22" width="4.8" height="4.8" fill="#4b77c8" stroke="#131d38" stroke-width="0.55"/>
<rect x="395.43" y="292.52" width="4.8" height="4.8" fill="#4b77c8" stroke="#131d38" stroke-width="0.55"/>
<rect x="396.76" y="294.63" width="4.8" height="4.8" fill="#4b77c8" stroke="#131d38" stroke-width="0.55"/>
<rect x="398.35" y="296.55" width="4.8" height="4.8" fill="#4b77c8" stroke="#131d38" stroke-width="0.55"/>
<rect x="400.02" y="298.42" width="4.8" height="4.8" fill="#4b77c8" stroke="#131d38" stroke-width="0.55"/>
<rect x="401.63" y="300.33" width="4.8" height="4.8" fill="#4b77c8" stroke="#131d38" stroke-width="0.55"/>
<rect x="403.24" y="302.25" width="4.8" height="4.8" fill="#4b77c8" stroke="#131d38" stroke-width="0.55"/>
<rect x="404.85" y="304.15" width="4.8" height="4.8" fill="#4b77c8" stroke="#131d38" stroke-width="0.55"/>
<rect x="406.46" y="306.07" width="4.8" height="4.8" fill="#4b77c8" stroke="#131d38" stroke-width="0.55"/>
<rect x="408.07" y="307.98" width="4.8" height="4.8" fill="#4b77c8" stroke="#131d38" stroke-width="0.55"/>
<rect x="409.67" y="309.9" width="4.8" height="4.8" fill="#4b77c8" stroke="#131d38" stroke-width="0.55"/>
<rect x="411.28" y="311.81" width="4.8" height="4.8" fill="#4b77c8" stroke="#131d38" stroke-width="0.55"/>
<rect x="412.87" y="313.74" width="4.8" height="4.8" fill="#4b77c8" stroke="#131d38" stroke-width="0.55"/>
<rect x="414.46" y="315.67" width="4.8" height="4.8" fill="#4b77c8" stroke="#131d38" stroke-width="0.55"/>
<rect x="416.08" y="317.58" width="4.8" height="4.8" fill="#4b77c8" stroke="#131d38" stroke-width="0.55"/>
<rect x="417.72" y="319.46" width="4.8" height="4.8" fill="#4b77c8" stroke="#131d38" stroke-width="0.55"/>
<rect x="419.4" y="321.32" width="4.8" height="4.8" fill="#4b77c8" stroke="#131d38" stroke-width="0.55"/>
<rect x="421.12" y="323.12" width="4.8" height="4.8" fill="#4b77c8" stroke="#131d38" stroke-width="0.55"/>
<rect x="422.92" y="324.86" width="4.8" height="4.8" fill="#4b77c8" stroke="#131d38" stroke-width="0.55"/>
<rect x="424.78" y="326.53" width="4.8" height="4.8" fill="#4b77c8" stroke="#131d38" stroke-width="0.55"/>
<rect x="426.7" y="328.13" width="4.8" height="4.8" fill="#4b77c8" stroke="#131d38" stroke-width="0.55"/>
<rect x="428.62" y="329.74" width="4.8" height="4.8" fill="#4b77c8" stroke="#131d38" stroke-width="0.55"/>
<rect x="430.58" y="331.29" width="4.8" height="4.8" fill="#4b77c8" stroke="#131d38" stroke-width="0.55"/>
<rect x="432.67" y="332.66" width="4.8" height="4.8" fill="#4b77c8" stroke="#131d38" stroke-width="0.55"/>
<rect x="434.95" y="333.68" width="4.8" height="4.8" fill="#4b77c8" stroke="#131d38" stroke-width="0.55"/>
<rect x="437.35" y="334.37" width="4.8" height="4.8" fill="#4b77c8" stroke="#131d38" stroke-width="0.55"/>
<rect x="439.78" y="334.96" width="4.8" height="4.8" fill="#4b77c8" stroke="#131d38" stroke-width="0.55"/>
<rect x="442.19" y="335.6" width="4.8" height="4.8" fill="#4b77c8" stroke="#131d38" stroke-width="0.55"/>
<rect x="444.61" y="336.23" width="4.8" height="4.8" fill="#4b77c8" stroke="#131d38" stroke-width="0.55"/>
<rect x="447.03" y="336.85" width="4.8" height="4.8" fill="#4b77c8" stroke="#131d38" stroke-width="0.55"/>
<rect x="449.46" y="337.46" width="4.8" height="4.8" fill="#4b77c8" stroke="#131d38" stroke-width="0.55"/>
<circle cx="391.3" cy="260.5" r="3.0" fill="#5cbf36" stroke="#0e1a08" stroke-width="0.6"/>
<circle cx="391.89" cy="263.75" r="3.0" fill="#5cbf36" stroke="#0e1a08" stroke-width="0.6"/>
<circle cx="392.49" cy="266.77" r="3.0" fill="#5cbf36" stroke="#0e1a08" stroke-width="0.6"/>
<circle cx="393.35" cy="269.98" r="3.0" fill="#5cbf36" stroke="#0e1a08" stroke-width="0.6"/>
<circle cx="394.46" cy="272.91" r="3.0" fill="#5cbf36" stroke="#0e1a08" stroke-width="0.6"/>
<circle cx="395.64" cy="275.42" r="3.0" fill="#5cbf36" stroke="#0e1a08" stroke-width="0.6"/>
<circle cx="396.7" cy="277.39" r="3.0" fill="#5cbf36" stroke="#0e1a08" stroke-width="0.6"/>
<circle cx="397.82" cy="279.27" r="3.0" fill="#5cbf36" stroke="#0e1a08" stroke-width="0.6"/>
<circle cx="398.93" cy="280.87" r="3.0" fill="#5cbf36" stroke="#0e1a08" stroke-width="0.6"/>
<circle cx="400.03" cy="282.21" r="3.0" fill="#5cbf36" stroke="#0e1a08" stroke-width="0.6"/>
<circle cx="401.1" cy="283.33" r="3.0" fill="#5cbf36" stroke="#0e1a08" stroke-width="0.6"/>
<circle cx="402.09" cy="284.25" r="3.0" fill="#5cbf36" stroke="#0e1a08" stroke-width="0.6"/>
<circle cx="403.12" cy="285.14" r="3.0" fill="#5cbf36" stroke="#0e1a08" stroke-width="0.6"/>
<circle cx="404.19" cy="285.99" r="3.0" fill="#5cbf36" stroke="#0e1a08" stroke-width="0.6"/>
<circle cx="405.26" cy="286.78" r="3.0" fill="#5cbf36" stroke="#0e1a08" stroke-width="0.6"/>
<circle cx="406.3" cy="287.5" r="3.0" fill="#5cbf36" stroke="#0e1a08" stroke-width="0.6"/>
<circle cx="407.33" cy="288.14" r="3.0" fill="#5cbf36" stroke="#0e1a08" stroke-width="0.6"/>
<circle cx="408.37" cy="288.71" r="3.0" fill="#5cbf36" stroke="#0e1a08" stroke-width="0.6"/>
<circle cx="409.41" cy="289.23" r="3.0" fill="#5cbf36" stroke="#0e1a08" stroke-width="0.6"/>
<circle cx="410.44" cy="289.71" r="3.0" fill="#5cbf36" stroke="#0e1a08" stroke-width="0.6"/>
<circle cx="411.44" cy="290.16" r="3.0" fill="#5cbf36" stroke="#0e1a08" stroke-width="0.6"/>
<circle cx="412.4" cy="290.6" r="3.0" fill="#5cbf36" stroke="#0e1a08" stroke-width="0.6"/>
<circle cx="413.33" cy="291" r="3.0" fill="#5cbf36" stroke="#0e1a08" stroke-width="0.6"/>
<circle cx="414.25" cy="291.33" r="3.0" fill="#5cbf36" stroke="#0e1a08" stroke-width="0.6"/>
<circle cx="415.14" cy="291.64" r="3.0" fill="#5cbf36" stroke="#0e1a08" stroke-width="0.6"/>
<circle cx="416.16" cy="292.03" r="3.0" fill="#5cbf36" stroke="#0e1a08" stroke-width="0.6"/>
<circle cx="417.08" cy="292.51" r="3.0" fill="#5cbf36" stroke="#0e1a08" stroke-width="0.6"/>
<circle cx="418.01" cy="293.23" r="3.0" fill="#5cbf36" stroke="#0e1a08" stroke-width="0.6"/>
<circle cx="418.89" cy="294.17" r="3.0" fill="#5cbf36" stroke="#0e1a08" stroke-width="0.6"/>
<circle cx="419.73" cy="295.4" r="3.0" fill="#5cbf36" stroke="#0e1a08" stroke-width="0.6"/>
<circle cx="420.58" cy="297.08" r="3.0" fill="#5cbf36" stroke="#0e1a08" stroke-width="0.6"/>
<circle cx="421.41" cy="299.3" r="3.0" fill="#5cbf36" stroke="#0e1a08" stroke-width="0.6"/>
<circle cx="422.2" cy="302.17" r="3.0" fill="#5cbf36" stroke="#0e1a08" stroke-width="0.6"/>
<circle cx="422.94" cy="305.3" r="3.0" fill="#5cbf36" stroke="#0e1a08" stroke-width="0.6"/>
<circle cx="423.61" cy="308.64" r="3.0" fill="#5cbf36" stroke="#0e1a08" stroke-width="0.6"/>
<circle cx="424.2" cy="311.82" r="3.0" fill="#5cbf36" stroke="#0e1a08" stroke-width="0.6"/>
<circle cx="424.8" cy="314.94" r="3.0" fill="#5cbf36" stroke="#0e1a08" stroke-width="0.6"/>
<circle cx="425.38" cy="317.89" r="3.0" fill="#5cbf36" stroke="#0e1a08" stroke-width="0.6"/>
<circle cx="425.94" cy="320.8" r="3.0" fill="#5cbf36" stroke="#0e1a08" stroke-width="0.6"/>
<circle cx="426.44" cy="323.33" r="3.0" fill="#5cbf36" stroke="#0e1a08" stroke-width="0.6"/>
<circle cx="426.92" cy="325.56" r="3.0" fill="#5cbf36" stroke="#0e1a08" stroke-width="0.6"/>
<circle cx="427.35" cy="327.26" r="3.0" fill="#5cbf36" stroke="#0e1a08" stroke-width="0.6"/>
<circle cx="427.6" cy="328.2" r="3.0" fill="#5cbf36" stroke="#0e1a08" stroke-width="0.6"/>
</g>
<path d="M606.2,228.8 Q618,234.4 638.4,234.1" fill="none" stroke="#dc5aa8" stroke-width="0.8"/>
<path d="M634.2,231.0 L638.8,234.1 L634.0,237.0" fill="none" stroke="#dc5aa8" stroke-width="0.8"/>
<text x="634.6" y="352.1" font-size="9.4" text-anchor="end" font-weight="bold" fill="#111" stroke="#111" stroke-width="0.2" >0.2 A g<tspan font-size="5.3" dy="-3.4">&#8722;1</tspan></text>
<text x="634.2" y="282.2" font-size="9.6" text-anchor="end" font-weight="bold" fill="#d4489c" stroke="#d4489c" stroke-width="0.2" >NP Zn<tspan font-size="6.2" dy="2.5" font-style="italic">x</tspan><tspan dy="-2.5">Cu</tspan><tspan font-size="6.2" dy="2.5" font-style="italic">y</tspan><tspan dy="-2.5">/Zn//K</tspan><tspan font-size="6.2" dy="2.5" font-style="italic">z</tspan><tspan dy="-2.5">MnO</tspan><tspan font-size="6.2" dy="2.5">2</tspan></text>
<text x="431.4" y="314.8" font-size="9.6" text-anchor="start" font-weight="bold" fill="#60c220" stroke="#60c220" stroke-width="0.2" >NP Zn//K<tspan font-size="6.2" dy="2.5" font-style="italic">z</tspan><tspan dy="-2.5">MnO</tspan><tspan font-size="6.2" dy="2.5">2</tspan></text>
<text x="427.6" y="353.8" font-size="9.6" text-anchor="start" font-weight="bold" fill="#5a80c6" stroke="#5a80c6" stroke-width="0.2" >Bulk Zn//K<tspan font-size="6.2" dy="2.5" font-style="italic">z</tspan><tspan dy="-2.5">MnO</tspan><tspan font-size="6.2" dy="2.5">2</tspan></text>
</svg>
</body></html>
